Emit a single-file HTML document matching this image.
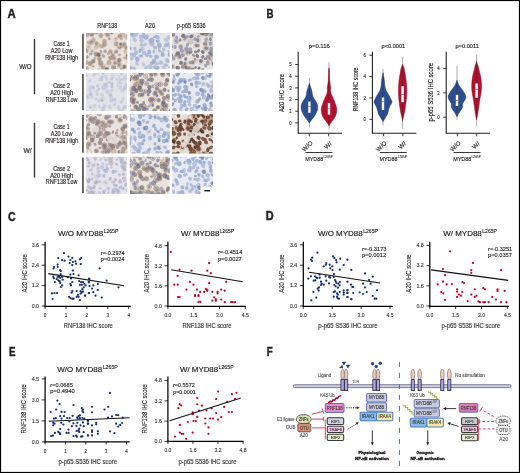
<!DOCTYPE html><html><head><meta charset="utf-8"><style>html,body{margin:0;padding:0;background:#fff;}svg text{font-family:"Liberation Sans",sans-serif;}</style></head><body><svg width="520" height="473" viewBox="0 0 520 473" style="display:block;opacity:0.999;font-family:'Liberation Sans', sans-serif" fill="#231f20">
<defs><filter id="blur" x="-5%" y="-5%" width="110%" height="110%"><feGaussianBlur stdDeviation="0.65"/><feColorMatrix type="saturate" values="0.8"/></filter></defs>
<rect x="0" y="0" width="520" height="473" fill="#fff"/>
<text x="7.50" y="17.50" font-size="12.3" font-weight="bold" textLength="8.20" lengthAdjust="spacingAndGlyphs" stroke="#231f20" stroke-width="0.45">A</text>
<text x="266.40" y="17.50" font-size="12.3" font-weight="bold" textLength="7.00" lengthAdjust="spacingAndGlyphs" stroke="#231f20" stroke-width="0.45">B</text>
<text x="7.90" y="220.50" font-size="12.3" font-weight="bold" textLength="7.60" lengthAdjust="spacingAndGlyphs" stroke="#231f20" stroke-width="0.45">C</text>
<text x="265.80" y="220.30" font-size="12.3" font-weight="bold" textLength="7.90" lengthAdjust="spacingAndGlyphs" stroke="#231f20" stroke-width="0.45">D</text>
<text x="8.90" y="356.20" font-size="12.3" font-weight="bold" textLength="6.50" lengthAdjust="spacingAndGlyphs" stroke="#231f20" stroke-width="0.45">E</text>
<text x="266.80" y="356.30" font-size="12.3" font-weight="bold" textLength="5.90" lengthAdjust="spacingAndGlyphs" stroke="#231f20" stroke-width="0.45">F</text>
<text x="97.30" y="28.30" font-size="6.4" stroke="#231f20" stroke-width="0.160" textLength="19.90" lengthAdjust="spacingAndGlyphs">RNF138</text>
<text x="145.10" y="28.30" font-size="6.4" stroke="#231f20" stroke-width="0.160" textLength="9.90" lengthAdjust="spacingAndGlyphs">A20</text>
<text x="176.90" y="28.30" font-size="6.4" stroke="#231f20" stroke-width="0.160" textLength="28.80" lengthAdjust="spacingAndGlyphs">p-p65 S536</text>
<clipPath id="c0"><rect x="86" y="33" width="41.3" height="36.5"/></clipPath>
<g clip-path="url(#c0)">
<rect x="86.00" y="33.00" width="41.30" height="36.50" fill="#e9e3de"/>
<g filter="url(#blur)">
<circle cx="93.0" cy="32.0" r="2.3" fill="#a07850" opacity="0.35"/>
<circle cx="93.0" cy="32.0" r="2.3" fill="none" stroke="#a07850" stroke-width="0.68" opacity="0.45"/>
<circle cx="96.7" cy="31.9" r="2.3" fill="#b08660" opacity="0.35"/>
<circle cx="96.7" cy="31.9" r="2.3" fill="none" stroke="#b08660" stroke-width="0.68" opacity="0.45"/>
<circle cx="106.6" cy="31.7" r="2.3" fill="#b08660" opacity="0.35"/>
<circle cx="106.6" cy="31.7" r="2.3" fill="none" stroke="#b08660" stroke-width="0.68" opacity="0.45"/>
<circle cx="111.9" cy="31.9" r="2.3" fill="#b08660" opacity="0.35"/>
<circle cx="111.9" cy="31.9" r="2.3" fill="none" stroke="#b08660" stroke-width="0.68" opacity="0.45"/>
<circle cx="121.6" cy="30.8" r="2.3" fill="#b08660" opacity="0.35"/>
<circle cx="121.6" cy="30.8" r="2.3" fill="none" stroke="#b08660" stroke-width="0.68" opacity="0.45"/>
<circle cx="124.5" cy="30.5" r="2.2" fill="none" stroke="#a07850" stroke-width="0.68" opacity="0.45"/>
<circle cx="87.3" cy="34.7" r="2.2" fill="#b08660" opacity="0.35"/>
<circle cx="87.3" cy="34.7" r="2.2" fill="none" stroke="#b08660" stroke-width="0.68" opacity="0.45"/>
<circle cx="91.9" cy="34.9" r="2.0" fill="#b08660" opacity="0.35"/>
<circle cx="91.9" cy="34.9" r="2.0" fill="none" stroke="#b08660" stroke-width="0.68" opacity="0.45"/>
<circle cx="100.9" cy="35.6" r="2.3" fill="#b08660" opacity="0.35"/>
<circle cx="100.9" cy="35.6" r="2.3" fill="none" stroke="#b08660" stroke-width="0.68" opacity="0.45"/>
<circle cx="106.7" cy="34.2" r="2.2" fill="none" stroke="#b08660" stroke-width="0.68" opacity="0.45"/>
<circle cx="108.1" cy="35.0" r="2.1" fill="#b08660" opacity="0.35"/>
<circle cx="108.1" cy="35.0" r="2.1" fill="none" stroke="#b08660" stroke-width="0.68" opacity="0.45"/>
<circle cx="119.7" cy="36.1" r="2.2" fill="#b08660" opacity="0.35"/>
<circle cx="119.7" cy="36.1" r="2.2" fill="none" stroke="#b08660" stroke-width="0.68" opacity="0.45"/>
<circle cx="122.6" cy="35.0" r="2.4" fill="#b08660" opacity="0.35"/>
<circle cx="122.6" cy="35.0" r="2.4" fill="none" stroke="#b08660" stroke-width="0.68" opacity="0.45"/>
<circle cx="127.1" cy="36.8" r="2.4" fill="none" stroke="#b08660" stroke-width="0.68" opacity="0.45"/>
<circle cx="93.5" cy="39.9" r="2.0" fill="none" stroke="#b08660" stroke-width="0.68" opacity="0.45"/>
<circle cx="104.4" cy="41.2" r="2.3" fill="#b08660" opacity="0.35"/>
<circle cx="104.4" cy="41.2" r="2.3" fill="none" stroke="#b08660" stroke-width="0.68" opacity="0.45"/>
<circle cx="115.8" cy="38.9" r="1.9" fill="none" stroke="#b08660" stroke-width="0.68" opacity="0.45"/>
<circle cx="91.0" cy="42.3" r="2.5" fill="#b08660" opacity="0.35"/>
<circle cx="91.0" cy="42.3" r="2.5" fill="none" stroke="#b08660" stroke-width="0.68" opacity="0.45"/>
<circle cx="96.5" cy="43.3" r="2.0" fill="#b08660" opacity="0.35"/>
<circle cx="96.5" cy="43.3" r="2.0" fill="none" stroke="#b08660" stroke-width="0.68" opacity="0.45"/>
<circle cx="104.5" cy="44.4" r="2.3" fill="#b08660" opacity="0.35"/>
<circle cx="104.5" cy="44.4" r="2.3" fill="none" stroke="#b08660" stroke-width="0.68" opacity="0.45"/>
<circle cx="116.2" cy="43.8" r="2.4" fill="#b08660" opacity="0.35"/>
<circle cx="116.2" cy="43.8" r="2.4" fill="none" stroke="#b08660" stroke-width="0.68" opacity="0.45"/>
<circle cx="124.2" cy="44.2" r="1.9" fill="#b08660" opacity="0.35"/>
<circle cx="124.2" cy="44.2" r="1.9" fill="none" stroke="#b08660" stroke-width="0.68" opacity="0.45"/>
<circle cx="88.5" cy="46.9" r="2.5" fill="none" stroke="#b08660" stroke-width="0.68" opacity="0.45"/>
<circle cx="96.1" cy="47.1" r="1.9" fill="#b08660" opacity="0.35"/>
<circle cx="96.1" cy="47.1" r="1.9" fill="none" stroke="#b08660" stroke-width="0.68" opacity="0.45"/>
<circle cx="100.3" cy="45.9" r="2.2" fill="none" stroke="#a07850" stroke-width="0.68" opacity="0.45"/>
<circle cx="103.0" cy="46.2" r="1.9" fill="none" stroke="#b08660" stroke-width="0.68" opacity="0.45"/>
<circle cx="119.2" cy="47.7" r="2.2" fill="none" stroke="#b08660" stroke-width="0.68" opacity="0.45"/>
<circle cx="121.8" cy="45.9" r="2.0" fill="#a07850" opacity="0.35"/>
<circle cx="121.8" cy="45.9" r="2.0" fill="none" stroke="#a07850" stroke-width="0.68" opacity="0.45"/>
<circle cx="126.5" cy="47.5" r="2.2" fill="#b08660" opacity="0.35"/>
<circle cx="126.5" cy="47.5" r="2.2" fill="none" stroke="#b08660" stroke-width="0.68" opacity="0.45"/>
<circle cx="86.1" cy="50.8" r="2.2" fill="#a07850" opacity="0.35"/>
<circle cx="86.1" cy="50.8" r="2.2" fill="none" stroke="#a07850" stroke-width="0.68" opacity="0.45"/>
<circle cx="92.2" cy="51.4" r="2.3" fill="none" stroke="#b08660" stroke-width="0.68" opacity="0.45"/>
<circle cx="110.5" cy="51.7" r="2.1" fill="#b08660" opacity="0.35"/>
<circle cx="110.5" cy="51.7" r="2.1" fill="none" stroke="#b08660" stroke-width="0.68" opacity="0.45"/>
<circle cx="116.2" cy="51.6" r="1.9" fill="#b08660" opacity="0.35"/>
<circle cx="116.2" cy="51.6" r="1.9" fill="none" stroke="#b08660" stroke-width="0.68" opacity="0.45"/>
<circle cx="125.6" cy="51.6" r="1.9" fill="#b08660" opacity="0.35"/>
<circle cx="125.6" cy="51.6" r="1.9" fill="none" stroke="#b08660" stroke-width="0.68" opacity="0.45"/>
<circle cx="83.7" cy="54.2" r="2.0" fill="#b08660" opacity="0.35"/>
<circle cx="83.7" cy="54.2" r="2.0" fill="none" stroke="#b08660" stroke-width="0.68" opacity="0.45"/>
<circle cx="96.4" cy="54.3" r="2.5" fill="#b08660" opacity="0.35"/>
<circle cx="96.4" cy="54.3" r="2.5" fill="none" stroke="#b08660" stroke-width="0.68" opacity="0.45"/>
<circle cx="98.8" cy="54.9" r="2.3" fill="#b08660" opacity="0.35"/>
<circle cx="98.8" cy="54.9" r="2.3" fill="none" stroke="#b08660" stroke-width="0.68" opacity="0.45"/>
<circle cx="112.9" cy="55.0" r="2.0" fill="#b08660" opacity="0.35"/>
<circle cx="112.9" cy="55.0" r="2.0" fill="none" stroke="#b08660" stroke-width="0.68" opacity="0.45"/>
<circle cx="99.4" cy="59.1" r="2.2" fill="#b08660" opacity="0.35"/>
<circle cx="99.4" cy="59.1" r="2.2" fill="none" stroke="#b08660" stroke-width="0.68" opacity="0.45"/>
<circle cx="110.5" cy="57.9" r="2.1" fill="#a07850" opacity="0.35"/>
<circle cx="110.5" cy="57.9" r="2.1" fill="none" stroke="#a07850" stroke-width="0.68" opacity="0.45"/>
<circle cx="114.0" cy="58.2" r="2.2" fill="#b08660" opacity="0.35"/>
<circle cx="114.0" cy="58.2" r="2.2" fill="none" stroke="#b08660" stroke-width="0.68" opacity="0.45"/>
<circle cx="119.3" cy="59.9" r="2.1" fill="#b08660" opacity="0.35"/>
<circle cx="119.3" cy="59.9" r="2.1" fill="none" stroke="#b08660" stroke-width="0.68" opacity="0.45"/>
<circle cx="127.2" cy="57.4" r="2.4" fill="#b08660" opacity="0.35"/>
<circle cx="127.2" cy="57.4" r="2.4" fill="none" stroke="#b08660" stroke-width="0.68" opacity="0.45"/>
<circle cx="85.5" cy="62.3" r="2.5" fill="#b08660" opacity="0.35"/>
<circle cx="85.5" cy="62.3" r="2.5" fill="none" stroke="#b08660" stroke-width="0.68" opacity="0.45"/>
<circle cx="90.1" cy="63.6" r="2.4" fill="#a07850" opacity="0.35"/>
<circle cx="90.1" cy="63.6" r="2.4" fill="none" stroke="#a07850" stroke-width="0.68" opacity="0.45"/>
<circle cx="93.2" cy="61.3" r="2.0" fill="#a07850" opacity="0.35"/>
<circle cx="93.2" cy="61.3" r="2.0" fill="none" stroke="#a07850" stroke-width="0.68" opacity="0.45"/>
<circle cx="100.5" cy="62.9" r="2.5" fill="#a07850" opacity="0.35"/>
<circle cx="100.5" cy="62.9" r="2.5" fill="none" stroke="#a07850" stroke-width="0.68" opacity="0.45"/>
<circle cx="109.2" cy="62.5" r="2.4" fill="#b08660" opacity="0.35"/>
<circle cx="109.2" cy="62.5" r="2.4" fill="none" stroke="#b08660" stroke-width="0.68" opacity="0.45"/>
<circle cx="115.0" cy="63.0" r="1.9" fill="#a07850" opacity="0.35"/>
<circle cx="115.0" cy="63.0" r="1.9" fill="none" stroke="#a07850" stroke-width="0.68" opacity="0.45"/>
<circle cx="118.6" cy="61.7" r="2.5" fill="none" stroke="#b08660" stroke-width="0.68" opacity="0.45"/>
<circle cx="128.8" cy="61.5" r="2.0" fill="#a07850" opacity="0.35"/>
<circle cx="128.8" cy="61.5" r="2.0" fill="none" stroke="#a07850" stroke-width="0.68" opacity="0.45"/>
<circle cx="101.7" cy="65.3" r="2.4" fill="none" stroke="#b08660" stroke-width="0.68" opacity="0.45"/>
<circle cx="106.4" cy="66.2" r="2.1" fill="none" stroke="#b08660" stroke-width="0.68" opacity="0.45"/>
<circle cx="119.2" cy="65.1" r="2.4" fill="#b08660" opacity="0.35"/>
<circle cx="119.2" cy="65.1" r="2.4" fill="none" stroke="#b08660" stroke-width="0.68" opacity="0.45"/>
<circle cx="124.4" cy="66.8" r="2.2" fill="#b08660" opacity="0.35"/>
<circle cx="124.4" cy="66.8" r="2.2" fill="none" stroke="#b08660" stroke-width="0.68" opacity="0.45"/>
<circle cx="86.4" cy="68.6" r="2.4" fill="#b08660" opacity="0.35"/>
<circle cx="86.4" cy="68.6" r="2.4" fill="none" stroke="#b08660" stroke-width="0.68" opacity="0.45"/>
<circle cx="103.6" cy="68.6" r="2.4" fill="#a07850" opacity="0.35"/>
<circle cx="103.6" cy="68.6" r="2.4" fill="none" stroke="#a07850" stroke-width="0.68" opacity="0.45"/>
<circle cx="107.0" cy="69.3" r="2.0" fill="#a07850" opacity="0.35"/>
<circle cx="107.0" cy="69.3" r="2.0" fill="none" stroke="#a07850" stroke-width="0.68" opacity="0.45"/>
<circle cx="115.6" cy="70.6" r="2.4" fill="none" stroke="#b08660" stroke-width="0.68" opacity="0.45"/>
<circle cx="121.9" cy="69.7" r="2.1" fill="#b08660" opacity="0.35"/>
<circle cx="121.9" cy="69.7" r="2.1" fill="none" stroke="#b08660" stroke-width="0.68" opacity="0.45"/>
<ellipse cx="85.5" cy="30.8" rx="1.7" ry="1.2" fill="#8a7a80" opacity="0.66" transform="rotate(121 85.5 30.8)"/>
<ellipse cx="89.4" cy="33.4" rx="1.8" ry="1.3" fill="#b09a88" opacity="0.66" transform="rotate(22 89.4 33.4)"/>
<ellipse cx="96.7" cy="31.9" rx="1.5" ry="1.3" fill="#5e4e54" opacity="0.66" transform="rotate(103 96.7 31.9)"/>
<ellipse cx="106.6" cy="31.7" rx="1.7" ry="1.3" fill="#9a8a84" opacity="0.66" transform="rotate(49 106.6 31.7)"/>
<ellipse cx="111.9" cy="31.9" rx="1.9" ry="1.4" fill="#5e4e54" opacity="0.66" transform="rotate(102 111.9 31.9)"/>
<ellipse cx="121.6" cy="30.8" rx="1.8" ry="1.4" fill="#8a7a80" opacity="0.66" transform="rotate(63 121.6 30.8)"/>
<ellipse cx="124.5" cy="30.5" rx="2.0" ry="1.3" fill="#5e4e54" opacity="0.66" transform="rotate(138 124.5 30.5)"/>
<ellipse cx="87.3" cy="34.7" rx="1.9" ry="1.4" fill="#b09a88" opacity="0.66" transform="rotate(126 87.3 34.7)"/>
<ellipse cx="91.9" cy="34.9" rx="2.0" ry="1.4" fill="#8a7a80" opacity="0.66" transform="rotate(176 91.9 34.9)"/>
<ellipse cx="100.9" cy="35.6" rx="2.0" ry="1.4" fill="#9a8a84" opacity="0.66" transform="rotate(62 100.9 35.6)"/>
<ellipse cx="106.7" cy="34.2" rx="1.7" ry="1.2" fill="#9a8a84" opacity="0.66" transform="rotate(85 106.7 34.2)"/>
<ellipse cx="108.1" cy="35.0" rx="1.5" ry="1.2" fill="#9a8a84" opacity="0.66" transform="rotate(71 108.1 35.0)"/>
<ellipse cx="119.7" cy="36.1" rx="1.9" ry="1.3" fill="#8a7a80" opacity="0.66" transform="rotate(164 119.7 36.1)"/>
<ellipse cx="127.1" cy="36.8" rx="2.0" ry="1.9" fill="#b09a88" opacity="0.66" transform="rotate(16 127.1 36.8)"/>
<ellipse cx="93.5" cy="39.9" rx="2.0" ry="1.5" fill="#b09a88" opacity="0.66" transform="rotate(57 93.5 39.9)"/>
<ellipse cx="104.4" cy="41.2" rx="1.9" ry="1.4" fill="#b09a88" opacity="0.66" transform="rotate(111 104.4 41.2)"/>
<ellipse cx="109.3" cy="38.9" rx="1.5" ry="1.4" fill="#9a8a84" opacity="0.66" transform="rotate(131 109.3 38.9)"/>
<ellipse cx="115.8" cy="38.9" rx="1.5" ry="1.0" fill="#b09a88" opacity="0.66" transform="rotate(144 115.8 38.9)"/>
<ellipse cx="121.2" cy="38.7" rx="1.9" ry="1.5" fill="#b09a88" opacity="0.66" transform="rotate(12 121.2 38.7)"/>
<ellipse cx="87.8" cy="42.5" rx="1.7" ry="1.2" fill="#b09a88" opacity="0.66" transform="rotate(65 87.8 42.5)"/>
<ellipse cx="91.0" cy="42.3" rx="1.9" ry="1.4" fill="#8a7a80" opacity="0.66" transform="rotate(157 91.0 42.3)"/>
<ellipse cx="96.5" cy="43.3" rx="1.7" ry="1.4" fill="#9a8a84" opacity="0.66" transform="rotate(125 96.5 43.3)"/>
<ellipse cx="104.5" cy="44.4" rx="1.7" ry="1.3" fill="#9a8a84" opacity="0.66" transform="rotate(31 104.5 44.4)"/>
<ellipse cx="116.2" cy="43.8" rx="2.1" ry="1.7" fill="#b09a88" opacity="0.66" transform="rotate(106 116.2 43.8)"/>
<ellipse cx="120.5" cy="44.0" rx="1.5" ry="1.4" fill="#5e4e54" opacity="0.66" transform="rotate(88 120.5 44.0)"/>
<ellipse cx="124.2" cy="44.2" rx="1.9" ry="1.4" fill="#9a8a84" opacity="0.66" transform="rotate(125 124.2 44.2)"/>
<ellipse cx="88.5" cy="46.9" rx="1.5" ry="1.4" fill="#b09a88" opacity="0.66" transform="rotate(82 88.5 46.9)"/>
<ellipse cx="100.3" cy="45.9" rx="1.8" ry="1.4" fill="#b09a88" opacity="0.66" transform="rotate(48 100.3 45.9)"/>
<ellipse cx="103.0" cy="46.2" rx="1.8" ry="1.4" fill="#b09a88" opacity="0.66" transform="rotate(104 103.0 46.2)"/>
<ellipse cx="119.2" cy="47.7" rx="1.9" ry="1.3" fill="#8a7a80" opacity="0.66" transform="rotate(3 119.2 47.7)"/>
<ellipse cx="121.8" cy="45.9" rx="2.0" ry="1.7" fill="#b09a88" opacity="0.66" transform="rotate(172 121.8 45.9)"/>
<ellipse cx="126.5" cy="47.5" rx="1.9" ry="1.6" fill="#8a7a80" opacity="0.66" transform="rotate(2 126.5 47.5)"/>
<ellipse cx="86.1" cy="50.8" rx="1.8" ry="1.7" fill="#9a8a84" opacity="0.66" transform="rotate(51 86.1 50.8)"/>
<ellipse cx="92.2" cy="51.4" rx="1.5" ry="1.2" fill="#9a8a84" opacity="0.66" transform="rotate(142 92.2 51.4)"/>
<ellipse cx="101.0" cy="51.8" rx="1.8" ry="1.3" fill="#9a8a84" opacity="0.66" transform="rotate(74 101.0 51.8)"/>
<ellipse cx="105.2" cy="51.3" rx="1.9" ry="1.8" fill="#9a8a84" opacity="0.66" transform="rotate(24 105.2 51.3)"/>
<ellipse cx="110.5" cy="51.7" rx="1.5" ry="1.3" fill="#9a8a84" opacity="0.66" transform="rotate(51 110.5 51.7)"/>
<ellipse cx="116.2" cy="51.6" rx="1.7" ry="1.2" fill="#8a7a80" opacity="0.66" transform="rotate(149 116.2 51.6)"/>
<ellipse cx="83.7" cy="54.2" rx="1.9" ry="1.7" fill="#9a8a84" opacity="0.66" transform="rotate(44 83.7 54.2)"/>
<ellipse cx="90.6" cy="54.1" rx="1.7" ry="1.4" fill="#9a8a84" opacity="0.66" transform="rotate(174 90.6 54.1)"/>
<ellipse cx="96.4" cy="54.3" rx="2.1" ry="1.8" fill="#8a7a80" opacity="0.66" transform="rotate(177 96.4 54.3)"/>
<ellipse cx="98.8" cy="54.9" rx="2.0" ry="1.6" fill="#5e4e54" opacity="0.66" transform="rotate(57 98.8 54.9)"/>
<ellipse cx="103.4" cy="56.0" rx="1.9" ry="1.5" fill="#9a8a84" opacity="0.66" transform="rotate(60 103.4 56.0)"/>
<ellipse cx="108.4" cy="53.5" rx="1.7" ry="1.5" fill="#b09a88" opacity="0.66" transform="rotate(122 108.4 53.5)"/>
<ellipse cx="112.9" cy="55.0" rx="1.5" ry="1.3" fill="#9a8a84" opacity="0.66" transform="rotate(37 112.9 55.0)"/>
<ellipse cx="119.3" cy="54.9" rx="1.7" ry="1.3" fill="#b09a88" opacity="0.66" transform="rotate(174 119.3 54.9)"/>
<ellipse cx="127.5" cy="55.4" rx="1.6" ry="1.4" fill="#5e4e54" opacity="0.66" transform="rotate(7 127.5 55.4)"/>
<ellipse cx="87.1" cy="57.0" rx="1.7" ry="1.6" fill="#8a7a80" opacity="0.66" transform="rotate(71 87.1 57.0)"/>
<ellipse cx="94.9" cy="58.4" rx="1.7" ry="1.4" fill="#b09a88" opacity="0.66" transform="rotate(97 94.9 58.4)"/>
<ellipse cx="99.4" cy="59.1" rx="1.8" ry="1.6" fill="#9a8a84" opacity="0.66" transform="rotate(73 99.4 59.1)"/>
<ellipse cx="110.5" cy="57.9" rx="2.0" ry="1.6" fill="#9a8a84" opacity="0.66" transform="rotate(175 110.5 57.9)"/>
<ellipse cx="114.0" cy="58.2" rx="1.6" ry="1.1" fill="#8a7a80" opacity="0.66" transform="rotate(51 114.0 58.2)"/>
<ellipse cx="119.3" cy="59.9" rx="1.8" ry="1.6" fill="#8a7a80" opacity="0.66" transform="rotate(57 119.3 59.9)"/>
<ellipse cx="124.0" cy="58.0" rx="1.5" ry="1.1" fill="#b09a88" opacity="0.66" transform="rotate(38 124.0 58.0)"/>
<ellipse cx="127.2" cy="57.4" rx="1.8" ry="1.4" fill="#8a7a80" opacity="0.66" transform="rotate(142 127.2 57.4)"/>
<ellipse cx="85.5" cy="62.3" rx="2.0" ry="1.4" fill="#8a7a80" opacity="0.66" transform="rotate(85 85.5 62.3)"/>
<ellipse cx="90.1" cy="63.6" rx="1.9" ry="1.7" fill="#9a8a84" opacity="0.66" transform="rotate(163 90.1 63.6)"/>
<ellipse cx="93.2" cy="61.3" rx="1.9" ry="1.7" fill="#8a7a80" opacity="0.66" transform="rotate(56 93.2 61.3)"/>
<ellipse cx="100.5" cy="62.9" rx="1.8" ry="1.8" fill="#9a8a84" opacity="0.66" transform="rotate(170 100.5 62.9)"/>
<ellipse cx="109.2" cy="62.5" rx="2.0" ry="1.7" fill="#b09a88" opacity="0.66" transform="rotate(62 109.2 62.5)"/>
<ellipse cx="115.0" cy="63.0" rx="1.4" ry="1.3" fill="#9a8a84" opacity="0.66" transform="rotate(177 115.0 63.0)"/>
<ellipse cx="118.6" cy="61.7" rx="1.6" ry="1.5" fill="#8a7a80" opacity="0.66" transform="rotate(135 118.6 61.7)"/>
<ellipse cx="128.8" cy="61.5" rx="1.9" ry="1.7" fill="#b09a88" opacity="0.66" transform="rotate(50 128.8 61.5)"/>
<ellipse cx="93.1" cy="66.3" rx="1.5" ry="1.1" fill="#9a8a84" opacity="0.66" transform="rotate(7 93.1 66.3)"/>
<ellipse cx="101.7" cy="65.3" rx="2.0" ry="1.7" fill="#9a8a84" opacity="0.66" transform="rotate(84 101.7 65.3)"/>
<ellipse cx="112.5" cy="66.4" rx="1.8" ry="1.6" fill="#b09a88" opacity="0.66" transform="rotate(123 112.5 66.4)"/>
<ellipse cx="114.7" cy="67.3" rx="1.9" ry="1.5" fill="#8a7a80" opacity="0.66" transform="rotate(91 114.7 67.3)"/>
<ellipse cx="119.2" cy="65.1" rx="1.6" ry="1.2" fill="#8a7a80" opacity="0.66" transform="rotate(67 119.2 65.1)"/>
<ellipse cx="124.4" cy="66.8" rx="1.7" ry="1.5" fill="#5e4e54" opacity="0.66" transform="rotate(87 124.4 66.8)"/>
<ellipse cx="86.4" cy="68.6" rx="1.6" ry="1.4" fill="#9a8a84" opacity="0.66" transform="rotate(115 86.4 68.6)"/>
<ellipse cx="88.8" cy="71.4" rx="1.7" ry="1.6" fill="#b09a88" opacity="0.66" transform="rotate(14 88.8 71.4)"/>
<ellipse cx="92.7" cy="70.7" rx="2.0" ry="1.6" fill="#9a8a84" opacity="0.66" transform="rotate(153 92.7 70.7)"/>
<ellipse cx="98.7" cy="69.5" rx="1.8" ry="1.3" fill="#b09a88" opacity="0.66" transform="rotate(147 98.7 69.5)"/>
<ellipse cx="103.6" cy="68.6" rx="1.5" ry="1.3" fill="#9a8a84" opacity="0.66" transform="rotate(34 103.6 68.6)"/>
<ellipse cx="107.0" cy="69.3" rx="2.0" ry="1.7" fill="#5e4e54" opacity="0.66" transform="rotate(32 107.0 69.3)"/>
<ellipse cx="112.9" cy="68.6" rx="1.9" ry="1.4" fill="#9a8a84" opacity="0.66" transform="rotate(45 112.9 68.6)"/>
<ellipse cx="121.9" cy="69.7" rx="1.9" ry="1.6" fill="#b09a88" opacity="0.66" transform="rotate(109 121.9 69.7)"/>
</g></g>
<clipPath id="c1"><rect x="129.8" y="33" width="40" height="36.5"/></clipPath>
<g clip-path="url(#c1)">
<rect x="129.80" y="33.00" width="40.00" height="36.50" fill="#e6e6ea"/>
<g filter="url(#blur)">
<circle cx="129.2" cy="31.1" r="2.6" fill="none" stroke="#c8ac8c" stroke-width="0.51" opacity="0.45"/>
<circle cx="162.3" cy="31.4" r="2.6" fill="none" stroke="#c8ac8c" stroke-width="0.51" opacity="0.45"/>
<circle cx="132.3" cy="34.7" r="3.2" fill="none" stroke="#c8ac8c" stroke-width="0.51" opacity="0.45"/>
<circle cx="151.4" cy="40.4" r="2.8" fill="none" stroke="#c8ac8c" stroke-width="0.51" opacity="0.45"/>
<circle cx="151.8" cy="43.7" r="2.8" fill="none" stroke="#c8ac8c" stroke-width="0.51" opacity="0.45"/>
<circle cx="167.9" cy="44.2" r="3.0" fill="none" stroke="#c8ac8c" stroke-width="0.51" opacity="0.45"/>
<circle cx="171.9" cy="62.2" r="2.8" fill="none" stroke="#c8ac8c" stroke-width="0.51" opacity="0.45"/>
<circle cx="130.1" cy="68.6" r="3.1" fill="none" stroke="#c8ac8c" stroke-width="0.51" opacity="0.45"/>
<ellipse cx="129.2" cy="31.1" rx="2.5" ry="2.3" fill="#a8b8dc" opacity="0.75" transform="rotate(61 129.2 31.1)"/>
<ellipse cx="132.3" cy="32.8" rx="2.6" ry="2.4" fill="#a8b8dc" opacity="0.75" transform="rotate(28 132.3 32.8)"/>
<ellipse cx="137.5" cy="31.9" rx="1.9" ry="1.5" fill="#8aa2d2" opacity="0.75" transform="rotate(88 137.5 31.9)"/>
<ellipse cx="143.6" cy="32.2" rx="2.1" ry="1.9" fill="#9ab0d8" opacity="0.75" transform="rotate(125 143.6 32.2)"/>
<ellipse cx="147.4" cy="30.7" rx="2.0" ry="1.5" fill="#8aa2d2" opacity="0.75" transform="rotate(175 147.4 30.7)"/>
<ellipse cx="152.1" cy="30.9" rx="2.2" ry="1.9" fill="#8aa2d2" opacity="0.75" transform="rotate(148 152.1 30.9)"/>
<ellipse cx="157.8" cy="31.3" rx="2.6" ry="2.2" fill="#a8b8dc" opacity="0.75" transform="rotate(49 157.8 31.3)"/>
<ellipse cx="162.3" cy="31.4" rx="1.9" ry="1.4" fill="#9ab0d8" opacity="0.75" transform="rotate(180 162.3 31.4)"/>
<ellipse cx="166.2" cy="30.6" rx="2.3" ry="2.1" fill="#8aa2d2" opacity="0.75" transform="rotate(134 166.2 30.6)"/>
<ellipse cx="170.5" cy="32.1" rx="1.9" ry="1.6" fill="#9ab0d8" opacity="0.75" transform="rotate(140 170.5 32.1)"/>
<ellipse cx="132.3" cy="34.7" rx="2.3" ry="2.0" fill="#8aa2d2" opacity="0.75" transform="rotate(51 132.3 34.7)"/>
<ellipse cx="135.7" cy="34.9" rx="2.4" ry="2.2" fill="#a8b8dc" opacity="0.75" transform="rotate(160 135.7 34.9)"/>
<ellipse cx="140.9" cy="36.6" rx="2.2" ry="2.0" fill="#9ab0d8" opacity="0.75" transform="rotate(103 140.9 36.6)"/>
<ellipse cx="144.0" cy="36.3" rx="2.4" ry="2.0" fill="#8aa2d2" opacity="0.75" transform="rotate(99 144.0 36.3)"/>
<ellipse cx="147.4" cy="36.3" rx="2.0" ry="1.5" fill="#9ab0d8" opacity="0.75" transform="rotate(76 147.4 36.3)"/>
<ellipse cx="154.8" cy="37.0" rx="1.9" ry="1.3" fill="#8aa2d2" opacity="0.75" transform="rotate(165 154.8 37.0)"/>
<ellipse cx="157.4" cy="37.1" rx="2.6" ry="2.0" fill="#9ab0d8" opacity="0.75" transform="rotate(25 157.4 37.1)"/>
<ellipse cx="168.9" cy="36.8" rx="2.6" ry="1.8" fill="#a8b8dc" opacity="0.75" transform="rotate(153 168.9 36.8)"/>
<ellipse cx="128.7" cy="40.2" rx="2.1" ry="1.5" fill="#8aa2d2" opacity="0.75" transform="rotate(17 128.7 40.2)"/>
<ellipse cx="134.7" cy="39.8" rx="2.6" ry="2.0" fill="#a8b8dc" opacity="0.75" transform="rotate(48 134.7 39.8)"/>
<ellipse cx="141.6" cy="40.8" rx="2.5" ry="2.3" fill="#a8b8dc" opacity="0.75" transform="rotate(51 141.6 40.8)"/>
<ellipse cx="146.3" cy="38.5" rx="1.9" ry="1.3" fill="#8aa2d2" opacity="0.75" transform="rotate(164 146.3 38.5)"/>
<ellipse cx="151.4" cy="40.4" rx="2.7" ry="2.5" fill="#8aa2d2" opacity="0.75" transform="rotate(145 151.4 40.4)"/>
<ellipse cx="157.7" cy="41.1" rx="2.0" ry="1.8" fill="#8aa2d2" opacity="0.75" transform="rotate(11 157.7 41.1)"/>
<ellipse cx="166.0" cy="40.0" rx="2.1" ry="1.9" fill="#a8b8dc" opacity="0.75" transform="rotate(15 166.0 40.0)"/>
<ellipse cx="170.5" cy="38.6" rx="2.4" ry="1.9" fill="#a8b8dc" opacity="0.75" transform="rotate(136 170.5 38.6)"/>
<ellipse cx="141.8" cy="45.0" rx="2.0" ry="1.5" fill="#9ab0d8" opacity="0.75" transform="rotate(7 141.8 45.0)"/>
<ellipse cx="145.4" cy="44.5" rx="2.1" ry="1.7" fill="#a8b8dc" opacity="0.75" transform="rotate(123 145.4 44.5)"/>
<ellipse cx="151.8" cy="43.7" rx="2.6" ry="2.4" fill="#9ab0d8" opacity="0.75" transform="rotate(76 151.8 43.7)"/>
<ellipse cx="159.4" cy="45.3" rx="2.7" ry="2.3" fill="#8aa2d2" opacity="0.75" transform="rotate(59 159.4 45.3)"/>
<ellipse cx="165.8" cy="45.4" rx="2.2" ry="2.0" fill="#9ab0d8" opacity="0.75" transform="rotate(178 165.8 45.4)"/>
<ellipse cx="167.9" cy="44.2" rx="2.2" ry="2.0" fill="#9ab0d8" opacity="0.75" transform="rotate(141 167.9 44.2)"/>
<ellipse cx="129.9" cy="48.1" rx="2.0" ry="1.8" fill="#8aa2d2" opacity="0.75" transform="rotate(26 129.9 48.1)"/>
<ellipse cx="134.9" cy="48.5" rx="2.1" ry="1.8" fill="#9ab0d8" opacity="0.75" transform="rotate(88 134.9 48.5)"/>
<ellipse cx="142.3" cy="48.7" rx="2.5" ry="2.1" fill="#a8b8dc" opacity="0.75" transform="rotate(162 142.3 48.7)"/>
<ellipse cx="155.2" cy="47.6" rx="2.4" ry="1.8" fill="#9ab0d8" opacity="0.75" transform="rotate(32 155.2 47.6)"/>
<ellipse cx="159.4" cy="48.6" rx="1.9" ry="1.3" fill="#9ab0d8" opacity="0.75" transform="rotate(83 159.4 48.6)"/>
<ellipse cx="163.7" cy="49.3" rx="1.9" ry="1.5" fill="#9ab0d8" opacity="0.75" transform="rotate(74 163.7 49.3)"/>
<ellipse cx="170.0" cy="46.8" rx="2.2" ry="1.5" fill="#9ab0d8" opacity="0.75" transform="rotate(93 170.0 46.8)"/>
<ellipse cx="136.1" cy="52.5" rx="2.4" ry="1.8" fill="#9ab0d8" opacity="0.75" transform="rotate(69 136.1 52.5)"/>
<ellipse cx="140.0" cy="50.8" rx="2.2" ry="1.5" fill="#8aa2d2" opacity="0.75" transform="rotate(106 140.0 50.8)"/>
<ellipse cx="144.1" cy="52.8" rx="2.2" ry="2.1" fill="#9ab0d8" opacity="0.75" transform="rotate(6 144.1 52.8)"/>
<ellipse cx="149.3" cy="52.0" rx="2.4" ry="2.0" fill="#8aa2d2" opacity="0.75" transform="rotate(99 149.3 52.0)"/>
<ellipse cx="153.9" cy="51.5" rx="2.0" ry="1.4" fill="#9ab0d8" opacity="0.75" transform="rotate(92 153.9 51.5)"/>
<ellipse cx="159.8" cy="51.3" rx="2.1" ry="1.4" fill="#9ab0d8" opacity="0.75" transform="rotate(28 159.8 51.3)"/>
<ellipse cx="162.5" cy="53.1" rx="1.9" ry="1.5" fill="#9ab0d8" opacity="0.75" transform="rotate(113 162.5 53.1)"/>
<ellipse cx="169.1" cy="51.6" rx="2.0" ry="1.5" fill="#a8b8dc" opacity="0.75" transform="rotate(24 169.1 51.6)"/>
<ellipse cx="129.4" cy="54.7" rx="2.6" ry="1.9" fill="#9ab0d8" opacity="0.75" transform="rotate(160 129.4 54.7)"/>
<ellipse cx="133.8" cy="54.9" rx="2.6" ry="2.0" fill="#9ab0d8" opacity="0.75" transform="rotate(35 133.8 54.9)"/>
<ellipse cx="140.9" cy="55.9" rx="2.0" ry="1.7" fill="#8aa2d2" opacity="0.75" transform="rotate(3 140.9 55.9)"/>
<ellipse cx="147.0" cy="55.2" rx="2.1" ry="2.0" fill="#9ab0d8" opacity="0.75" transform="rotate(146 147.0 55.2)"/>
<ellipse cx="150.7" cy="56.2" rx="1.9" ry="1.6" fill="#9ab0d8" opacity="0.75" transform="rotate(22 150.7 56.2)"/>
<ellipse cx="156.5" cy="56.8" rx="2.4" ry="2.2" fill="#8aa2d2" opacity="0.75" transform="rotate(91 156.5 56.8)"/>
<ellipse cx="162.7" cy="55.1" rx="2.0" ry="1.8" fill="#8aa2d2" opacity="0.75" transform="rotate(1 162.7 55.1)"/>
<ellipse cx="169.3" cy="55.1" rx="2.1" ry="1.5" fill="#8aa2d2" opacity="0.75" transform="rotate(57 169.3 55.1)"/>
<ellipse cx="131.7" cy="58.3" rx="2.3" ry="1.9" fill="#a8b8dc" opacity="0.75" transform="rotate(116 131.7 58.3)"/>
<ellipse cx="137.3" cy="59.1" rx="2.7" ry="2.2" fill="#8aa2d2" opacity="0.75" transform="rotate(70 137.3 59.1)"/>
<ellipse cx="154.1" cy="60.4" rx="2.1" ry="1.9" fill="#8aa2d2" opacity="0.75" transform="rotate(2 154.1 60.4)"/>
<ellipse cx="167.3" cy="60.6" rx="2.6" ry="2.0" fill="#9ab0d8" opacity="0.75" transform="rotate(65 167.3 60.6)"/>
<ellipse cx="136.9" cy="63.5" rx="2.2" ry="1.6" fill="#a8b8dc" opacity="0.75" transform="rotate(60 136.9 63.5)"/>
<ellipse cx="143.4" cy="64.4" rx="2.1" ry="1.5" fill="#a8b8dc" opacity="0.75" transform="rotate(40 143.4 64.4)"/>
<ellipse cx="152.4" cy="62.9" rx="2.5" ry="1.9" fill="#8aa2d2" opacity="0.75" transform="rotate(164 152.4 62.9)"/>
<ellipse cx="156.3" cy="63.6" rx="2.4" ry="1.8" fill="#a8b8dc" opacity="0.75" transform="rotate(23 156.3 63.6)"/>
<ellipse cx="160.7" cy="62.6" rx="2.6" ry="2.2" fill="#a8b8dc" opacity="0.75" transform="rotate(13 160.7 62.6)"/>
<ellipse cx="165.8" cy="65.0" rx="2.3" ry="1.6" fill="#9ab0d8" opacity="0.75" transform="rotate(10 165.8 65.0)"/>
<ellipse cx="171.9" cy="62.2" rx="2.0" ry="1.8" fill="#8aa2d2" opacity="0.75" transform="rotate(160 171.9 62.2)"/>
<ellipse cx="130.1" cy="68.6" rx="2.5" ry="2.1" fill="#8aa2d2" opacity="0.75" transform="rotate(155 130.1 68.6)"/>
<ellipse cx="134.2" cy="68.5" rx="2.1" ry="1.7" fill="#9ab0d8" opacity="0.75" transform="rotate(178 134.2 68.5)"/>
<ellipse cx="146.0" cy="67.8" rx="2.4" ry="1.8" fill="#a8b8dc" opacity="0.75" transform="rotate(141 146.0 67.8)"/>
<ellipse cx="150.2" cy="66.8" rx="2.7" ry="2.4" fill="#a8b8dc" opacity="0.75" transform="rotate(88 150.2 66.8)"/>
<ellipse cx="154.9" cy="67.2" rx="2.3" ry="1.9" fill="#9ab0d8" opacity="0.75" transform="rotate(36 154.9 67.2)"/>
<ellipse cx="157.5" cy="68.3" rx="2.7" ry="1.8" fill="#8aa2d2" opacity="0.75" transform="rotate(122 157.5 68.3)"/>
<ellipse cx="163.7" cy="67.3" rx="2.3" ry="1.6" fill="#a8b8dc" opacity="0.75" transform="rotate(29 163.7 67.3)"/>
<ellipse cx="170.3" cy="66.9" rx="2.2" ry="1.5" fill="#9ab0d8" opacity="0.75" transform="rotate(162 170.3 66.9)"/>
</g></g>
<clipPath id="c2"><rect x="172" y="33" width="41" height="36.5"/></clipPath>
<g clip-path="url(#c2)">
<rect x="172.00" y="33.00" width="41.00" height="36.50" fill="#e6e3e2"/>
<g filter="url(#blur)">
<circle cx="191.4" cy="33.1" r="2.5" fill="none" stroke="#b09078" stroke-width="0.59" opacity="0.45"/>
<circle cx="202.5" cy="33.1" r="2.7" fill="#b09078" opacity="0.35"/>
<circle cx="202.5" cy="33.1" r="2.7" fill="none" stroke="#b09078" stroke-width="0.59" opacity="0.45"/>
<circle cx="206.4" cy="32.3" r="2.2" fill="#b09078" opacity="0.35"/>
<circle cx="206.4" cy="32.3" r="2.2" fill="none" stroke="#b09078" stroke-width="0.59" opacity="0.45"/>
<circle cx="209.0" cy="32.7" r="2.5" fill="#b09078" opacity="0.35"/>
<circle cx="209.0" cy="32.7" r="2.5" fill="none" stroke="#b09078" stroke-width="0.59" opacity="0.45"/>
<circle cx="173.0" cy="34.7" r="2.3" fill="#b09078" opacity="0.35"/>
<circle cx="173.0" cy="34.7" r="2.3" fill="none" stroke="#b09078" stroke-width="0.59" opacity="0.45"/>
<circle cx="198.3" cy="36.5" r="2.8" fill="none" stroke="#b09078" stroke-width="0.59" opacity="0.45"/>
<circle cx="206.3" cy="35.1" r="2.5" fill="none" stroke="#b09078" stroke-width="0.59" opacity="0.45"/>
<circle cx="212.0" cy="34.9" r="2.7" fill="#b09078" opacity="0.35"/>
<circle cx="212.0" cy="34.9" r="2.7" fill="none" stroke="#b09078" stroke-width="0.59" opacity="0.45"/>
<circle cx="176.3" cy="41.2" r="2.8" fill="#b09078" opacity="0.35"/>
<circle cx="176.3" cy="41.2" r="2.8" fill="none" stroke="#b09078" stroke-width="0.59" opacity="0.45"/>
<circle cx="184.8" cy="38.8" r="2.5" fill="none" stroke="#b09078" stroke-width="0.59" opacity="0.45"/>
<circle cx="190.6" cy="41.4" r="2.6" fill="#b09078" opacity="0.35"/>
<circle cx="190.6" cy="41.4" r="2.6" fill="none" stroke="#b09078" stroke-width="0.59" opacity="0.45"/>
<circle cx="197.9" cy="40.4" r="2.7" fill="none" stroke="#b09078" stroke-width="0.59" opacity="0.45"/>
<circle cx="206.2" cy="39.8" r="2.2" fill="none" stroke="#b09078" stroke-width="0.59" opacity="0.45"/>
<circle cx="196.1" cy="45.5" r="2.5" fill="none" stroke="#b09078" stroke-width="0.59" opacity="0.45"/>
<circle cx="205.1" cy="43.8" r="2.3" fill="#b09078" opacity="0.35"/>
<circle cx="205.1" cy="43.8" r="2.3" fill="none" stroke="#b09078" stroke-width="0.59" opacity="0.45"/>
<circle cx="171.5" cy="46.8" r="2.3" fill="none" stroke="#b09078" stroke-width="0.59" opacity="0.45"/>
<circle cx="180.8" cy="46.9" r="2.3" fill="#b09078" opacity="0.35"/>
<circle cx="180.8" cy="46.9" r="2.3" fill="none" stroke="#b09078" stroke-width="0.59" opacity="0.45"/>
<circle cx="186.3" cy="48.9" r="2.2" fill="#b09078" opacity="0.35"/>
<circle cx="186.3" cy="48.9" r="2.2" fill="none" stroke="#b09078" stroke-width="0.59" opacity="0.45"/>
<circle cx="206.2" cy="48.3" r="2.8" fill="#b09078" opacity="0.35"/>
<circle cx="206.2" cy="48.3" r="2.8" fill="none" stroke="#b09078" stroke-width="0.59" opacity="0.45"/>
<circle cx="187.4" cy="52.4" r="2.8" fill="#b09078" opacity="0.35"/>
<circle cx="187.4" cy="52.4" r="2.8" fill="none" stroke="#b09078" stroke-width="0.59" opacity="0.45"/>
<circle cx="211.3" cy="51.4" r="2.7" fill="none" stroke="#b09078" stroke-width="0.59" opacity="0.45"/>
<circle cx="179.6" cy="56.5" r="2.8" fill="#b09078" opacity="0.35"/>
<circle cx="179.6" cy="56.5" r="2.8" fill="none" stroke="#b09078" stroke-width="0.59" opacity="0.45"/>
<circle cx="212.2" cy="54.6" r="2.5" fill="#b09078" opacity="0.35"/>
<circle cx="212.2" cy="54.6" r="2.5" fill="none" stroke="#b09078" stroke-width="0.59" opacity="0.45"/>
<circle cx="173.4" cy="58.2" r="2.3" fill="none" stroke="#b09078" stroke-width="0.59" opacity="0.45"/>
<circle cx="195.3" cy="59.4" r="2.4" fill="none" stroke="#b09078" stroke-width="0.59" opacity="0.45"/>
<circle cx="205.5" cy="58.8" r="2.8" fill="none" stroke="#b09078" stroke-width="0.59" opacity="0.45"/>
<circle cx="209.6" cy="58.6" r="2.9" fill="#b09078" opacity="0.35"/>
<circle cx="209.6" cy="58.6" r="2.9" fill="none" stroke="#b09078" stroke-width="0.59" opacity="0.45"/>
<circle cx="184.9" cy="63.8" r="2.3" fill="#b09078" opacity="0.35"/>
<circle cx="184.9" cy="63.8" r="2.3" fill="none" stroke="#b09078" stroke-width="0.59" opacity="0.45"/>
<circle cx="192.8" cy="62.3" r="2.3" fill="#b09078" opacity="0.35"/>
<circle cx="192.8" cy="62.3" r="2.3" fill="none" stroke="#b09078" stroke-width="0.59" opacity="0.45"/>
<circle cx="200.5" cy="61.8" r="2.7" fill="none" stroke="#b09078" stroke-width="0.59" opacity="0.45"/>
<circle cx="213.8" cy="63.4" r="2.8" fill="#b09078" opacity="0.35"/>
<circle cx="213.8" cy="63.4" r="2.8" fill="none" stroke="#b09078" stroke-width="0.59" opacity="0.45"/>
<circle cx="172.0" cy="66.5" r="2.7" fill="none" stroke="#b09078" stroke-width="0.59" opacity="0.45"/>
<circle cx="186.1" cy="67.7" r="2.4" fill="#b09078" opacity="0.35"/>
<circle cx="186.1" cy="67.7" r="2.4" fill="none" stroke="#b09078" stroke-width="0.59" opacity="0.45"/>
<circle cx="189.4" cy="68.4" r="2.5" fill="#b09078" opacity="0.35"/>
<circle cx="189.4" cy="68.4" r="2.5" fill="none" stroke="#b09078" stroke-width="0.59" opacity="0.45"/>
<circle cx="199.3" cy="70.8" r="2.8" fill="none" stroke="#b09078" stroke-width="0.59" opacity="0.45"/>
<circle cx="208.4" cy="71.9" r="2.5" fill="#b09078" opacity="0.35"/>
<circle cx="208.4" cy="71.9" r="2.5" fill="none" stroke="#b09078" stroke-width="0.59" opacity="0.45"/>
<ellipse cx="175.3" cy="31.2" rx="1.8" ry="1.2" fill="#5a4e5e" opacity="0.7" transform="rotate(93 175.3 31.2)"/>
<ellipse cx="183.1" cy="31.4" rx="2.1" ry="1.6" fill="#7a86ac" opacity="0.7" transform="rotate(156 183.1 31.4)"/>
<ellipse cx="198.3" cy="31.6" rx="1.7" ry="1.4" fill="#5a4e5e" opacity="0.7" transform="rotate(35 198.3 31.6)"/>
<ellipse cx="202.5" cy="33.1" rx="2.3" ry="2.1" fill="#5a4e5e" opacity="0.7" transform="rotate(21 202.5 33.1)"/>
<ellipse cx="206.4" cy="32.3" rx="2.3" ry="1.9" fill="#6a6478" opacity="0.7" transform="rotate(12 206.4 32.3)"/>
<ellipse cx="209.0" cy="32.7" rx="1.7" ry="1.3" fill="#7a86ac" opacity="0.7" transform="rotate(11 209.0 32.7)"/>
<ellipse cx="214.4" cy="32.7" rx="2.2" ry="2.0" fill="#5a4e5e" opacity="0.7" transform="rotate(134 214.4 32.7)"/>
<ellipse cx="173.0" cy="34.7" rx="1.9" ry="1.5" fill="#6a6478" opacity="0.7" transform="rotate(6 173.0 34.7)"/>
<ellipse cx="176.7" cy="37.5" rx="1.8" ry="1.5" fill="#7a86ac" opacity="0.7" transform="rotate(82 176.7 37.5)"/>
<ellipse cx="183.3" cy="35.8" rx="2.3" ry="2.1" fill="#5a4e5e" opacity="0.7" transform="rotate(15 183.3 35.8)"/>
<ellipse cx="187.2" cy="36.8" rx="1.8" ry="1.6" fill="#7a86ac" opacity="0.7" transform="rotate(160 187.2 36.8)"/>
<ellipse cx="191.4" cy="36.4" rx="2.3" ry="1.8" fill="#5a4e5e" opacity="0.7" transform="rotate(159 191.4 36.4)"/>
<ellipse cx="198.3" cy="36.5" rx="1.6" ry="1.2" fill="#7a86ac" opacity="0.7" transform="rotate(150 198.3 36.5)"/>
<ellipse cx="206.3" cy="35.1" rx="1.8" ry="1.3" fill="#8a7468" opacity="0.7" transform="rotate(166 206.3 35.1)"/>
<ellipse cx="212.0" cy="34.9" rx="2.0" ry="1.6" fill="#7a86ac" opacity="0.7" transform="rotate(178 212.0 34.9)"/>
<ellipse cx="176.3" cy="41.2" rx="1.7" ry="1.5" fill="#7a86ac" opacity="0.7" transform="rotate(52 176.3 41.2)"/>
<ellipse cx="180.2" cy="40.0" rx="1.7" ry="1.3" fill="#6a6478" opacity="0.7" transform="rotate(90 180.2 40.0)"/>
<ellipse cx="184.8" cy="38.8" rx="1.9" ry="1.3" fill="#8a7468" opacity="0.7" transform="rotate(118 184.8 38.8)"/>
<ellipse cx="195.0" cy="39.0" rx="1.8" ry="1.7" fill="#7a86ac" opacity="0.7" transform="rotate(16 195.0 39.0)"/>
<ellipse cx="197.9" cy="40.4" rx="2.1" ry="1.6" fill="#6a6478" opacity="0.7" transform="rotate(89 197.9 40.4)"/>
<ellipse cx="206.2" cy="39.8" rx="1.9" ry="1.7" fill="#7a86ac" opacity="0.7" transform="rotate(125 206.2 39.8)"/>
<ellipse cx="210.4" cy="39.4" rx="1.9" ry="1.4" fill="#6a6478" opacity="0.7" transform="rotate(72 210.4 39.4)"/>
<ellipse cx="187.4" cy="44.8" rx="2.2" ry="1.6" fill="#7a86ac" opacity="0.7" transform="rotate(120 187.4 44.8)"/>
<ellipse cx="196.1" cy="45.5" rx="1.8" ry="1.5" fill="#6a6478" opacity="0.7" transform="rotate(36 196.1 45.5)"/>
<ellipse cx="198.2" cy="45.5" rx="1.7" ry="1.5" fill="#8a7468" opacity="0.7" transform="rotate(45 198.2 45.5)"/>
<ellipse cx="205.1" cy="43.8" rx="2.1" ry="1.6" fill="#8a7468" opacity="0.7" transform="rotate(11 205.1 43.8)"/>
<ellipse cx="210.5" cy="43.6" rx="2.2" ry="1.9" fill="#7a86ac" opacity="0.7" transform="rotate(64 210.5 43.6)"/>
<ellipse cx="215.0" cy="44.4" rx="2.2" ry="1.7" fill="#6a6478" opacity="0.7" transform="rotate(26 215.0 44.4)"/>
<ellipse cx="171.5" cy="46.8" rx="1.6" ry="1.3" fill="#8a7468" opacity="0.7" transform="rotate(156 171.5 46.8)"/>
<ellipse cx="175.2" cy="46.9" rx="2.2" ry="1.6" fill="#7a86ac" opacity="0.7" transform="rotate(79 175.2 46.9)"/>
<ellipse cx="180.8" cy="46.9" rx="2.3" ry="1.7" fill="#7a86ac" opacity="0.7" transform="rotate(99 180.8 46.9)"/>
<ellipse cx="186.3" cy="48.9" rx="1.8" ry="1.7" fill="#7a86ac" opacity="0.7" transform="rotate(136 186.3 48.9)"/>
<ellipse cx="190.2" cy="48.9" rx="1.9" ry="1.7" fill="#7a86ac" opacity="0.7" transform="rotate(176 190.2 48.9)"/>
<ellipse cx="206.2" cy="48.3" rx="1.9" ry="1.6" fill="#6a6478" opacity="0.7" transform="rotate(16 206.2 48.3)"/>
<ellipse cx="211.1" cy="48.8" rx="2.3" ry="2.0" fill="#7a86ac" opacity="0.7" transform="rotate(98 211.1 48.8)"/>
<ellipse cx="177.7" cy="53.3" rx="2.4" ry="1.9" fill="#5a4e5e" opacity="0.7" transform="rotate(152 177.7 53.3)"/>
<ellipse cx="181.8" cy="50.8" rx="2.3" ry="2.1" fill="#7a86ac" opacity="0.7" transform="rotate(11 181.8 50.8)"/>
<ellipse cx="187.4" cy="52.4" rx="1.7" ry="1.3" fill="#8a7468" opacity="0.7" transform="rotate(116 187.4 52.4)"/>
<ellipse cx="190.6" cy="52.1" rx="2.1" ry="1.7" fill="#6a6478" opacity="0.7" transform="rotate(165 190.6 52.1)"/>
<ellipse cx="195.6" cy="51.9" rx="1.6" ry="1.3" fill="#5a4e5e" opacity="0.7" transform="rotate(17 195.6 51.9)"/>
<ellipse cx="198.5" cy="50.8" rx="1.9" ry="1.4" fill="#5a4e5e" opacity="0.7" transform="rotate(126 198.5 50.8)"/>
<ellipse cx="202.8" cy="52.0" rx="2.1" ry="1.7" fill="#5a4e5e" opacity="0.7" transform="rotate(57 202.8 52.0)"/>
<ellipse cx="210.0" cy="53.5" rx="2.2" ry="1.8" fill="#6a6478" opacity="0.7" transform="rotate(61 210.0 53.5)"/>
<ellipse cx="211.3" cy="51.4" rx="1.7" ry="1.5" fill="#7a86ac" opacity="0.7" transform="rotate(1 211.3 51.4)"/>
<ellipse cx="171.1" cy="55.7" rx="2.4" ry="1.7" fill="#5a4e5e" opacity="0.7" transform="rotate(109 171.1 55.7)"/>
<ellipse cx="176.2" cy="55.1" rx="2.0" ry="1.5" fill="#8a7468" opacity="0.7" transform="rotate(142 176.2 55.1)"/>
<ellipse cx="179.6" cy="56.5" rx="2.0" ry="1.5" fill="#6a6478" opacity="0.7" transform="rotate(85 179.6 56.5)"/>
<ellipse cx="182.7" cy="54.9" rx="2.2" ry="1.9" fill="#7a86ac" opacity="0.7" transform="rotate(21 182.7 54.9)"/>
<ellipse cx="193.5" cy="55.4" rx="1.9" ry="1.3" fill="#8a7468" opacity="0.7" transform="rotate(25 193.5 55.4)"/>
<ellipse cx="197.3" cy="55.9" rx="2.2" ry="1.5" fill="#5a4e5e" opacity="0.7" transform="rotate(66 197.3 55.9)"/>
<ellipse cx="202.7" cy="56.8" rx="1.9" ry="1.6" fill="#6a6478" opacity="0.7" transform="rotate(121 202.7 56.8)"/>
<ellipse cx="207.9" cy="56.6" rx="2.0" ry="1.5" fill="#7a86ac" opacity="0.7" transform="rotate(3 207.9 56.6)"/>
<ellipse cx="212.2" cy="54.6" rx="2.0" ry="1.3" fill="#7a86ac" opacity="0.7" transform="rotate(114 212.2 54.6)"/>
<ellipse cx="173.4" cy="58.2" rx="2.0" ry="1.8" fill="#7a86ac" opacity="0.7" transform="rotate(75 173.4 58.2)"/>
<ellipse cx="185.8" cy="59.0" rx="1.8" ry="1.5" fill="#5a4e5e" opacity="0.7" transform="rotate(97 185.8 59.0)"/>
<ellipse cx="195.3" cy="59.4" rx="1.7" ry="1.2" fill="#8a7468" opacity="0.7" transform="rotate(73 195.3 59.4)"/>
<ellipse cx="201.0" cy="60.7" rx="2.0" ry="1.5" fill="#6a6478" opacity="0.7" transform="rotate(24 201.0 60.7)"/>
<ellipse cx="205.5" cy="58.8" rx="1.8" ry="1.3" fill="#6a6478" opacity="0.7" transform="rotate(0 205.5 58.8)"/>
<ellipse cx="209.6" cy="58.6" rx="1.6" ry="1.2" fill="#8a7468" opacity="0.7" transform="rotate(80 209.6 58.6)"/>
<ellipse cx="169.7" cy="61.6" rx="1.9" ry="1.3" fill="#7a86ac" opacity="0.7" transform="rotate(120 169.7 61.6)"/>
<ellipse cx="181.0" cy="62.8" rx="2.1" ry="1.9" fill="#5a4e5e" opacity="0.7" transform="rotate(84 181.0 62.8)"/>
<ellipse cx="184.9" cy="63.8" rx="1.8" ry="1.3" fill="#6a6478" opacity="0.7" transform="rotate(95 184.9 63.8)"/>
<ellipse cx="190.0" cy="62.6" rx="1.8" ry="1.6" fill="#7a86ac" opacity="0.7" transform="rotate(45 190.0 62.6)"/>
<ellipse cx="192.8" cy="62.3" rx="1.9" ry="1.5" fill="#8a7468" opacity="0.7" transform="rotate(66 192.8 62.3)"/>
<ellipse cx="200.5" cy="61.8" rx="1.7" ry="1.3" fill="#6a6478" opacity="0.7" transform="rotate(48 200.5 61.8)"/>
<ellipse cx="207.7" cy="63.0" rx="2.4" ry="1.8" fill="#7a86ac" opacity="0.7" transform="rotate(71 207.7 63.0)"/>
<ellipse cx="213.8" cy="63.4" rx="2.0" ry="1.8" fill="#5a4e5e" opacity="0.7" transform="rotate(102 213.8 63.4)"/>
<ellipse cx="172.0" cy="66.5" rx="2.2" ry="1.8" fill="#6a6478" opacity="0.7" transform="rotate(87 172.0 66.5)"/>
<ellipse cx="177.7" cy="67.9" rx="2.3" ry="2.0" fill="#5a4e5e" opacity="0.7" transform="rotate(20 177.7 67.9)"/>
<ellipse cx="182.7" cy="66.7" rx="2.2" ry="1.7" fill="#8a7468" opacity="0.7" transform="rotate(116 182.7 66.7)"/>
<ellipse cx="186.1" cy="67.7" rx="1.9" ry="1.4" fill="#5a4e5e" opacity="0.7" transform="rotate(58 186.1 67.7)"/>
<ellipse cx="189.4" cy="68.4" rx="1.7" ry="1.4" fill="#8a7468" opacity="0.7" transform="rotate(110 189.4 68.4)"/>
<ellipse cx="195.4" cy="67.6" rx="1.7" ry="1.2" fill="#6a6478" opacity="0.7" transform="rotate(102 195.4 67.6)"/>
<ellipse cx="198.9" cy="68.2" rx="1.6" ry="1.3" fill="#5a4e5e" opacity="0.7" transform="rotate(122 198.9 68.2)"/>
<ellipse cx="205.7" cy="65.5" rx="2.0" ry="1.5" fill="#7a86ac" opacity="0.7" transform="rotate(89 205.7 65.5)"/>
<ellipse cx="184.2" cy="72.4" rx="1.7" ry="1.3" fill="#6a6478" opacity="0.7" transform="rotate(156 184.2 72.4)"/>
<ellipse cx="192.9" cy="69.5" rx="2.1" ry="1.9" fill="#8a7468" opacity="0.7" transform="rotate(76 192.9 69.5)"/>
<ellipse cx="199.3" cy="70.8" rx="2.4" ry="1.6" fill="#8a7468" opacity="0.7" transform="rotate(28 199.3 70.8)"/>
<ellipse cx="202.7" cy="70.1" rx="1.9" ry="1.8" fill="#6a6478" opacity="0.7" transform="rotate(6 202.7 70.1)"/>
<ellipse cx="208.4" cy="71.9" rx="2.3" ry="1.9" fill="#8a7468" opacity="0.7" transform="rotate(13 208.4 71.9)"/>
<ellipse cx="211.9" cy="72.1" rx="2.3" ry="2.1" fill="#5a4e5e" opacity="0.7" transform="rotate(86 211.9 72.1)"/>
</g></g>
<rect x="82.20" y="33.80" width="1.50" height="34.90" fill="#3a3a3a"/>
<clipPath id="c3"><rect x="86" y="73" width="41.3" height="38"/></clipPath>
<g clip-path="url(#c3)">
<rect x="86.00" y="73.00" width="41.30" height="38.00" fill="#e4e3ea"/>
<g filter="url(#blur)">
<circle cx="98.0" cy="71.9" r="2.4" fill="none" stroke="#c8b8b0" stroke-width="0.51" opacity="0.45"/>
<circle cx="102.5" cy="98.9" r="2.3" fill="none" stroke="#c8b8b0" stroke-width="0.51" opacity="0.45"/>
<circle cx="103.1" cy="108.8" r="2.3" fill="none" stroke="#c8b8b0" stroke-width="0.51" opacity="0.45"/>
<ellipse cx="83.8" cy="71.9" rx="2.3" ry="2.0" fill="#a8b2d8" opacity="0.6" transform="rotate(59 83.8 71.9)"/>
<ellipse cx="89.5" cy="70.8" rx="2.0" ry="1.4" fill="#c4c6dc" opacity="0.6" transform="rotate(175 89.5 70.8)"/>
<ellipse cx="98.0" cy="71.9" rx="2.1" ry="1.9" fill="#b8c0de" opacity="0.6" transform="rotate(112 98.0 71.9)"/>
<ellipse cx="103.3" cy="73.1" rx="1.7" ry="1.5" fill="#a8b2d8" opacity="0.6" transform="rotate(116 103.3 73.1)"/>
<ellipse cx="107.1" cy="70.9" rx="2.4" ry="2.3" fill="#b8c0de" opacity="0.6" transform="rotate(55 107.1 70.9)"/>
<ellipse cx="111.7" cy="72.6" rx="1.7" ry="1.2" fill="#a8b2d8" opacity="0.6" transform="rotate(64 111.7 72.6)"/>
<ellipse cx="115.9" cy="71.8" rx="2.1" ry="1.7" fill="#c4c6dc" opacity="0.6" transform="rotate(159 115.9 71.8)"/>
<ellipse cx="121.6" cy="73.4" rx="2.4" ry="1.7" fill="#b8c0de" opacity="0.6" transform="rotate(86 121.6 73.4)"/>
<ellipse cx="126.6" cy="70.5" rx="1.6" ry="1.4" fill="#b8c0de" opacity="0.6" transform="rotate(163 126.6 70.5)"/>
<ellipse cx="86.2" cy="76.2" rx="1.8" ry="1.2" fill="#a8b2d8" opacity="0.6" transform="rotate(150 86.2 76.2)"/>
<ellipse cx="94.2" cy="74.7" rx="2.3" ry="1.7" fill="#b8c0de" opacity="0.6" transform="rotate(140 94.2 74.7)"/>
<ellipse cx="102.0" cy="77.3" rx="1.8" ry="1.5" fill="#a8b2d8" opacity="0.6" transform="rotate(125 102.0 77.3)"/>
<ellipse cx="105.5" cy="76.6" rx="2.2" ry="1.7" fill="#c4c6dc" opacity="0.6" transform="rotate(36 105.5 76.6)"/>
<ellipse cx="112.7" cy="76.6" rx="2.2" ry="1.9" fill="#c4c6dc" opacity="0.6" transform="rotate(149 112.7 76.6)"/>
<ellipse cx="118.8" cy="76.7" rx="1.6" ry="1.3" fill="#c4c6dc" opacity="0.6" transform="rotate(65 118.8 76.7)"/>
<ellipse cx="125.2" cy="76.8" rx="2.4" ry="2.2" fill="#c4c6dc" opacity="0.6" transform="rotate(144 125.2 76.8)"/>
<ellipse cx="90.0" cy="80.7" rx="2.1" ry="1.4" fill="#b8c0de" opacity="0.6" transform="rotate(105 90.0 80.7)"/>
<ellipse cx="100.0" cy="79.5" rx="1.7" ry="1.5" fill="#b8c0de" opacity="0.6" transform="rotate(116 100.0 79.5)"/>
<ellipse cx="102.1" cy="79.9" rx="1.7" ry="1.2" fill="#b8c0de" opacity="0.6" transform="rotate(91 102.1 79.9)"/>
<ellipse cx="106.8" cy="79.2" rx="1.9" ry="1.5" fill="#c4c6dc" opacity="0.6" transform="rotate(81 106.8 79.2)"/>
<ellipse cx="111.5" cy="79.1" rx="1.7" ry="1.4" fill="#b8c0de" opacity="0.6" transform="rotate(15 111.5 79.1)"/>
<ellipse cx="116.8" cy="79.2" rx="1.6" ry="1.3" fill="#b8c0de" opacity="0.6" transform="rotate(86 116.8 79.2)"/>
<ellipse cx="120.8" cy="79.7" rx="2.3" ry="1.7" fill="#b8c0de" opacity="0.6" transform="rotate(4 120.8 79.7)"/>
<ellipse cx="125.1" cy="78.9" rx="2.2" ry="1.6" fill="#c4c6dc" opacity="0.6" transform="rotate(129 125.1 78.9)"/>
<ellipse cx="105.3" cy="84.5" rx="2.2" ry="1.8" fill="#a8b2d8" opacity="0.6" transform="rotate(161 105.3 84.5)"/>
<ellipse cx="109.4" cy="82.7" rx="2.2" ry="1.6" fill="#b8c0de" opacity="0.6" transform="rotate(30 109.4 82.7)"/>
<ellipse cx="112.2" cy="83.6" rx="1.9" ry="1.5" fill="#a8b2d8" opacity="0.6" transform="rotate(82 112.2 83.6)"/>
<ellipse cx="118.7" cy="82.3" rx="2.0" ry="1.5" fill="#c4c6dc" opacity="0.6" transform="rotate(1 118.7 82.3)"/>
<ellipse cx="120.9" cy="83.5" rx="1.9" ry="1.6" fill="#c4c6dc" opacity="0.6" transform="rotate(174 120.9 83.5)"/>
<ellipse cx="126.0" cy="84.6" rx="2.1" ry="1.6" fill="#b8c0de" opacity="0.6" transform="rotate(51 126.0 84.6)"/>
<ellipse cx="90.2" cy="87.4" rx="2.3" ry="1.7" fill="#c4c6dc" opacity="0.6" transform="rotate(129 90.2 87.4)"/>
<ellipse cx="93.1" cy="87.6" rx="1.9" ry="1.8" fill="#a8b2d8" opacity="0.6" transform="rotate(111 93.1 87.6)"/>
<ellipse cx="97.6" cy="86.0" rx="1.9" ry="1.5" fill="#b8c0de" opacity="0.6" transform="rotate(71 97.6 86.0)"/>
<ellipse cx="103.5" cy="87.9" rx="2.4" ry="2.2" fill="#b8c0de" opacity="0.6" transform="rotate(37 103.5 87.9)"/>
<ellipse cx="106.7" cy="86.7" rx="2.1" ry="1.8" fill="#b8c0de" opacity="0.6" transform="rotate(105 106.7 86.7)"/>
<ellipse cx="111.7" cy="86.5" rx="1.7" ry="1.6" fill="#a8b2d8" opacity="0.6" transform="rotate(68 111.7 86.5)"/>
<ellipse cx="117.7" cy="85.5" rx="1.8" ry="1.3" fill="#c4c6dc" opacity="0.6" transform="rotate(104 117.7 85.5)"/>
<ellipse cx="120.3" cy="87.2" rx="2.2" ry="1.6" fill="#b8c0de" opacity="0.6" transform="rotate(136 120.3 87.2)"/>
<ellipse cx="124.9" cy="87.9" rx="2.3" ry="1.9" fill="#a8b2d8" opacity="0.6" transform="rotate(71 124.9 87.9)"/>
<ellipse cx="90.3" cy="90.1" rx="2.0" ry="1.9" fill="#c4c6dc" opacity="0.6" transform="rotate(167 90.3 90.1)"/>
<ellipse cx="96.5" cy="91.9" rx="1.9" ry="1.6" fill="#c4c6dc" opacity="0.6" transform="rotate(54 96.5 91.9)"/>
<ellipse cx="98.6" cy="89.3" rx="1.8" ry="1.2" fill="#a8b2d8" opacity="0.6" transform="rotate(147 98.6 89.3)"/>
<ellipse cx="104.5" cy="89.0" rx="1.7" ry="1.2" fill="#c4c6dc" opacity="0.6" transform="rotate(12 104.5 89.0)"/>
<ellipse cx="107.5" cy="91.8" rx="2.3" ry="2.0" fill="#b8c0de" opacity="0.6" transform="rotate(89 107.5 91.8)"/>
<ellipse cx="111.4" cy="90.6" rx="2.3" ry="1.9" fill="#c4c6dc" opacity="0.6" transform="rotate(140 111.4 90.6)"/>
<ellipse cx="122.6" cy="90.2" rx="2.3" ry="2.1" fill="#b8c0de" opacity="0.6" transform="rotate(79 122.6 90.2)"/>
<ellipse cx="85.0" cy="95.2" rx="2.2" ry="2.0" fill="#b8c0de" opacity="0.6" transform="rotate(140 85.0 95.2)"/>
<ellipse cx="90.6" cy="94.2" rx="2.2" ry="2.0" fill="#a8b2d8" opacity="0.6" transform="rotate(45 90.6 94.2)"/>
<ellipse cx="97.3" cy="94.5" rx="1.6" ry="1.5" fill="#b8c0de" opacity="0.6" transform="rotate(84 97.3 94.5)"/>
<ellipse cx="101.9" cy="94.8" rx="2.0" ry="1.4" fill="#b8c0de" opacity="0.6" transform="rotate(13 101.9 94.8)"/>
<ellipse cx="110.3" cy="94.8" rx="2.1" ry="1.6" fill="#a8b2d8" opacity="0.6" transform="rotate(170 110.3 94.8)"/>
<ellipse cx="130.2" cy="94.8" rx="2.1" ry="1.9" fill="#c4c6dc" opacity="0.6" transform="rotate(162 130.2 94.8)"/>
<ellipse cx="87.8" cy="97.1" rx="2.2" ry="2.1" fill="#b8c0de" opacity="0.6" transform="rotate(42 87.8 97.1)"/>
<ellipse cx="91.9" cy="97.1" rx="1.9" ry="1.5" fill="#b8c0de" opacity="0.6" transform="rotate(173 91.9 97.1)"/>
<ellipse cx="96.1" cy="98.9" rx="1.7" ry="1.5" fill="#b8c0de" opacity="0.6" transform="rotate(175 96.1 98.9)"/>
<ellipse cx="102.5" cy="98.9" rx="2.1" ry="1.6" fill="#c4c6dc" opacity="0.6" transform="rotate(89 102.5 98.9)"/>
<ellipse cx="110.9" cy="96.7" rx="2.0" ry="1.8" fill="#b8c0de" opacity="0.6" transform="rotate(25 110.9 96.7)"/>
<ellipse cx="114.1" cy="99.7" rx="2.1" ry="1.6" fill="#a8b2d8" opacity="0.6" transform="rotate(8 114.1 99.7)"/>
<ellipse cx="123.0" cy="99.0" rx="2.3" ry="1.8" fill="#c4c6dc" opacity="0.6" transform="rotate(79 123.0 99.0)"/>
<ellipse cx="83.7" cy="102.0" rx="2.1" ry="1.6" fill="#c4c6dc" opacity="0.6" transform="rotate(141 83.7 102.0)"/>
<ellipse cx="99.0" cy="100.9" rx="1.7" ry="1.6" fill="#b8c0de" opacity="0.6" transform="rotate(85 99.0 100.9)"/>
<ellipse cx="101.9" cy="100.3" rx="1.7" ry="1.5" fill="#a8b2d8" opacity="0.6" transform="rotate(75 101.9 100.3)"/>
<ellipse cx="111.1" cy="100.7" rx="2.2" ry="1.8" fill="#b8c0de" opacity="0.6" transform="rotate(93 111.1 100.7)"/>
<ellipse cx="115.0" cy="100.3" rx="1.9" ry="1.7" fill="#c4c6dc" opacity="0.6" transform="rotate(35 115.0 100.3)"/>
<ellipse cx="121.6" cy="102.2" rx="2.0" ry="1.8" fill="#b8c0de" opacity="0.6" transform="rotate(120 121.6 102.2)"/>
<ellipse cx="90.3" cy="107.3" rx="1.8" ry="1.4" fill="#a8b2d8" opacity="0.6" transform="rotate(51 90.3 107.3)"/>
<ellipse cx="94.4" cy="106.2" rx="2.1" ry="1.9" fill="#c4c6dc" opacity="0.6" transform="rotate(59 94.4 106.2)"/>
<ellipse cx="99.4" cy="106.8" rx="1.6" ry="1.3" fill="#b8c0de" opacity="0.6" transform="rotate(51 99.4 106.8)"/>
<ellipse cx="104.5" cy="105.4" rx="2.0" ry="1.4" fill="#b8c0de" opacity="0.6" transform="rotate(45 104.5 105.4)"/>
<ellipse cx="109.9" cy="107.0" rx="2.3" ry="1.8" fill="#b8c0de" opacity="0.6" transform="rotate(57 109.9 107.0)"/>
<ellipse cx="114.7" cy="104.6" rx="1.8" ry="1.2" fill="#a8b2d8" opacity="0.6" transform="rotate(118 114.7 104.6)"/>
<ellipse cx="118.3" cy="107.0" rx="2.0" ry="1.7" fill="#b8c0de" opacity="0.6" transform="rotate(117 118.3 107.0)"/>
<ellipse cx="124.4" cy="107.1" rx="2.3" ry="1.7" fill="#a8b2d8" opacity="0.6" transform="rotate(153 124.4 107.1)"/>
<ellipse cx="129.6" cy="106.1" rx="2.0" ry="1.8" fill="#b8c0de" opacity="0.6" transform="rotate(135 129.6 106.1)"/>
<ellipse cx="93.5" cy="110.9" rx="1.7" ry="1.5" fill="#c4c6dc" opacity="0.6" transform="rotate(135 93.5 110.9)"/>
<ellipse cx="103.1" cy="108.8" rx="2.2" ry="1.7" fill="#a8b2d8" opacity="0.6" transform="rotate(88 103.1 108.8)"/>
<ellipse cx="119.1" cy="109.8" rx="1.9" ry="1.6" fill="#b8c0de" opacity="0.6" transform="rotate(131 119.1 109.8)"/>
<ellipse cx="122.3" cy="110.2" rx="1.8" ry="1.3" fill="#b8c0de" opacity="0.6" transform="rotate(151 122.3 110.2)"/>
</g></g>
<clipPath id="c4"><rect x="129.8" y="73" width="40" height="38"/></clipPath>
<g clip-path="url(#c4)">
<rect x="129.80" y="73.00" width="40.00" height="38.00" fill="#eae4dc"/>
<g filter="url(#blur)">
<circle cx="127.9" cy="72.0" r="2.4" fill="#8a5a2a" opacity="0.35"/>
<circle cx="127.9" cy="72.0" r="2.4" fill="none" stroke="#8a5a2a" stroke-width="0.85" opacity="0.45"/>
<circle cx="134.6" cy="71.1" r="2.0" fill="#8a5a2a" opacity="0.35"/>
<circle cx="134.6" cy="71.1" r="2.0" fill="none" stroke="#8a5a2a" stroke-width="0.85" opacity="0.45"/>
<circle cx="148.7" cy="71.2" r="2.0" fill="#8a5a2a" opacity="0.35"/>
<circle cx="148.7" cy="71.2" r="2.0" fill="none" stroke="#8a5a2a" stroke-width="0.85" opacity="0.45"/>
<circle cx="154.8" cy="72.0" r="2.0" fill="#a06c34" opacity="0.35"/>
<circle cx="154.8" cy="72.0" r="2.0" fill="none" stroke="#a06c34" stroke-width="0.85" opacity="0.45"/>
<circle cx="161.9" cy="72.6" r="2.1" fill="#8a5a2a" opacity="0.35"/>
<circle cx="161.9" cy="72.6" r="2.1" fill="none" stroke="#8a5a2a" stroke-width="0.85" opacity="0.45"/>
<circle cx="167.9" cy="72.5" r="1.9" fill="none" stroke="#8a5a2a" stroke-width="0.85" opacity="0.45"/>
<circle cx="131.5" cy="77.3" r="2.1" fill="none" stroke="#8a5a2a" stroke-width="0.85" opacity="0.45"/>
<circle cx="136.3" cy="77.2" r="2.4" fill="#6a4020" opacity="0.35"/>
<circle cx="136.3" cy="77.2" r="2.4" fill="none" stroke="#6a4020" stroke-width="0.85" opacity="0.45"/>
<circle cx="140.1" cy="74.5" r="2.1" fill="none" stroke="#8a5a2a" stroke-width="0.85" opacity="0.45"/>
<circle cx="145.7" cy="76.2" r="2.1" fill="none" stroke="#8a5a2a" stroke-width="0.85" opacity="0.45"/>
<circle cx="151.3" cy="74.7" r="1.9" fill="#8a5a2a" opacity="0.35"/>
<circle cx="151.3" cy="74.7" r="1.9" fill="none" stroke="#8a5a2a" stroke-width="0.85" opacity="0.45"/>
<circle cx="155.5" cy="74.5" r="1.8" fill="none" stroke="#a06c34" stroke-width="0.85" opacity="0.45"/>
<circle cx="162.8" cy="74.7" r="2.1" fill="#8a5a2a" opacity="0.35"/>
<circle cx="162.8" cy="74.7" r="2.1" fill="none" stroke="#8a5a2a" stroke-width="0.85" opacity="0.45"/>
<circle cx="169.8" cy="74.4" r="2.2" fill="#a06c34" opacity="0.35"/>
<circle cx="169.8" cy="74.4" r="2.2" fill="none" stroke="#a06c34" stroke-width="0.85" opacity="0.45"/>
<circle cx="129.3" cy="79.8" r="1.8" fill="#8a5a2a" opacity="0.35"/>
<circle cx="129.3" cy="79.8" r="1.8" fill="none" stroke="#8a5a2a" stroke-width="0.85" opacity="0.45"/>
<circle cx="134.8" cy="78.9" r="1.8" fill="#8a5a2a" opacity="0.35"/>
<circle cx="134.8" cy="78.9" r="1.8" fill="none" stroke="#8a5a2a" stroke-width="0.85" opacity="0.45"/>
<circle cx="138.5" cy="81.1" r="2.2" fill="#a06c34" opacity="0.35"/>
<circle cx="138.5" cy="81.1" r="2.2" fill="none" stroke="#a06c34" stroke-width="0.85" opacity="0.45"/>
<circle cx="142.0" cy="81.1" r="2.2" fill="#6a4020" opacity="0.35"/>
<circle cx="142.0" cy="81.1" r="2.2" fill="none" stroke="#6a4020" stroke-width="0.85" opacity="0.45"/>
<circle cx="151.3" cy="79.5" r="2.3" fill="#8a5a2a" opacity="0.35"/>
<circle cx="151.3" cy="79.5" r="2.3" fill="none" stroke="#8a5a2a" stroke-width="0.85" opacity="0.45"/>
<circle cx="167.2" cy="80.2" r="2.0" fill="#6a4020" opacity="0.35"/>
<circle cx="167.2" cy="80.2" r="2.0" fill="none" stroke="#6a4020" stroke-width="0.85" opacity="0.45"/>
<circle cx="135.9" cy="84.6" r="2.3" fill="#a06c34" opacity="0.35"/>
<circle cx="135.9" cy="84.6" r="2.3" fill="none" stroke="#a06c34" stroke-width="0.85" opacity="0.45"/>
<circle cx="140.5" cy="85.0" r="2.1" fill="#8a5a2a" opacity="0.35"/>
<circle cx="140.5" cy="85.0" r="2.1" fill="none" stroke="#8a5a2a" stroke-width="0.85" opacity="0.45"/>
<circle cx="146.7" cy="83.6" r="2.1" fill="none" stroke="#a06c34" stroke-width="0.85" opacity="0.45"/>
<circle cx="156.7" cy="84.6" r="2.1" fill="none" stroke="#8a5a2a" stroke-width="0.85" opacity="0.45"/>
<circle cx="160.3" cy="84.3" r="2.3" fill="none" stroke="#6a4020" stroke-width="0.85" opacity="0.45"/>
<circle cx="165.7" cy="84.4" r="1.9" fill="#8a5a2a" opacity="0.35"/>
<circle cx="165.7" cy="84.4" r="1.9" fill="none" stroke="#8a5a2a" stroke-width="0.85" opacity="0.45"/>
<circle cx="128.1" cy="88.4" r="2.0" fill="#6a4020" opacity="0.35"/>
<circle cx="128.1" cy="88.4" r="2.0" fill="none" stroke="#6a4020" stroke-width="0.85" opacity="0.45"/>
<circle cx="133.6" cy="88.4" r="2.4" fill="#6a4020" opacity="0.35"/>
<circle cx="133.6" cy="88.4" r="2.4" fill="none" stroke="#6a4020" stroke-width="0.85" opacity="0.45"/>
<circle cx="139.5" cy="87.7" r="2.0" fill="#6a4020" opacity="0.35"/>
<circle cx="139.5" cy="87.7" r="2.0" fill="none" stroke="#6a4020" stroke-width="0.85" opacity="0.45"/>
<circle cx="149.4" cy="87.3" r="1.9" fill="none" stroke="#8a5a2a" stroke-width="0.85" opacity="0.45"/>
<circle cx="157.0" cy="88.5" r="2.0" fill="#a06c34" opacity="0.35"/>
<circle cx="157.0" cy="88.5" r="2.0" fill="none" stroke="#a06c34" stroke-width="0.85" opacity="0.45"/>
<circle cx="130.7" cy="92.4" r="2.3" fill="none" stroke="#6a4020" stroke-width="0.85" opacity="0.45"/>
<circle cx="136.2" cy="90.7" r="2.2" fill="#8a5a2a" opacity="0.35"/>
<circle cx="136.2" cy="90.7" r="2.2" fill="none" stroke="#8a5a2a" stroke-width="0.85" opacity="0.45"/>
<circle cx="140.9" cy="90.3" r="1.8" fill="#8a5a2a" opacity="0.35"/>
<circle cx="140.9" cy="90.3" r="1.8" fill="none" stroke="#8a5a2a" stroke-width="0.85" opacity="0.45"/>
<circle cx="145.0" cy="91.5" r="2.1" fill="none" stroke="#8a5a2a" stroke-width="0.85" opacity="0.45"/>
<circle cx="149.1" cy="91.2" r="2.0" fill="#6a4020" opacity="0.35"/>
<circle cx="149.1" cy="91.2" r="2.0" fill="none" stroke="#6a4020" stroke-width="0.85" opacity="0.45"/>
<circle cx="155.5" cy="92.6" r="1.9" fill="none" stroke="#a06c34" stroke-width="0.85" opacity="0.45"/>
<circle cx="160.0" cy="91.4" r="1.9" fill="#a06c34" opacity="0.35"/>
<circle cx="160.0" cy="91.4" r="1.9" fill="none" stroke="#a06c34" stroke-width="0.85" opacity="0.45"/>
<circle cx="164.5" cy="89.8" r="1.8" fill="#a06c34" opacity="0.35"/>
<circle cx="164.5" cy="89.8" r="1.8" fill="none" stroke="#a06c34" stroke-width="0.85" opacity="0.45"/>
<circle cx="132.7" cy="94.7" r="2.2" fill="none" stroke="#8a5a2a" stroke-width="0.85" opacity="0.45"/>
<circle cx="139.8" cy="94.9" r="1.9" fill="#8a5a2a" opacity="0.35"/>
<circle cx="139.8" cy="94.9" r="1.9" fill="none" stroke="#8a5a2a" stroke-width="0.85" opacity="0.45"/>
<circle cx="142.4" cy="94.7" r="1.8" fill="#8a5a2a" opacity="0.35"/>
<circle cx="142.4" cy="94.7" r="1.8" fill="none" stroke="#8a5a2a" stroke-width="0.85" opacity="0.45"/>
<circle cx="154.8" cy="93.9" r="2.1" fill="none" stroke="#a06c34" stroke-width="0.85" opacity="0.45"/>
<circle cx="161.9" cy="93.8" r="2.0" fill="#a06c34" opacity="0.35"/>
<circle cx="161.9" cy="93.8" r="2.0" fill="none" stroke="#a06c34" stroke-width="0.85" opacity="0.45"/>
<circle cx="168.0" cy="96.4" r="2.1" fill="#8a5a2a" opacity="0.35"/>
<circle cx="168.0" cy="96.4" r="2.1" fill="none" stroke="#8a5a2a" stroke-width="0.85" opacity="0.45"/>
<circle cx="131.0" cy="99.4" r="2.3" fill="#8a5a2a" opacity="0.35"/>
<circle cx="131.0" cy="99.4" r="2.3" fill="none" stroke="#8a5a2a" stroke-width="0.85" opacity="0.45"/>
<circle cx="134.0" cy="99.4" r="1.9" fill="#a06c34" opacity="0.35"/>
<circle cx="134.0" cy="99.4" r="1.9" fill="none" stroke="#a06c34" stroke-width="0.85" opacity="0.45"/>
<circle cx="150.8" cy="99.8" r="2.4" fill="#6a4020" opacity="0.35"/>
<circle cx="150.8" cy="99.8" r="2.4" fill="none" stroke="#6a4020" stroke-width="0.85" opacity="0.45"/>
<circle cx="153.6" cy="99.5" r="2.3" fill="none" stroke="#a06c34" stroke-width="0.85" opacity="0.45"/>
<circle cx="158.6" cy="100.2" r="1.9" fill="#a06c34" opacity="0.35"/>
<circle cx="158.6" cy="100.2" r="1.9" fill="none" stroke="#a06c34" stroke-width="0.85" opacity="0.45"/>
<circle cx="164.1" cy="98.1" r="1.8" fill="#8a5a2a" opacity="0.35"/>
<circle cx="164.1" cy="98.1" r="1.8" fill="none" stroke="#8a5a2a" stroke-width="0.85" opacity="0.45"/>
<circle cx="168.8" cy="99.1" r="2.2" fill="none" stroke="#8a5a2a" stroke-width="0.85" opacity="0.45"/>
<circle cx="133.3" cy="102.4" r="2.0" fill="#a06c34" opacity="0.35"/>
<circle cx="133.3" cy="102.4" r="2.0" fill="none" stroke="#a06c34" stroke-width="0.85" opacity="0.45"/>
<circle cx="151.9" cy="104.0" r="2.0" fill="none" stroke="#a06c34" stroke-width="0.85" opacity="0.45"/>
<circle cx="163.5" cy="102.4" r="1.9" fill="#6a4020" opacity="0.35"/>
<circle cx="163.5" cy="102.4" r="1.9" fill="none" stroke="#6a4020" stroke-width="0.85" opacity="0.45"/>
<circle cx="135.9" cy="106.8" r="2.1" fill="#8a5a2a" opacity="0.35"/>
<circle cx="135.9" cy="106.8" r="2.1" fill="none" stroke="#8a5a2a" stroke-width="0.85" opacity="0.45"/>
<circle cx="141.0" cy="105.7" r="1.9" fill="#6a4020" opacity="0.35"/>
<circle cx="141.0" cy="105.7" r="1.9" fill="none" stroke="#6a4020" stroke-width="0.85" opacity="0.45"/>
<circle cx="144.2" cy="106.3" r="2.2" fill="#a06c34" opacity="0.35"/>
<circle cx="144.2" cy="106.3" r="2.2" fill="none" stroke="#a06c34" stroke-width="0.85" opacity="0.45"/>
<circle cx="158.0" cy="107.3" r="1.8" fill="#8a5a2a" opacity="0.35"/>
<circle cx="158.0" cy="107.3" r="1.8" fill="none" stroke="#8a5a2a" stroke-width="0.85" opacity="0.45"/>
<circle cx="162.9" cy="106.0" r="2.0" fill="none" stroke="#a06c34" stroke-width="0.85" opacity="0.45"/>
<circle cx="165.9" cy="105.6" r="2.2" fill="#8a5a2a" opacity="0.35"/>
<circle cx="165.9" cy="105.6" r="2.2" fill="none" stroke="#8a5a2a" stroke-width="0.85" opacity="0.45"/>
<circle cx="133.1" cy="111.4" r="2.2" fill="none" stroke="#8a5a2a" stroke-width="0.85" opacity="0.45"/>
<circle cx="138.6" cy="109.6" r="2.3" fill="#8a5a2a" opacity="0.35"/>
<circle cx="138.6" cy="109.6" r="2.3" fill="none" stroke="#8a5a2a" stroke-width="0.85" opacity="0.45"/>
<circle cx="144.0" cy="108.9" r="2.2" fill="#6a4020" opacity="0.35"/>
<circle cx="144.0" cy="108.9" r="2.2" fill="none" stroke="#6a4020" stroke-width="0.85" opacity="0.45"/>
<circle cx="154.7" cy="110.7" r="2.2" fill="#8a5a2a" opacity="0.35"/>
<circle cx="154.7" cy="110.7" r="2.2" fill="none" stroke="#8a5a2a" stroke-width="0.85" opacity="0.45"/>
<circle cx="162.3" cy="110.4" r="2.0" fill="#6a4020" opacity="0.35"/>
<circle cx="162.3" cy="110.4" r="2.0" fill="none" stroke="#6a4020" stroke-width="0.85" opacity="0.45"/>
<circle cx="165.2" cy="109.0" r="2.3" fill="none" stroke="#8a5a2a" stroke-width="0.85" opacity="0.45"/>
<circle cx="170.9" cy="111.2" r="2.2" fill="#8a5a2a" opacity="0.35"/>
<circle cx="170.9" cy="111.2" r="2.2" fill="none" stroke="#8a5a2a" stroke-width="0.85" opacity="0.45"/>
<ellipse cx="127.9" cy="72.0" rx="1.6" ry="1.5" fill="#5a6898" opacity="0.7" transform="rotate(101 127.9 72.0)"/>
<ellipse cx="134.6" cy="71.1" rx="1.8" ry="1.2" fill="#5a6898" opacity="0.7" transform="rotate(81 134.6 71.1)"/>
<ellipse cx="139.8" cy="71.4" rx="1.7" ry="1.6" fill="#5a6898" opacity="0.7" transform="rotate(133 139.8 71.4)"/>
<ellipse cx="142.5" cy="73.5" rx="1.5" ry="1.4" fill="#5a6898" opacity="0.7" transform="rotate(153 142.5 73.5)"/>
<ellipse cx="148.7" cy="71.2" rx="1.4" ry="0.9" fill="#6a78a8" opacity="0.7" transform="rotate(94 148.7 71.2)"/>
<ellipse cx="154.8" cy="72.0" rx="1.4" ry="1.3" fill="#6a78a8" opacity="0.7" transform="rotate(60 154.8 72.0)"/>
<ellipse cx="159.8" cy="71.9" rx="1.6" ry="1.1" fill="#6a78a8" opacity="0.7" transform="rotate(1 159.8 71.9)"/>
<ellipse cx="161.9" cy="72.6" rx="1.9" ry="1.4" fill="#6a78a8" opacity="0.7" transform="rotate(28 161.9 72.6)"/>
<ellipse cx="167.9" cy="72.5" rx="1.9" ry="1.5" fill="#6a78a8" opacity="0.7" transform="rotate(136 167.9 72.5)"/>
<ellipse cx="131.5" cy="77.3" rx="1.5" ry="1.3" fill="#6a78a8" opacity="0.7" transform="rotate(127 131.5 77.3)"/>
<ellipse cx="136.3" cy="77.2" rx="1.4" ry="1.3" fill="#6a78a8" opacity="0.7" transform="rotate(123 136.3 77.2)"/>
<ellipse cx="140.1" cy="74.5" rx="1.7" ry="1.5" fill="#5a6898" opacity="0.7" transform="rotate(78 140.1 74.5)"/>
<ellipse cx="145.7" cy="76.2" rx="1.4" ry="0.9" fill="#8890b8" opacity="0.7" transform="rotate(53 145.7 76.2)"/>
<ellipse cx="151.3" cy="74.7" rx="1.5" ry="1.2" fill="#5a6898" opacity="0.7" transform="rotate(24 151.3 74.7)"/>
<ellipse cx="155.5" cy="74.5" rx="1.7" ry="1.2" fill="#6a78a8" opacity="0.7" transform="rotate(162 155.5 74.5)"/>
<ellipse cx="162.8" cy="74.7" rx="1.4" ry="1.0" fill="#5a6898" opacity="0.7" transform="rotate(143 162.8 74.7)"/>
<ellipse cx="169.8" cy="74.4" rx="1.5" ry="1.4" fill="#6a78a8" opacity="0.7" transform="rotate(165 169.8 74.4)"/>
<ellipse cx="129.3" cy="79.8" rx="1.7" ry="1.2" fill="#5a6898" opacity="0.7" transform="rotate(15 129.3 79.8)"/>
<ellipse cx="134.8" cy="78.9" rx="1.4" ry="1.1" fill="#8890b8" opacity="0.7" transform="rotate(131 134.8 78.9)"/>
<ellipse cx="142.0" cy="81.1" rx="1.6" ry="1.4" fill="#6a78a8" opacity="0.7" transform="rotate(139 142.0 81.1)"/>
<ellipse cx="148.0" cy="79.9" rx="1.6" ry="1.4" fill="#6a78a8" opacity="0.7" transform="rotate(118 148.0 79.9)"/>
<ellipse cx="151.3" cy="79.5" rx="1.9" ry="1.6" fill="#6a78a8" opacity="0.7" transform="rotate(9 151.3 79.5)"/>
<ellipse cx="167.2" cy="80.2" rx="1.7" ry="1.2" fill="#5a6898" opacity="0.7" transform="rotate(40 167.2 80.2)"/>
<ellipse cx="135.9" cy="84.6" rx="1.6" ry="1.5" fill="#8890b8" opacity="0.7" transform="rotate(131 135.9 84.6)"/>
<ellipse cx="142.0" cy="83.7" rx="1.6" ry="1.4" fill="#5a6898" opacity="0.7" transform="rotate(136 142.0 83.7)"/>
<ellipse cx="146.7" cy="83.6" rx="2.0" ry="1.4" fill="#8890b8" opacity="0.7" transform="rotate(180 146.7 83.6)"/>
<ellipse cx="156.7" cy="84.6" rx="1.6" ry="1.3" fill="#8890b8" opacity="0.7" transform="rotate(159 156.7 84.6)"/>
<ellipse cx="160.3" cy="84.3" rx="1.5" ry="1.2" fill="#6a78a8" opacity="0.7" transform="rotate(119 160.3 84.3)"/>
<ellipse cx="165.7" cy="84.4" rx="1.6" ry="1.1" fill="#8890b8" opacity="0.7" transform="rotate(58 165.7 84.4)"/>
<ellipse cx="128.1" cy="88.4" rx="1.4" ry="1.3" fill="#6a78a8" opacity="0.7" transform="rotate(83 128.1 88.4)"/>
<ellipse cx="133.6" cy="88.4" rx="1.9" ry="1.6" fill="#5a6898" opacity="0.7" transform="rotate(100 133.6 88.4)"/>
<ellipse cx="139.5" cy="87.7" rx="1.8" ry="1.6" fill="#5a6898" opacity="0.7" transform="rotate(162 139.5 87.7)"/>
<ellipse cx="149.4" cy="87.3" rx="2.0" ry="1.9" fill="#5a6898" opacity="0.7" transform="rotate(77 149.4 87.3)"/>
<ellipse cx="152.8" cy="86.2" rx="2.0" ry="1.4" fill="#8890b8" opacity="0.7" transform="rotate(60 152.8 86.2)"/>
<ellipse cx="157.0" cy="88.5" rx="1.5" ry="1.1" fill="#5a6898" opacity="0.7" transform="rotate(145 157.0 88.5)"/>
<ellipse cx="130.7" cy="92.4" rx="2.0" ry="1.8" fill="#8890b8" opacity="0.7" transform="rotate(79 130.7 92.4)"/>
<ellipse cx="136.2" cy="90.7" rx="2.0" ry="1.7" fill="#5a6898" opacity="0.7" transform="rotate(66 136.2 90.7)"/>
<ellipse cx="140.9" cy="90.3" rx="1.7" ry="1.3" fill="#8890b8" opacity="0.7" transform="rotate(66 140.9 90.3)"/>
<ellipse cx="145.0" cy="91.5" rx="1.6" ry="1.2" fill="#6a78a8" opacity="0.7" transform="rotate(54 145.0 91.5)"/>
<ellipse cx="149.1" cy="91.2" rx="2.0" ry="1.5" fill="#6a78a8" opacity="0.7" transform="rotate(74 149.1 91.2)"/>
<ellipse cx="155.5" cy="92.6" rx="1.9" ry="1.5" fill="#6a78a8" opacity="0.7" transform="rotate(83 155.5 92.6)"/>
<ellipse cx="160.0" cy="91.4" rx="1.6" ry="1.2" fill="#6a78a8" opacity="0.7" transform="rotate(172 160.0 91.4)"/>
<ellipse cx="164.5" cy="89.8" rx="1.9" ry="1.7" fill="#6a78a8" opacity="0.7" transform="rotate(61 164.5 89.8)"/>
<ellipse cx="168.5" cy="90.8" rx="1.4" ry="1.2" fill="#6a78a8" opacity="0.7" transform="rotate(77 168.5 90.8)"/>
<ellipse cx="132.7" cy="94.7" rx="2.0" ry="1.5" fill="#6a78a8" opacity="0.7" transform="rotate(52 132.7 94.7)"/>
<ellipse cx="139.8" cy="94.9" rx="1.8" ry="1.5" fill="#8890b8" opacity="0.7" transform="rotate(50 139.8 94.9)"/>
<ellipse cx="142.4" cy="94.7" rx="1.8" ry="1.4" fill="#6a78a8" opacity="0.7" transform="rotate(140 142.4 94.7)"/>
<ellipse cx="148.2" cy="94.6" rx="1.7" ry="1.4" fill="#5a6898" opacity="0.7" transform="rotate(86 148.2 94.6)"/>
<ellipse cx="154.8" cy="93.9" rx="1.6" ry="1.4" fill="#6a78a8" opacity="0.7" transform="rotate(135 154.8 93.9)"/>
<ellipse cx="157.1" cy="95.8" rx="1.6" ry="1.3" fill="#5a6898" opacity="0.7" transform="rotate(128 157.1 95.8)"/>
<ellipse cx="161.9" cy="93.8" rx="1.4" ry="1.1" fill="#6a78a8" opacity="0.7" transform="rotate(166 161.9 93.8)"/>
<ellipse cx="168.0" cy="96.4" rx="1.7" ry="1.4" fill="#6a78a8" opacity="0.7" transform="rotate(45 168.0 96.4)"/>
<ellipse cx="131.0" cy="99.4" rx="1.4" ry="1.3" fill="#6a78a8" opacity="0.7" transform="rotate(113 131.0 99.4)"/>
<ellipse cx="134.0" cy="99.4" rx="1.5" ry="1.1" fill="#5a6898" opacity="0.7" transform="rotate(27 134.0 99.4)"/>
<ellipse cx="150.8" cy="99.8" rx="1.7" ry="1.3" fill="#6a78a8" opacity="0.7" transform="rotate(107 150.8 99.8)"/>
<ellipse cx="153.6" cy="99.5" rx="1.5" ry="1.3" fill="#5a6898" opacity="0.7" transform="rotate(50 153.6 99.5)"/>
<ellipse cx="158.6" cy="100.2" rx="1.7" ry="1.4" fill="#6a78a8" opacity="0.7" transform="rotate(110 158.6 100.2)"/>
<ellipse cx="164.1" cy="98.1" rx="1.6" ry="1.1" fill="#6a78a8" opacity="0.7" transform="rotate(136 164.1 98.1)"/>
<ellipse cx="168.8" cy="99.1" rx="1.5" ry="1.2" fill="#8890b8" opacity="0.7" transform="rotate(165 168.8 99.1)"/>
<ellipse cx="128.8" cy="102.0" rx="1.7" ry="1.6" fill="#8890b8" opacity="0.7" transform="rotate(148 128.8 102.0)"/>
<ellipse cx="133.3" cy="102.4" rx="1.8" ry="1.5" fill="#5a6898" opacity="0.7" transform="rotate(36 133.3 102.4)"/>
<ellipse cx="137.4" cy="102.4" rx="1.5" ry="1.2" fill="#5a6898" opacity="0.7" transform="rotate(29 137.4 102.4)"/>
<ellipse cx="143.6" cy="102.7" rx="1.7" ry="1.5" fill="#6a78a8" opacity="0.7" transform="rotate(108 143.6 102.7)"/>
<ellipse cx="151.9" cy="104.0" rx="1.6" ry="1.5" fill="#8890b8" opacity="0.7" transform="rotate(82 151.9 104.0)"/>
<ellipse cx="162.3" cy="103.8" rx="1.6" ry="1.5" fill="#6a78a8" opacity="0.7" transform="rotate(23 162.3 103.8)"/>
<ellipse cx="163.5" cy="102.4" rx="1.8" ry="1.4" fill="#5a6898" opacity="0.7" transform="rotate(66 163.5 102.4)"/>
<ellipse cx="129.7" cy="105.9" rx="1.4" ry="1.2" fill="#8890b8" opacity="0.7" transform="rotate(163 129.7 105.9)"/>
<ellipse cx="135.9" cy="106.8" rx="1.7" ry="1.5" fill="#5a6898" opacity="0.7" transform="rotate(147 135.9 106.8)"/>
<ellipse cx="141.0" cy="105.7" rx="1.9" ry="1.6" fill="#6a78a8" opacity="0.7" transform="rotate(131 141.0 105.7)"/>
<ellipse cx="148.9" cy="106.3" rx="1.7" ry="1.2" fill="#8890b8" opacity="0.7" transform="rotate(149 148.9 106.3)"/>
<ellipse cx="152.9" cy="105.2" rx="1.8" ry="1.2" fill="#6a78a8" opacity="0.7" transform="rotate(103 152.9 105.2)"/>
<ellipse cx="158.0" cy="107.3" rx="1.6" ry="1.3" fill="#5a6898" opacity="0.7" transform="rotate(167 158.0 107.3)"/>
<ellipse cx="162.9" cy="106.0" rx="1.4" ry="1.1" fill="#5a6898" opacity="0.7" transform="rotate(24 162.9 106.0)"/>
<ellipse cx="165.9" cy="105.6" rx="1.5" ry="1.1" fill="#5a6898" opacity="0.7" transform="rotate(87 165.9 105.6)"/>
<ellipse cx="127.7" cy="110.6" rx="1.8" ry="1.3" fill="#8890b8" opacity="0.7" transform="rotate(102 127.7 110.6)"/>
<ellipse cx="133.1" cy="111.4" rx="1.8" ry="1.3" fill="#6a78a8" opacity="0.7" transform="rotate(22 133.1 111.4)"/>
<ellipse cx="138.6" cy="109.6" rx="2.0" ry="1.8" fill="#6a78a8" opacity="0.7" transform="rotate(2 138.6 109.6)"/>
<ellipse cx="144.0" cy="108.9" rx="1.9" ry="1.7" fill="#6a78a8" opacity="0.7" transform="rotate(101 144.0 108.9)"/>
<ellipse cx="146.9" cy="109.1" rx="1.9" ry="1.3" fill="#6a78a8" opacity="0.7" transform="rotate(172 146.9 109.1)"/>
<ellipse cx="154.7" cy="110.7" rx="1.7" ry="1.3" fill="#6a78a8" opacity="0.7" transform="rotate(178 154.7 110.7)"/>
<ellipse cx="165.2" cy="109.0" rx="1.9" ry="1.4" fill="#8890b8" opacity="0.7" transform="rotate(73 165.2 109.0)"/>
<ellipse cx="170.9" cy="111.2" rx="2.0" ry="1.7" fill="#5a6898" opacity="0.7" transform="rotate(173 170.9 111.2)"/>
</g></g>
<clipPath id="c5"><rect x="172" y="73" width="41" height="38"/></clipPath>
<g clip-path="url(#c5)">
<rect x="172.00" y="73.00" width="41.00" height="38.00" fill="#e8eaf0"/>
<g filter="url(#blur)">
<circle cx="173.3" cy="81.9" r="2.5" fill="none" stroke="#c8b8a8" stroke-width="0.51" opacity="0.45"/>
<circle cx="203.3" cy="84.1" r="2.9" fill="none" stroke="#c8b8a8" stroke-width="0.51" opacity="0.45"/>
<circle cx="190.0" cy="98.0" r="3.0" fill="none" stroke="#c8b8a8" stroke-width="0.51" opacity="0.45"/>
<ellipse cx="179.5" cy="71.0" rx="2.3" ry="1.6" fill="#84a0d6" opacity="0.75" transform="rotate(50 179.5 71.0)"/>
<ellipse cx="184.3" cy="71.8" rx="1.8" ry="1.7" fill="#84a0d6" opacity="0.75" transform="rotate(135 184.3 71.8)"/>
<ellipse cx="189.3" cy="71.2" rx="2.6" ry="1.9" fill="#9cb2de" opacity="0.75" transform="rotate(3 189.3 71.2)"/>
<ellipse cx="195.9" cy="73.2" rx="2.2" ry="1.6" fill="#84a0d6" opacity="0.75" transform="rotate(11 195.9 73.2)"/>
<ellipse cx="202.4" cy="72.9" rx="2.1" ry="1.6" fill="#84a0d6" opacity="0.75" transform="rotate(165 202.4 72.9)"/>
<ellipse cx="206.3" cy="71.1" rx="2.3" ry="2.0" fill="#84a0d6" opacity="0.75" transform="rotate(87 206.3 71.1)"/>
<ellipse cx="210.2" cy="73.0" rx="2.5" ry="1.7" fill="#6a80bc" opacity="0.75" transform="rotate(26 210.2 73.0)"/>
<ellipse cx="215.0" cy="73.4" rx="2.2" ry="1.8" fill="#84a0d6" opacity="0.75" transform="rotate(155 215.0 73.4)"/>
<ellipse cx="174.0" cy="76.1" rx="1.8" ry="1.3" fill="#84a0d6" opacity="0.75" transform="rotate(87 174.0 76.1)"/>
<ellipse cx="177.7" cy="74.3" rx="2.3" ry="2.0" fill="#6a80bc" opacity="0.75" transform="rotate(156 177.7 74.3)"/>
<ellipse cx="197.8" cy="74.4" rx="2.5" ry="2.3" fill="#84a0d6" opacity="0.75" transform="rotate(166 197.8 74.4)"/>
<ellipse cx="207.2" cy="75.8" rx="1.9" ry="1.4" fill="#84a0d6" opacity="0.75" transform="rotate(29 207.2 75.8)"/>
<ellipse cx="209.9" cy="76.1" rx="1.9" ry="1.4" fill="#6a80bc" opacity="0.75" transform="rotate(139 209.9 76.1)"/>
<ellipse cx="174.3" cy="79.2" rx="1.9" ry="1.5" fill="#9cb2de" opacity="0.75" transform="rotate(159 174.3 79.2)"/>
<ellipse cx="180.8" cy="80.3" rx="2.6" ry="2.3" fill="#84a0d6" opacity="0.75" transform="rotate(8 180.8 80.3)"/>
<ellipse cx="184.5" cy="80.5" rx="2.6" ry="2.1" fill="#84a0d6" opacity="0.75" transform="rotate(53 184.5 80.5)"/>
<ellipse cx="189.7" cy="80.1" rx="2.1" ry="1.4" fill="#84a0d6" opacity="0.75" transform="rotate(157 189.7 80.1)"/>
<ellipse cx="194.5" cy="78.2" rx="2.6" ry="2.1" fill="#9cb2de" opacity="0.75" transform="rotate(167 194.5 78.2)"/>
<ellipse cx="197.7" cy="78.5" rx="1.8" ry="1.7" fill="#84a0d6" opacity="0.75" transform="rotate(154 197.7 78.5)"/>
<ellipse cx="202.8" cy="78.0" rx="2.2" ry="1.7" fill="#6a80bc" opacity="0.75" transform="rotate(65 202.8 78.0)"/>
<ellipse cx="205.3" cy="78.1" rx="2.0" ry="1.5" fill="#9cb2de" opacity="0.75" transform="rotate(62 205.3 78.1)"/>
<ellipse cx="173.3" cy="81.9" rx="1.9" ry="1.4" fill="#6a80bc" opacity="0.75" transform="rotate(107 173.3 81.9)"/>
<ellipse cx="178.4" cy="83.3" rx="1.8" ry="1.4" fill="#84a0d6" opacity="0.75" transform="rotate(91 178.4 83.3)"/>
<ellipse cx="180.4" cy="81.6" rx="2.0" ry="1.9" fill="#84a0d6" opacity="0.75" transform="rotate(86 180.4 81.6)"/>
<ellipse cx="185.1" cy="82.1" rx="1.8" ry="1.5" fill="#6a80bc" opacity="0.75" transform="rotate(63 185.1 82.1)"/>
<ellipse cx="191.7" cy="84.5" rx="2.0" ry="1.5" fill="#6a80bc" opacity="0.75" transform="rotate(62 191.7 84.5)"/>
<ellipse cx="196.4" cy="82.8" rx="2.2" ry="1.9" fill="#84a0d6" opacity="0.75" transform="rotate(86 196.4 82.8)"/>
<ellipse cx="199.3" cy="82.7" rx="1.9" ry="1.7" fill="#9cb2de" opacity="0.75" transform="rotate(24 199.3 82.7)"/>
<ellipse cx="203.3" cy="84.1" rx="2.1" ry="1.7" fill="#9cb2de" opacity="0.75" transform="rotate(168 203.3 84.1)"/>
<ellipse cx="207.5" cy="84.4" rx="1.9" ry="1.4" fill="#9cb2de" opacity="0.75" transform="rotate(40 207.5 84.4)"/>
<ellipse cx="212.5" cy="82.0" rx="2.1" ry="1.7" fill="#9cb2de" opacity="0.75" transform="rotate(155 212.5 82.0)"/>
<ellipse cx="170.5" cy="87.0" rx="2.4" ry="2.3" fill="#9cb2de" opacity="0.75" transform="rotate(75 170.5 87.0)"/>
<ellipse cx="176.9" cy="87.7" rx="2.4" ry="2.2" fill="#9cb2de" opacity="0.75" transform="rotate(16 176.9 87.7)"/>
<ellipse cx="179.5" cy="87.4" rx="2.1" ry="1.9" fill="#9cb2de" opacity="0.75" transform="rotate(74 179.5 87.4)"/>
<ellipse cx="185.1" cy="86.7" rx="2.2" ry="1.8" fill="#84a0d6" opacity="0.75" transform="rotate(140 185.1 86.7)"/>
<ellipse cx="186.8" cy="87.8" rx="2.5" ry="1.9" fill="#9cb2de" opacity="0.75" transform="rotate(95 186.8 87.8)"/>
<ellipse cx="196.8" cy="86.4" rx="2.1" ry="1.6" fill="#9cb2de" opacity="0.75" transform="rotate(147 196.8 86.4)"/>
<ellipse cx="208.8" cy="86.1" rx="2.4" ry="1.9" fill="#9cb2de" opacity="0.75" transform="rotate(1 208.8 86.1)"/>
<ellipse cx="212.4" cy="86.3" rx="1.8" ry="1.5" fill="#84a0d6" opacity="0.75" transform="rotate(105 212.4 86.3)"/>
<ellipse cx="173.2" cy="90.1" rx="2.3" ry="1.7" fill="#6a80bc" opacity="0.75" transform="rotate(89 173.2 90.1)"/>
<ellipse cx="178.6" cy="90.2" rx="2.1" ry="1.7" fill="#84a0d6" opacity="0.75" transform="rotate(164 178.6 90.2)"/>
<ellipse cx="183.4" cy="91.8" rx="2.4" ry="1.6" fill="#84a0d6" opacity="0.75" transform="rotate(169 183.4 91.8)"/>
<ellipse cx="185.9" cy="90.6" rx="2.4" ry="2.2" fill="#84a0d6" opacity="0.75" transform="rotate(50 185.9 90.6)"/>
<ellipse cx="201.6" cy="90.1" rx="2.6" ry="2.1" fill="#6a80bc" opacity="0.75" transform="rotate(36 201.6 90.1)"/>
<ellipse cx="204.3" cy="91.3" rx="2.3" ry="2.0" fill="#84a0d6" opacity="0.75" transform="rotate(11 204.3 91.3)"/>
<ellipse cx="211.2" cy="90.4" rx="2.5" ry="2.3" fill="#9cb2de" opacity="0.75" transform="rotate(93 211.2 90.4)"/>
<ellipse cx="171.8" cy="95.0" rx="2.1" ry="1.5" fill="#84a0d6" opacity="0.75" transform="rotate(61 171.8 95.0)"/>
<ellipse cx="175.0" cy="94.9" rx="2.1" ry="1.8" fill="#84a0d6" opacity="0.75" transform="rotate(160 175.0 94.9)"/>
<ellipse cx="178.6" cy="94.1" rx="1.8" ry="1.5" fill="#9cb2de" opacity="0.75" transform="rotate(107 178.6 94.1)"/>
<ellipse cx="184.4" cy="95.8" rx="2.2" ry="1.5" fill="#84a0d6" opacity="0.75" transform="rotate(70 184.4 95.8)"/>
<ellipse cx="189.2" cy="92.9" rx="1.9" ry="1.7" fill="#6a80bc" opacity="0.75" transform="rotate(65 189.2 92.9)"/>
<ellipse cx="197.7" cy="93.8" rx="2.6" ry="2.3" fill="#9cb2de" opacity="0.75" transform="rotate(1 197.7 93.8)"/>
<ellipse cx="202.7" cy="94.3" rx="2.1" ry="1.9" fill="#84a0d6" opacity="0.75" transform="rotate(99 202.7 94.3)"/>
<ellipse cx="208.6" cy="95.0" rx="2.1" ry="1.4" fill="#6a80bc" opacity="0.75" transform="rotate(47 208.6 95.0)"/>
<ellipse cx="213.1" cy="95.8" rx="2.5" ry="1.9" fill="#6a80bc" opacity="0.75" transform="rotate(113 213.1 95.8)"/>
<ellipse cx="172.7" cy="98.8" rx="1.8" ry="1.4" fill="#84a0d6" opacity="0.75" transform="rotate(84 172.7 98.8)"/>
<ellipse cx="178.2" cy="98.6" rx="1.8" ry="1.6" fill="#9cb2de" opacity="0.75" transform="rotate(158 178.2 98.6)"/>
<ellipse cx="180.6" cy="96.5" rx="2.3" ry="2.1" fill="#84a0d6" opacity="0.75" transform="rotate(75 180.6 96.5)"/>
<ellipse cx="186.3" cy="97.1" rx="2.3" ry="1.6" fill="#84a0d6" opacity="0.75" transform="rotate(13 186.3 97.1)"/>
<ellipse cx="190.0" cy="98.0" rx="2.0" ry="1.6" fill="#84a0d6" opacity="0.75" transform="rotate(71 190.0 98.0)"/>
<ellipse cx="199.5" cy="99.1" rx="2.0" ry="1.5" fill="#84a0d6" opacity="0.75" transform="rotate(117 199.5 99.1)"/>
<ellipse cx="204.0" cy="97.1" rx="2.4" ry="1.9" fill="#9cb2de" opacity="0.75" transform="rotate(123 204.0 97.1)"/>
<ellipse cx="208.5" cy="97.5" rx="2.6" ry="2.0" fill="#6a80bc" opacity="0.75" transform="rotate(145 208.5 97.5)"/>
<ellipse cx="211.6" cy="97.5" rx="2.4" ry="1.7" fill="#84a0d6" opacity="0.75" transform="rotate(74 211.6 97.5)"/>
<ellipse cx="170.2" cy="100.6" rx="2.0" ry="1.6" fill="#84a0d6" opacity="0.75" transform="rotate(99 170.2 100.6)"/>
<ellipse cx="175.4" cy="100.5" rx="1.8" ry="1.6" fill="#84a0d6" opacity="0.75" transform="rotate(103 175.4 100.5)"/>
<ellipse cx="180.3" cy="100.9" rx="2.5" ry="2.4" fill="#84a0d6" opacity="0.75" transform="rotate(110 180.3 100.9)"/>
<ellipse cx="184.8" cy="102.2" rx="2.3" ry="1.6" fill="#84a0d6" opacity="0.75" transform="rotate(108 184.8 102.2)"/>
<ellipse cx="188.9" cy="101.1" rx="2.2" ry="2.0" fill="#9cb2de" opacity="0.75" transform="rotate(47 188.9 101.1)"/>
<ellipse cx="197.4" cy="101.3" rx="2.4" ry="2.0" fill="#84a0d6" opacity="0.75" transform="rotate(134 197.4 101.3)"/>
<ellipse cx="207.0" cy="100.2" rx="1.8" ry="1.5" fill="#6a80bc" opacity="0.75" transform="rotate(154 207.0 100.2)"/>
<ellipse cx="210.8" cy="103.0" rx="1.8" ry="1.3" fill="#6a80bc" opacity="0.75" transform="rotate(148 210.8 103.0)"/>
<ellipse cx="172.6" cy="104.1" rx="2.1" ry="1.5" fill="#6a80bc" opacity="0.75" transform="rotate(136 172.6 104.1)"/>
<ellipse cx="181.5" cy="106.2" rx="2.6" ry="1.8" fill="#9cb2de" opacity="0.75" transform="rotate(102 181.5 106.2)"/>
<ellipse cx="184.5" cy="105.4" rx="2.4" ry="1.7" fill="#84a0d6" opacity="0.75" transform="rotate(8 184.5 105.4)"/>
<ellipse cx="189.5" cy="104.6" rx="1.9" ry="1.7" fill="#9cb2de" opacity="0.75" transform="rotate(29 189.5 104.6)"/>
<ellipse cx="195.0" cy="105.8" rx="2.3" ry="2.0" fill="#9cb2de" opacity="0.75" transform="rotate(176 195.0 105.8)"/>
<ellipse cx="199.0" cy="106.5" rx="1.8" ry="1.4" fill="#6a80bc" opacity="0.75" transform="rotate(150 199.0 106.5)"/>
<ellipse cx="204.6" cy="105.4" rx="2.3" ry="2.1" fill="#84a0d6" opacity="0.75" transform="rotate(57 204.6 105.4)"/>
<ellipse cx="211.3" cy="105.7" rx="2.0" ry="1.8" fill="#84a0d6" opacity="0.75" transform="rotate(141 211.3 105.7)"/>
<ellipse cx="174.6" cy="109.8" rx="2.2" ry="2.1" fill="#84a0d6" opacity="0.75" transform="rotate(48 174.6 109.8)"/>
<ellipse cx="180.9" cy="109.1" rx="2.2" ry="1.6" fill="#9cb2de" opacity="0.75" transform="rotate(95 180.9 109.1)"/>
<ellipse cx="186.6" cy="109.3" rx="2.2" ry="1.6" fill="#84a0d6" opacity="0.75" transform="rotate(132 186.6 109.3)"/>
<ellipse cx="191.9" cy="109.1" rx="2.5" ry="2.2" fill="#9cb2de" opacity="0.75" transform="rotate(180 191.9 109.1)"/>
<ellipse cx="197.0" cy="107.8" rx="2.1" ry="1.6" fill="#84a0d6" opacity="0.75" transform="rotate(100 197.0 107.8)"/>
<ellipse cx="202.6" cy="108.6" rx="2.2" ry="1.6" fill="#84a0d6" opacity="0.75" transform="rotate(50 202.6 108.6)"/>
<ellipse cx="205.7" cy="108.9" rx="2.4" ry="1.8" fill="#6a80bc" opacity="0.75" transform="rotate(101 205.7 108.9)"/>
<ellipse cx="210.0" cy="110.2" rx="2.4" ry="1.9" fill="#9cb2de" opacity="0.75" transform="rotate(67 210.0 110.2)"/>
<ellipse cx="177.5" cy="113.9" rx="2.2" ry="2.0" fill="#6a80bc" opacity="0.75" transform="rotate(83 177.5 113.9)"/>
<ellipse cx="183.5" cy="113.5" rx="2.3" ry="2.0" fill="#84a0d6" opacity="0.75" transform="rotate(151 183.5 113.5)"/>
<ellipse cx="186.6" cy="112.5" rx="2.6" ry="1.9" fill="#9cb2de" opacity="0.75" transform="rotate(111 186.6 112.5)"/>
<ellipse cx="195.9" cy="112.2" rx="2.2" ry="2.0" fill="#9cb2de" opacity="0.75" transform="rotate(82 195.9 112.2)"/>
<ellipse cx="201.2" cy="113.4" rx="2.3" ry="2.0" fill="#6a80bc" opacity="0.75" transform="rotate(66 201.2 113.4)"/>
<ellipse cx="207.1" cy="113.6" rx="1.9" ry="1.7" fill="#84a0d6" opacity="0.75" transform="rotate(138 207.1 113.6)"/>
<ellipse cx="210.1" cy="113.6" rx="1.8" ry="1.7" fill="#9cb2de" opacity="0.75" transform="rotate(129 210.1 113.6)"/>
<ellipse cx="214.1" cy="112.0" rx="2.5" ry="2.1" fill="#84a0d6" opacity="0.75" transform="rotate(172 214.1 112.0)"/>
</g></g>
<rect x="82.20" y="73.80" width="1.50" height="36.40" fill="#3a3a3a"/>
<clipPath id="c6"><rect x="86" y="114.2" width="41.3" height="39.3"/></clipPath>
<g clip-path="url(#c6)">
<rect x="86.00" y="114.20" width="41.30" height="39.30" fill="#e9e2de"/>
<g filter="url(#blur)">
<circle cx="83.9" cy="113.8" r="2.3" fill="#8e6a58" opacity="0.35"/>
<circle cx="83.9" cy="113.8" r="2.3" fill="none" stroke="#8e6a58" stroke-width="0.77" opacity="0.45"/>
<circle cx="89.9" cy="112.2" r="2.2" fill="#8e6a58" opacity="0.35"/>
<circle cx="89.9" cy="112.2" r="2.2" fill="none" stroke="#8e6a58" stroke-width="0.77" opacity="0.45"/>
<circle cx="99.3" cy="113.2" r="2.7" fill="#8e6a58" opacity="0.35"/>
<circle cx="99.3" cy="113.2" r="2.7" fill="none" stroke="#8e6a58" stroke-width="0.77" opacity="0.45"/>
<circle cx="113.0" cy="111.8" r="2.2" fill="#a07a66" opacity="0.35"/>
<circle cx="113.0" cy="111.8" r="2.2" fill="none" stroke="#a07a66" stroke-width="0.77" opacity="0.45"/>
<circle cx="119.4" cy="112.3" r="2.3" fill="#a07a66" opacity="0.35"/>
<circle cx="119.4" cy="112.3" r="2.3" fill="none" stroke="#a07a66" stroke-width="0.77" opacity="0.45"/>
<circle cx="90.9" cy="118.5" r="2.3" fill="#a07a66" opacity="0.35"/>
<circle cx="90.9" cy="118.5" r="2.3" fill="none" stroke="#a07a66" stroke-width="0.77" opacity="0.45"/>
<circle cx="106.6" cy="117.4" r="2.3" fill="#a07a66" opacity="0.35"/>
<circle cx="106.6" cy="117.4" r="2.3" fill="none" stroke="#a07a66" stroke-width="0.77" opacity="0.45"/>
<circle cx="119.0" cy="116.1" r="2.3" fill="none" stroke="#a07a66" stroke-width="0.77" opacity="0.45"/>
<circle cx="128.0" cy="117.9" r="2.2" fill="#a07a66" opacity="0.35"/>
<circle cx="128.0" cy="117.9" r="2.2" fill="none" stroke="#a07a66" stroke-width="0.77" opacity="0.45"/>
<circle cx="90.5" cy="120.4" r="2.4" fill="none" stroke="#a07a66" stroke-width="0.77" opacity="0.45"/>
<circle cx="93.4" cy="121.1" r="2.6" fill="#a07a66" opacity="0.35"/>
<circle cx="93.4" cy="121.1" r="2.6" fill="none" stroke="#a07a66" stroke-width="0.77" opacity="0.45"/>
<circle cx="98.1" cy="121.7" r="2.5" fill="#a07a66" opacity="0.35"/>
<circle cx="98.1" cy="121.7" r="2.5" fill="none" stroke="#a07a66" stroke-width="0.77" opacity="0.45"/>
<circle cx="102.8" cy="122.4" r="2.1" fill="none" stroke="#a07a66" stroke-width="0.77" opacity="0.45"/>
<circle cx="109.2" cy="122.0" r="2.3" fill="#a07a66" opacity="0.35"/>
<circle cx="109.2" cy="122.0" r="2.3" fill="none" stroke="#a07a66" stroke-width="0.77" opacity="0.45"/>
<circle cx="111.8" cy="122.0" r="2.2" fill="#a07a66" opacity="0.35"/>
<circle cx="111.8" cy="122.0" r="2.2" fill="none" stroke="#a07a66" stroke-width="0.77" opacity="0.45"/>
<circle cx="120.1" cy="120.1" r="2.4" fill="#8e6a58" opacity="0.35"/>
<circle cx="120.1" cy="120.1" r="2.4" fill="none" stroke="#8e6a58" stroke-width="0.77" opacity="0.45"/>
<circle cx="101.8" cy="125.6" r="2.8" fill="none" stroke="#a07a66" stroke-width="0.77" opacity="0.45"/>
<circle cx="105.4" cy="125.6" r="2.5" fill="#a07a66" opacity="0.35"/>
<circle cx="105.4" cy="125.6" r="2.5" fill="none" stroke="#a07a66" stroke-width="0.77" opacity="0.45"/>
<circle cx="127.3" cy="126.0" r="2.6" fill="#a07a66" opacity="0.35"/>
<circle cx="127.3" cy="126.0" r="2.6" fill="none" stroke="#a07a66" stroke-width="0.77" opacity="0.45"/>
<circle cx="85.3" cy="128.4" r="2.8" fill="#a07a66" opacity="0.35"/>
<circle cx="85.3" cy="128.4" r="2.8" fill="none" stroke="#a07a66" stroke-width="0.77" opacity="0.45"/>
<circle cx="94.7" cy="129.9" r="2.5" fill="#8e6a58" opacity="0.35"/>
<circle cx="94.7" cy="129.9" r="2.5" fill="none" stroke="#8e6a58" stroke-width="0.77" opacity="0.45"/>
<circle cx="98.7" cy="128.3" r="2.1" fill="#a07a66" opacity="0.35"/>
<circle cx="98.7" cy="128.3" r="2.1" fill="none" stroke="#a07a66" stroke-width="0.77" opacity="0.45"/>
<circle cx="122.7" cy="128.8" r="2.2" fill="#8e6a58" opacity="0.35"/>
<circle cx="122.7" cy="128.8" r="2.2" fill="none" stroke="#8e6a58" stroke-width="0.77" opacity="0.45"/>
<circle cx="88.6" cy="133.7" r="2.6" fill="#8e6a58" opacity="0.35"/>
<circle cx="88.6" cy="133.7" r="2.6" fill="none" stroke="#8e6a58" stroke-width="0.77" opacity="0.45"/>
<circle cx="100.3" cy="133.2" r="2.7" fill="#8e6a58" opacity="0.35"/>
<circle cx="100.3" cy="133.2" r="2.7" fill="none" stroke="#8e6a58" stroke-width="0.77" opacity="0.45"/>
<circle cx="108.3" cy="133.9" r="2.5" fill="#a07a66" opacity="0.35"/>
<circle cx="108.3" cy="133.9" r="2.5" fill="none" stroke="#a07a66" stroke-width="0.77" opacity="0.45"/>
<circle cx="128.2" cy="133.0" r="2.7" fill="none" stroke="#8e6a58" stroke-width="0.77" opacity="0.45"/>
<circle cx="85.9" cy="137.3" r="2.4" fill="#a07a66" opacity="0.35"/>
<circle cx="85.9" cy="137.3" r="2.4" fill="none" stroke="#a07a66" stroke-width="0.77" opacity="0.45"/>
<circle cx="92.5" cy="137.4" r="2.4" fill="#8e6a58" opacity="0.35"/>
<circle cx="92.5" cy="137.4" r="2.4" fill="none" stroke="#8e6a58" stroke-width="0.77" opacity="0.45"/>
<circle cx="104.6" cy="136.1" r="2.1" fill="#a07a66" opacity="0.35"/>
<circle cx="104.6" cy="136.1" r="2.1" fill="none" stroke="#a07a66" stroke-width="0.77" opacity="0.45"/>
<circle cx="111.7" cy="138.1" r="2.4" fill="#a07a66" opacity="0.35"/>
<circle cx="111.7" cy="138.1" r="2.4" fill="none" stroke="#a07a66" stroke-width="0.77" opacity="0.45"/>
<circle cx="121.7" cy="136.7" r="2.6" fill="none" stroke="#8e6a58" stroke-width="0.77" opacity="0.45"/>
<circle cx="92.2" cy="140.2" r="2.1" fill="#8e6a58" opacity="0.35"/>
<circle cx="92.2" cy="140.2" r="2.1" fill="none" stroke="#8e6a58" stroke-width="0.77" opacity="0.45"/>
<circle cx="109.2" cy="139.3" r="2.3" fill="#a07a66" opacity="0.35"/>
<circle cx="109.2" cy="139.3" r="2.3" fill="none" stroke="#a07a66" stroke-width="0.77" opacity="0.45"/>
<circle cx="124.6" cy="139.5" r="2.2" fill="#a07a66" opacity="0.35"/>
<circle cx="124.6" cy="139.5" r="2.2" fill="none" stroke="#a07a66" stroke-width="0.77" opacity="0.45"/>
<circle cx="83.9" cy="144.4" r="2.7" fill="#8e6a58" opacity="0.35"/>
<circle cx="83.9" cy="144.4" r="2.7" fill="none" stroke="#8e6a58" stroke-width="0.77" opacity="0.45"/>
<circle cx="88.9" cy="144.2" r="2.4" fill="#a07a66" opacity="0.35"/>
<circle cx="88.9" cy="144.2" r="2.4" fill="none" stroke="#a07a66" stroke-width="0.77" opacity="0.45"/>
<circle cx="99.9" cy="142.8" r="2.1" fill="#a07a66" opacity="0.35"/>
<circle cx="99.9" cy="142.8" r="2.1" fill="none" stroke="#a07a66" stroke-width="0.77" opacity="0.45"/>
<circle cx="104.3" cy="145.1" r="2.6" fill="#a07a66" opacity="0.35"/>
<circle cx="104.3" cy="145.1" r="2.6" fill="none" stroke="#a07a66" stroke-width="0.77" opacity="0.45"/>
<circle cx="110.0" cy="144.8" r="2.3" fill="#a07a66" opacity="0.35"/>
<circle cx="110.0" cy="144.8" r="2.3" fill="none" stroke="#a07a66" stroke-width="0.77" opacity="0.45"/>
<circle cx="113.1" cy="145.0" r="2.7" fill="#a07a66" opacity="0.35"/>
<circle cx="113.1" cy="145.0" r="2.7" fill="none" stroke="#a07a66" stroke-width="0.77" opacity="0.45"/>
<circle cx="119.3" cy="143.9" r="2.7" fill="#a07a66" opacity="0.35"/>
<circle cx="119.3" cy="143.9" r="2.7" fill="none" stroke="#a07a66" stroke-width="0.77" opacity="0.45"/>
<circle cx="123.7" cy="142.9" r="2.2" fill="#a07a66" opacity="0.35"/>
<circle cx="123.7" cy="142.9" r="2.2" fill="none" stroke="#a07a66" stroke-width="0.77" opacity="0.45"/>
<circle cx="126.7" cy="143.9" r="2.3" fill="#a07a66" opacity="0.35"/>
<circle cx="126.7" cy="143.9" r="2.3" fill="none" stroke="#a07a66" stroke-width="0.77" opacity="0.45"/>
<circle cx="104.9" cy="147.8" r="2.5" fill="#8e6a58" opacity="0.35"/>
<circle cx="104.9" cy="147.8" r="2.5" fill="none" stroke="#8e6a58" stroke-width="0.77" opacity="0.45"/>
<circle cx="110.0" cy="148.9" r="2.5" fill="none" stroke="#a07a66" stroke-width="0.77" opacity="0.45"/>
<circle cx="112.8" cy="147.0" r="2.2" fill="#a07a66" opacity="0.35"/>
<circle cx="112.8" cy="147.0" r="2.2" fill="none" stroke="#a07a66" stroke-width="0.77" opacity="0.45"/>
<circle cx="123.4" cy="149.0" r="2.4" fill="#a07a66" opacity="0.35"/>
<circle cx="123.4" cy="149.0" r="2.4" fill="none" stroke="#a07a66" stroke-width="0.77" opacity="0.45"/>
<circle cx="89.1" cy="152.0" r="2.4" fill="none" stroke="#a07a66" stroke-width="0.77" opacity="0.45"/>
<circle cx="96.4" cy="151.0" r="2.2" fill="#8e6a58" opacity="0.35"/>
<circle cx="96.4" cy="151.0" r="2.2" fill="none" stroke="#8e6a58" stroke-width="0.77" opacity="0.45"/>
<circle cx="103.4" cy="153.0" r="2.5" fill="#8e6a58" opacity="0.35"/>
<circle cx="103.4" cy="153.0" r="2.5" fill="none" stroke="#8e6a58" stroke-width="0.77" opacity="0.45"/>
<circle cx="107.6" cy="151.8" r="2.6" fill="#8e6a58" opacity="0.35"/>
<circle cx="107.6" cy="151.8" r="2.6" fill="none" stroke="#8e6a58" stroke-width="0.77" opacity="0.45"/>
<circle cx="113.7" cy="151.2" r="2.4" fill="#a07a66" opacity="0.35"/>
<circle cx="113.7" cy="151.2" r="2.4" fill="none" stroke="#a07a66" stroke-width="0.77" opacity="0.45"/>
<circle cx="122.7" cy="152.9" r="2.3" fill="#a07a66" opacity="0.35"/>
<circle cx="122.7" cy="152.9" r="2.3" fill="none" stroke="#a07a66" stroke-width="0.77" opacity="0.45"/>
<ellipse cx="83.9" cy="113.8" rx="2.2" ry="1.5" fill="#7a7a98" opacity="0.66" transform="rotate(73 83.9 113.8)"/>
<ellipse cx="89.9" cy="112.2" rx="2.3" ry="1.9" fill="#8e7478" opacity="0.66" transform="rotate(37 89.9 112.2)"/>
<ellipse cx="95.7" cy="112.5" rx="1.7" ry="1.3" fill="#8e7478" opacity="0.66" transform="rotate(71 95.7 112.5)"/>
<ellipse cx="99.3" cy="113.2" rx="1.7" ry="1.2" fill="#8e7478" opacity="0.66" transform="rotate(20 99.3 113.2)"/>
<ellipse cx="106.1" cy="112.5" rx="1.6" ry="1.4" fill="#a08a88" opacity="0.66" transform="rotate(39 106.1 112.5)"/>
<ellipse cx="113.0" cy="111.8" rx="1.9" ry="1.7" fill="#a08a88" opacity="0.66" transform="rotate(175 113.0 111.8)"/>
<ellipse cx="119.4" cy="112.3" rx="2.3" ry="1.8" fill="#8e7478" opacity="0.66" transform="rotate(3 119.4 112.3)"/>
<ellipse cx="124.7" cy="113.4" rx="1.6" ry="1.3" fill="#7a7a98" opacity="0.66" transform="rotate(107 124.7 113.4)"/>
<ellipse cx="128.2" cy="111.7" rx="2.2" ry="1.5" fill="#7e6a70" opacity="0.66" transform="rotate(42 128.2 111.7)"/>
<ellipse cx="87.2" cy="115.9" rx="1.9" ry="1.3" fill="#7a7a98" opacity="0.66" transform="rotate(129 87.2 115.9)"/>
<ellipse cx="90.9" cy="118.5" rx="1.6" ry="1.3" fill="#7a7a98" opacity="0.66" transform="rotate(153 90.9 118.5)"/>
<ellipse cx="95.0" cy="118.0" rx="2.2" ry="1.8" fill="#8e7478" opacity="0.66" transform="rotate(168 95.0 118.0)"/>
<ellipse cx="106.6" cy="117.4" rx="1.9" ry="1.8" fill="#8e7478" opacity="0.66" transform="rotate(137 106.6 117.4)"/>
<ellipse cx="109.5" cy="116.6" rx="1.8" ry="1.5" fill="#7a7a98" opacity="0.66" transform="rotate(159 109.5 116.6)"/>
<ellipse cx="116.4" cy="116.7" rx="1.8" ry="1.6" fill="#7e6a70" opacity="0.66" transform="rotate(54 116.4 116.7)"/>
<ellipse cx="124.3" cy="116.8" rx="2.1" ry="1.6" fill="#8e7478" opacity="0.66" transform="rotate(111 124.3 116.8)"/>
<ellipse cx="128.0" cy="117.9" rx="1.6" ry="1.1" fill="#8e7478" opacity="0.66" transform="rotate(137 128.0 117.9)"/>
<ellipse cx="85.0" cy="120.0" rx="1.9" ry="1.4" fill="#8e7478" opacity="0.66" transform="rotate(20 85.0 120.0)"/>
<ellipse cx="90.5" cy="120.4" rx="1.7" ry="1.5" fill="#7a7a98" opacity="0.66" transform="rotate(42 90.5 120.4)"/>
<ellipse cx="93.4" cy="121.1" rx="2.2" ry="2.0" fill="#a08a88" opacity="0.66" transform="rotate(75 93.4 121.1)"/>
<ellipse cx="98.1" cy="121.7" rx="2.2" ry="1.8" fill="#8e7478" opacity="0.66" transform="rotate(38 98.1 121.7)"/>
<ellipse cx="102.8" cy="122.4" rx="1.7" ry="1.2" fill="#7e6a70" opacity="0.66" transform="rotate(20 102.8 122.4)"/>
<ellipse cx="109.2" cy="122.0" rx="1.9" ry="1.6" fill="#8e7478" opacity="0.66" transform="rotate(31 109.2 122.0)"/>
<ellipse cx="111.8" cy="122.0" rx="1.6" ry="1.1" fill="#7a7a98" opacity="0.66" transform="rotate(113 111.8 122.0)"/>
<ellipse cx="120.1" cy="120.1" rx="1.7" ry="1.3" fill="#7e6a70" opacity="0.66" transform="rotate(12 120.1 120.1)"/>
<ellipse cx="88.4" cy="124.8" rx="1.9" ry="1.5" fill="#8e7478" opacity="0.66" transform="rotate(138 88.4 124.8)"/>
<ellipse cx="96.8" cy="124.5" rx="2.2" ry="1.8" fill="#7e6a70" opacity="0.66" transform="rotate(126 96.8 124.5)"/>
<ellipse cx="101.8" cy="125.6" rx="1.7" ry="1.6" fill="#8e7478" opacity="0.66" transform="rotate(50 101.8 125.6)"/>
<ellipse cx="105.4" cy="125.6" rx="2.3" ry="1.7" fill="#a08a88" opacity="0.66" transform="rotate(98 105.4 125.6)"/>
<ellipse cx="109.7" cy="126.0" rx="1.8" ry="1.7" fill="#a08a88" opacity="0.66" transform="rotate(90 109.7 126.0)"/>
<ellipse cx="124.5" cy="126.2" rx="2.3" ry="2.0" fill="#7e6a70" opacity="0.66" transform="rotate(58 124.5 126.2)"/>
<ellipse cx="127.3" cy="126.0" rx="1.9" ry="1.6" fill="#7e6a70" opacity="0.66" transform="rotate(104 127.3 126.0)"/>
<ellipse cx="85.3" cy="128.4" rx="1.8" ry="1.3" fill="#7a7a98" opacity="0.66" transform="rotate(169 85.3 128.4)"/>
<ellipse cx="88.3" cy="128.5" rx="2.1" ry="1.6" fill="#a08a88" opacity="0.66" transform="rotate(37 88.3 128.5)"/>
<ellipse cx="94.7" cy="129.9" rx="1.7" ry="1.6" fill="#a08a88" opacity="0.66" transform="rotate(59 94.7 129.9)"/>
<ellipse cx="98.7" cy="128.3" rx="1.6" ry="1.4" fill="#a08a88" opacity="0.66" transform="rotate(151 98.7 128.3)"/>
<ellipse cx="103.6" cy="129.5" rx="2.2" ry="1.7" fill="#a08a88" opacity="0.66" transform="rotate(40 103.6 129.5)"/>
<ellipse cx="117.2" cy="130.4" rx="1.6" ry="1.3" fill="#a08a88" opacity="0.66" transform="rotate(120 117.2 130.4)"/>
<ellipse cx="122.7" cy="128.8" rx="2.0" ry="1.9" fill="#8e7478" opacity="0.66" transform="rotate(165 122.7 128.8)"/>
<ellipse cx="88.6" cy="133.7" rx="2.0" ry="1.9" fill="#7e6a70" opacity="0.66" transform="rotate(83 88.6 133.7)"/>
<ellipse cx="94.8" cy="133.1" rx="1.7" ry="1.6" fill="#7a7a98" opacity="0.66" transform="rotate(6 94.8 133.1)"/>
<ellipse cx="100.3" cy="133.2" rx="1.7" ry="1.5" fill="#8e7478" opacity="0.66" transform="rotate(90 100.3 133.2)"/>
<ellipse cx="105.8" cy="132.5" rx="2.1" ry="1.5" fill="#8e7478" opacity="0.66" transform="rotate(135 105.8 132.5)"/>
<ellipse cx="108.3" cy="133.9" rx="2.2" ry="1.8" fill="#7e6a70" opacity="0.66" transform="rotate(36 108.3 133.9)"/>
<ellipse cx="112.9" cy="132.2" rx="1.7" ry="1.2" fill="#7e6a70" opacity="0.66" transform="rotate(118 112.9 132.2)"/>
<ellipse cx="116.4" cy="133.2" rx="1.6" ry="1.2" fill="#8e7478" opacity="0.66" transform="rotate(164 116.4 133.2)"/>
<ellipse cx="123.2" cy="132.3" rx="2.3" ry="1.7" fill="#a08a88" opacity="0.66" transform="rotate(152 123.2 132.3)"/>
<ellipse cx="128.2" cy="133.0" rx="2.2" ry="1.9" fill="#7e6a70" opacity="0.66" transform="rotate(82 128.2 133.0)"/>
<ellipse cx="85.9" cy="137.3" rx="1.9" ry="1.3" fill="#8e7478" opacity="0.66" transform="rotate(74 85.9 137.3)"/>
<ellipse cx="97.8" cy="136.1" rx="2.1" ry="2.0" fill="#7e6a70" opacity="0.66" transform="rotate(171 97.8 136.1)"/>
<ellipse cx="104.6" cy="136.1" rx="1.8" ry="1.6" fill="#a08a88" opacity="0.66" transform="rotate(118 104.6 136.1)"/>
<ellipse cx="108.5" cy="135.7" rx="1.7" ry="1.7" fill="#8e7478" opacity="0.66" transform="rotate(141 108.5 135.7)"/>
<ellipse cx="111.7" cy="138.1" rx="2.0" ry="1.8" fill="#8e7478" opacity="0.66" transform="rotate(41 111.7 138.1)"/>
<ellipse cx="116.8" cy="136.5" rx="1.9" ry="1.7" fill="#7e6a70" opacity="0.66" transform="rotate(112 116.8 136.5)"/>
<ellipse cx="121.7" cy="136.7" rx="1.7" ry="1.3" fill="#8e7478" opacity="0.66" transform="rotate(128 121.7 136.7)"/>
<ellipse cx="124.9" cy="137.2" rx="2.1" ry="1.9" fill="#a08a88" opacity="0.66" transform="rotate(93 124.9 137.2)"/>
<ellipse cx="92.2" cy="140.2" rx="2.0" ry="1.8" fill="#8e7478" opacity="0.66" transform="rotate(143 92.2 140.2)"/>
<ellipse cx="101.0" cy="139.4" rx="2.2" ry="2.0" fill="#8e7478" opacity="0.66" transform="rotate(12 101.0 139.4)"/>
<ellipse cx="107.3" cy="139.3" rx="2.1" ry="1.7" fill="#8e7478" opacity="0.66" transform="rotate(108 107.3 139.3)"/>
<ellipse cx="109.2" cy="139.3" rx="1.7" ry="1.2" fill="#7a7a98" opacity="0.66" transform="rotate(91 109.2 139.3)"/>
<ellipse cx="114.7" cy="140.5" rx="2.3" ry="1.7" fill="#8e7478" opacity="0.66" transform="rotate(125 114.7 140.5)"/>
<ellipse cx="119.4" cy="141.9" rx="1.9" ry="1.8" fill="#a08a88" opacity="0.66" transform="rotate(114 119.4 141.9)"/>
<ellipse cx="83.9" cy="144.4" rx="2.0" ry="1.6" fill="#7a7a98" opacity="0.66" transform="rotate(78 83.9 144.4)"/>
<ellipse cx="88.9" cy="144.2" rx="1.8" ry="1.7" fill="#8e7478" opacity="0.66" transform="rotate(8 88.9 144.2)"/>
<ellipse cx="94.9" cy="144.1" rx="1.8" ry="1.3" fill="#7a7a98" opacity="0.66" transform="rotate(52 94.9 144.1)"/>
<ellipse cx="99.9" cy="142.8" rx="2.2" ry="1.6" fill="#8e7478" opacity="0.66" transform="rotate(49 99.9 142.8)"/>
<ellipse cx="104.3" cy="145.1" rx="1.9" ry="1.7" fill="#7e6a70" opacity="0.66" transform="rotate(159 104.3 145.1)"/>
<ellipse cx="110.0" cy="144.8" rx="1.6" ry="1.2" fill="#7e6a70" opacity="0.66" transform="rotate(44 110.0 144.8)"/>
<ellipse cx="113.1" cy="145.0" rx="1.6" ry="1.5" fill="#8e7478" opacity="0.66" transform="rotate(34 113.1 145.0)"/>
<ellipse cx="119.3" cy="143.9" rx="2.1" ry="2.0" fill="#7a7a98" opacity="0.66" transform="rotate(149 119.3 143.9)"/>
<ellipse cx="123.7" cy="142.9" rx="1.6" ry="1.2" fill="#7e6a70" opacity="0.66" transform="rotate(145 123.7 142.9)"/>
<ellipse cx="126.7" cy="143.9" rx="2.0" ry="1.7" fill="#a08a88" opacity="0.66" transform="rotate(168 126.7 143.9)"/>
<ellipse cx="87.6" cy="147.7" rx="1.7" ry="1.5" fill="#8e7478" opacity="0.66" transform="rotate(34 87.6 147.7)"/>
<ellipse cx="100.0" cy="147.8" rx="1.6" ry="1.2" fill="#7a7a98" opacity="0.66" transform="rotate(158 100.0 147.8)"/>
<ellipse cx="104.9" cy="147.8" rx="1.9" ry="1.4" fill="#8e7478" opacity="0.66" transform="rotate(143 104.9 147.8)"/>
<ellipse cx="110.0" cy="148.9" rx="2.2" ry="1.6" fill="#a08a88" opacity="0.66" transform="rotate(6 110.0 148.9)"/>
<ellipse cx="112.8" cy="147.0" rx="2.1" ry="1.6" fill="#8e7478" opacity="0.66" transform="rotate(6 112.8 147.0)"/>
<ellipse cx="117.5" cy="147.1" rx="2.1" ry="1.6" fill="#8e7478" opacity="0.66" transform="rotate(89 117.5 147.1)"/>
<ellipse cx="123.4" cy="149.0" rx="2.1" ry="1.5" fill="#a08a88" opacity="0.66" transform="rotate(71 123.4 149.0)"/>
<ellipse cx="127.5" cy="147.3" rx="2.3" ry="2.1" fill="#7e6a70" opacity="0.66" transform="rotate(78 127.5 147.3)"/>
<ellipse cx="84.4" cy="151.1" rx="2.0" ry="1.4" fill="#7e6a70" opacity="0.66" transform="rotate(79 84.4 151.1)"/>
<ellipse cx="96.4" cy="151.0" rx="1.9" ry="1.4" fill="#8e7478" opacity="0.66" transform="rotate(65 96.4 151.0)"/>
<ellipse cx="103.4" cy="153.0" rx="1.8" ry="1.4" fill="#a08a88" opacity="0.66" transform="rotate(84 103.4 153.0)"/>
<ellipse cx="107.6" cy="151.8" rx="2.2" ry="1.9" fill="#7a7a98" opacity="0.66" transform="rotate(162 107.6 151.8)"/>
<ellipse cx="118.9" cy="152.0" rx="2.0" ry="1.5" fill="#7e6a70" opacity="0.66" transform="rotate(104 118.9 152.0)"/>
<ellipse cx="122.7" cy="152.9" rx="1.8" ry="1.6" fill="#a08a88" opacity="0.66" transform="rotate(8 122.7 152.9)"/>
<ellipse cx="128.4" cy="152.4" rx="1.9" ry="1.4" fill="#7e6a70" opacity="0.66" transform="rotate(5 128.4 152.4)"/>
<ellipse cx="113" cy="139" rx="6.5" ry="4.5" fill="#e9e2de" opacity="0.85" transform="rotate(20 113 139)"/>
<ellipse cx="95" cy="129" rx="4" ry="3.5" fill="#e9e2de" opacity="0.85" transform="rotate(0 95 129)"/>
<ellipse cx="118" cy="126" rx="3" ry="2.5" fill="#e9e2de" opacity="0.85" transform="rotate(0 118 126)"/>
</g></g>
<clipPath id="c7"><rect x="129.8" y="114.2" width="40" height="39.3"/></clipPath>
<g clip-path="url(#c7)">
<rect x="129.80" y="114.20" width="40.00" height="39.30" fill="#e6e7ec"/>
<g filter="url(#blur)">
<circle cx="155.1" cy="117.1" r="3.0" fill="none" stroke="#c8b098" stroke-width="0.51" opacity="0.45"/>
<circle cx="149.1" cy="131.7" r="2.8" fill="none" stroke="#c8b098" stroke-width="0.51" opacity="0.45"/>
<circle cx="168.1" cy="133.6" r="2.9" fill="none" stroke="#c8b098" stroke-width="0.51" opacity="0.45"/>
<circle cx="158.7" cy="147.7" r="3.1" fill="none" stroke="#c8b098" stroke-width="0.51" opacity="0.45"/>
<ellipse cx="129.1" cy="114.3" rx="2.2" ry="2.0" fill="#80a0d6" opacity="0.75" transform="rotate(160 129.1 114.3)"/>
<ellipse cx="133.9" cy="112.8" rx="2.1" ry="1.8" fill="#80a0d6" opacity="0.75" transform="rotate(143 133.9 112.8)"/>
<ellipse cx="139.2" cy="114.1" rx="2.1" ry="1.7" fill="#98b0dc" opacity="0.75" transform="rotate(9 139.2 114.1)"/>
<ellipse cx="143.8" cy="114.4" rx="2.3" ry="1.9" fill="#80a0d6" opacity="0.75" transform="rotate(118 143.8 114.4)"/>
<ellipse cx="146.0" cy="112.6" rx="2.5" ry="2.1" fill="#98b0dc" opacity="0.75" transform="rotate(55 146.0 112.6)"/>
<ellipse cx="149.6" cy="114.1" rx="1.9" ry="1.8" fill="#80a0d6" opacity="0.75" transform="rotate(12 149.6 114.1)"/>
<ellipse cx="154.0" cy="112.7" rx="1.9" ry="1.5" fill="#6c86c0" opacity="0.75" transform="rotate(10 154.0 112.7)"/>
<ellipse cx="158.4" cy="112.1" rx="2.6" ry="1.8" fill="#80a0d6" opacity="0.75" transform="rotate(78 158.4 112.1)"/>
<ellipse cx="164.9" cy="112.6" rx="1.9" ry="1.7" fill="#98b0dc" opacity="0.75" transform="rotate(49 164.9 112.6)"/>
<ellipse cx="170.3" cy="111.7" rx="2.1" ry="1.8" fill="#80a0d6" opacity="0.75" transform="rotate(122 170.3 111.7)"/>
<ellipse cx="129.6" cy="118.6" rx="2.3" ry="2.1" fill="#98b0dc" opacity="0.75" transform="rotate(120 129.6 118.6)"/>
<ellipse cx="140.2" cy="116.4" rx="2.5" ry="2.2" fill="#80a0d6" opacity="0.75" transform="rotate(101 140.2 116.4)"/>
<ellipse cx="150.5" cy="117.1" rx="2.2" ry="1.7" fill="#80a0d6" opacity="0.75" transform="rotate(139 150.5 117.1)"/>
<ellipse cx="155.1" cy="117.1" rx="2.0" ry="1.5" fill="#6c86c0" opacity="0.75" transform="rotate(69 155.1 117.1)"/>
<ellipse cx="158.7" cy="118.0" rx="1.9" ry="1.6" fill="#80a0d6" opacity="0.75" transform="rotate(18 158.7 118.0)"/>
<ellipse cx="164.8" cy="117.7" rx="2.0" ry="1.8" fill="#6c86c0" opacity="0.75" transform="rotate(124 164.8 117.7)"/>
<ellipse cx="128.4" cy="119.6" rx="2.0" ry="1.8" fill="#80a0d6" opacity="0.75" transform="rotate(97 128.4 119.6)"/>
<ellipse cx="132.8" cy="119.9" rx="2.4" ry="1.9" fill="#98b0dc" opacity="0.75" transform="rotate(144 132.8 119.9)"/>
<ellipse cx="138.5" cy="122.3" rx="2.1" ry="1.7" fill="#6c86c0" opacity="0.75" transform="rotate(147 138.5 122.3)"/>
<ellipse cx="143.3" cy="120.9" rx="1.9" ry="1.7" fill="#98b0dc" opacity="0.75" transform="rotate(126 143.3 120.9)"/>
<ellipse cx="147.4" cy="122.3" rx="1.8" ry="1.5" fill="#80a0d6" opacity="0.75" transform="rotate(169 147.4 122.3)"/>
<ellipse cx="161.7" cy="119.9" rx="2.5" ry="2.3" fill="#98b0dc" opacity="0.75" transform="rotate(92 161.7 119.9)"/>
<ellipse cx="166.5" cy="120.1" rx="2.5" ry="2.0" fill="#80a0d6" opacity="0.75" transform="rotate(156 166.5 120.1)"/>
<ellipse cx="139.7" cy="123.7" rx="2.6" ry="2.1" fill="#6c86c0" opacity="0.75" transform="rotate(89 139.7 123.7)"/>
<ellipse cx="153.7" cy="125.7" rx="2.2" ry="1.7" fill="#80a0d6" opacity="0.75" transform="rotate(127 153.7 125.7)"/>
<ellipse cx="168.4" cy="125.8" rx="2.3" ry="2.2" fill="#80a0d6" opacity="0.75" transform="rotate(46 168.4 125.8)"/>
<ellipse cx="127.5" cy="127.9" rx="2.1" ry="1.5" fill="#6c86c0" opacity="0.75" transform="rotate(57 127.5 127.9)"/>
<ellipse cx="132.7" cy="129.4" rx="1.9" ry="1.7" fill="#6c86c0" opacity="0.75" transform="rotate(115 132.7 129.4)"/>
<ellipse cx="138.5" cy="128.7" rx="1.8" ry="1.3" fill="#98b0dc" opacity="0.75" transform="rotate(153 138.5 128.7)"/>
<ellipse cx="144.0" cy="128.2" rx="1.9" ry="1.4" fill="#80a0d6" opacity="0.75" transform="rotate(81 144.0 128.2)"/>
<ellipse cx="145.8" cy="128.0" rx="2.6" ry="2.2" fill="#6c86c0" opacity="0.75" transform="rotate(118 145.8 128.0)"/>
<ellipse cx="155.5" cy="128.7" rx="2.0" ry="1.4" fill="#80a0d6" opacity="0.75" transform="rotate(81 155.5 128.7)"/>
<ellipse cx="161.4" cy="129.5" rx="2.1" ry="1.8" fill="#98b0dc" opacity="0.75" transform="rotate(15 161.4 129.5)"/>
<ellipse cx="134.4" cy="131.7" rx="2.2" ry="1.6" fill="#80a0d6" opacity="0.75" transform="rotate(65 134.4 131.7)"/>
<ellipse cx="139.6" cy="133.1" rx="2.2" ry="1.9" fill="#98b0dc" opacity="0.75" transform="rotate(112 139.6 133.1)"/>
<ellipse cx="149.1" cy="131.7" rx="2.0" ry="1.4" fill="#98b0dc" opacity="0.75" transform="rotate(146 149.1 131.7)"/>
<ellipse cx="154.8" cy="134.2" rx="1.8" ry="1.5" fill="#98b0dc" opacity="0.75" transform="rotate(58 154.8 134.2)"/>
<ellipse cx="158.0" cy="131.6" rx="1.9" ry="1.3" fill="#6c86c0" opacity="0.75" transform="rotate(28 158.0 131.6)"/>
<ellipse cx="164.8" cy="133.0" rx="2.0" ry="1.9" fill="#80a0d6" opacity="0.75" transform="rotate(116 164.8 133.0)"/>
<ellipse cx="168.1" cy="133.6" rx="2.4" ry="1.8" fill="#98b0dc" opacity="0.75" transform="rotate(153 168.1 133.6)"/>
<ellipse cx="130.2" cy="137.7" rx="2.4" ry="1.8" fill="#98b0dc" opacity="0.75" transform="rotate(115 130.2 137.7)"/>
<ellipse cx="134.8" cy="138.1" rx="2.3" ry="2.0" fill="#98b0dc" opacity="0.75" transform="rotate(94 134.8 138.1)"/>
<ellipse cx="139.9" cy="137.0" rx="2.2" ry="1.6" fill="#80a0d6" opacity="0.75" transform="rotate(34 139.9 137.0)"/>
<ellipse cx="143.2" cy="136.1" rx="2.5" ry="2.1" fill="#80a0d6" opacity="0.75" transform="rotate(36 143.2 136.1)"/>
<ellipse cx="150.0" cy="138.2" rx="2.4" ry="2.1" fill="#98b0dc" opacity="0.75" transform="rotate(97 150.0 138.2)"/>
<ellipse cx="154.8" cy="135.9" rx="2.0" ry="1.7" fill="#98b0dc" opacity="0.75" transform="rotate(82 154.8 135.9)"/>
<ellipse cx="159.3" cy="137.0" rx="2.4" ry="2.2" fill="#98b0dc" opacity="0.75" transform="rotate(119 159.3 137.0)"/>
<ellipse cx="163.7" cy="135.8" rx="2.2" ry="2.0" fill="#80a0d6" opacity="0.75" transform="rotate(52 163.7 135.8)"/>
<ellipse cx="169.1" cy="137.0" rx="2.2" ry="1.9" fill="#80a0d6" opacity="0.75" transform="rotate(97 169.1 137.0)"/>
<ellipse cx="129.6" cy="140.0" rx="2.1" ry="1.9" fill="#98b0dc" opacity="0.75" transform="rotate(14 129.6 140.0)"/>
<ellipse cx="135.2" cy="139.9" rx="1.8" ry="1.3" fill="#98b0dc" opacity="0.75" transform="rotate(82 135.2 139.9)"/>
<ellipse cx="143.9" cy="140.7" rx="1.9" ry="1.5" fill="#80a0d6" opacity="0.75" transform="rotate(128 143.9 140.7)"/>
<ellipse cx="159.2" cy="140.3" rx="1.9" ry="1.6" fill="#6c86c0" opacity="0.75" transform="rotate(74 159.2 140.3)"/>
<ellipse cx="163.9" cy="141.1" rx="2.3" ry="1.9" fill="#80a0d6" opacity="0.75" transform="rotate(54 163.9 141.1)"/>
<ellipse cx="167.0" cy="140.4" rx="2.2" ry="1.7" fill="#6c86c0" opacity="0.75" transform="rotate(67 167.0 140.4)"/>
<ellipse cx="129.5" cy="143.3" rx="2.3" ry="1.9" fill="#80a0d6" opacity="0.75" transform="rotate(105 129.5 143.3)"/>
<ellipse cx="133.1" cy="146.2" rx="1.8" ry="1.7" fill="#98b0dc" opacity="0.75" transform="rotate(180 133.1 146.2)"/>
<ellipse cx="139.2" cy="144.2" rx="2.3" ry="2.1" fill="#98b0dc" opacity="0.75" transform="rotate(90 139.2 144.2)"/>
<ellipse cx="142.3" cy="143.5" rx="2.1" ry="1.4" fill="#80a0d6" opacity="0.75" transform="rotate(49 142.3 143.5)"/>
<ellipse cx="155.0" cy="143.8" rx="1.8" ry="1.4" fill="#80a0d6" opacity="0.75" transform="rotate(90 155.0 143.8)"/>
<ellipse cx="135.2" cy="148.4" rx="2.6" ry="2.2" fill="#98b0dc" opacity="0.75" transform="rotate(46 135.2 148.4)"/>
<ellipse cx="140.0" cy="148.0" rx="2.3" ry="2.1" fill="#98b0dc" opacity="0.75" transform="rotate(100 140.0 148.0)"/>
<ellipse cx="149.3" cy="149.3" rx="1.8" ry="1.6" fill="#80a0d6" opacity="0.75" transform="rotate(152 149.3 149.3)"/>
<ellipse cx="155.1" cy="148.7" rx="1.9" ry="1.7" fill="#80a0d6" opacity="0.75" transform="rotate(142 155.1 148.7)"/>
<ellipse cx="158.7" cy="147.7" rx="2.4" ry="1.8" fill="#6c86c0" opacity="0.75" transform="rotate(48 158.7 147.7)"/>
<ellipse cx="165.1" cy="147.4" rx="2.1" ry="1.6" fill="#98b0dc" opacity="0.75" transform="rotate(41 165.1 147.4)"/>
<ellipse cx="133.5" cy="153.6" rx="2.3" ry="1.7" fill="#80a0d6" opacity="0.75" transform="rotate(134 133.5 153.6)"/>
<ellipse cx="138.5" cy="151.6" rx="2.3" ry="2.2" fill="#80a0d6" opacity="0.75" transform="rotate(40 138.5 151.6)"/>
<ellipse cx="143.7" cy="153.9" rx="2.3" ry="2.1" fill="#80a0d6" opacity="0.75" transform="rotate(145 143.7 153.9)"/>
<ellipse cx="147.9" cy="151.9" rx="2.4" ry="2.2" fill="#98b0dc" opacity="0.75" transform="rotate(148 147.9 151.9)"/>
<ellipse cx="157.4" cy="152.7" rx="2.3" ry="1.6" fill="#98b0dc" opacity="0.75" transform="rotate(9 157.4 152.7)"/>
<ellipse cx="161.1" cy="152.4" rx="1.9" ry="1.3" fill="#98b0dc" opacity="0.75" transform="rotate(38 161.1 152.4)"/>
<ellipse cx="167.6" cy="152.4" rx="2.4" ry="2.1" fill="#6c86c0" opacity="0.75" transform="rotate(138 167.6 152.4)"/>
</g></g>
<clipPath id="c8"><rect x="172" y="114.2" width="41" height="39.3"/></clipPath>
<g clip-path="url(#c8)">
<rect x="172.00" y="114.20" width="41.00" height="39.30" fill="#e4dcd6"/>
<g filter="url(#blur)">
<circle cx="173.9" cy="112.2" r="2.5" fill="none" stroke="#9a6444" stroke-width="0.68" opacity="0.45"/>
<circle cx="198.3" cy="113.9" r="2.5" fill="none" stroke="#9a6444" stroke-width="0.68" opacity="0.45"/>
<circle cx="201.7" cy="114.3" r="2.6" fill="#9a6444" opacity="0.35"/>
<circle cx="201.7" cy="114.3" r="2.6" fill="none" stroke="#9a6444" stroke-width="0.68" opacity="0.45"/>
<circle cx="210.5" cy="114.2" r="3.0" fill="none" stroke="#9a6444" stroke-width="0.68" opacity="0.45"/>
<circle cx="190.6" cy="117.8" r="2.8" fill="none" stroke="#9a6444" stroke-width="0.68" opacity="0.45"/>
<circle cx="194.1" cy="116.6" r="2.5" fill="none" stroke="#9a6444" stroke-width="0.68" opacity="0.45"/>
<circle cx="212.6" cy="115.6" r="2.9" fill="none" stroke="#9a6444" stroke-width="0.68" opacity="0.45"/>
<circle cx="188.7" cy="120.8" r="2.4" fill="#9a6444" opacity="0.35"/>
<circle cx="188.7" cy="120.8" r="2.4" fill="none" stroke="#9a6444" stroke-width="0.68" opacity="0.45"/>
<circle cx="195.8" cy="120.3" r="2.9" fill="none" stroke="#9a6444" stroke-width="0.68" opacity="0.45"/>
<circle cx="202.1" cy="121.5" r="2.7" fill="none" stroke="#9a6444" stroke-width="0.68" opacity="0.45"/>
<circle cx="205.4" cy="121.0" r="2.9" fill="none" stroke="#9a6444" stroke-width="0.68" opacity="0.45"/>
<circle cx="211.2" cy="121.3" r="2.9" fill="#9a6444" opacity="0.35"/>
<circle cx="211.2" cy="121.3" r="2.9" fill="none" stroke="#9a6444" stroke-width="0.68" opacity="0.45"/>
<circle cx="215.9" cy="119.5" r="2.5" fill="none" stroke="#9a6444" stroke-width="0.68" opacity="0.45"/>
<circle cx="188.4" cy="123.7" r="2.8" fill="#9a6444" opacity="0.35"/>
<circle cx="188.4" cy="123.7" r="2.8" fill="none" stroke="#9a6444" stroke-width="0.68" opacity="0.45"/>
<circle cx="202.1" cy="123.3" r="2.4" fill="none" stroke="#9a6444" stroke-width="0.68" opacity="0.45"/>
<circle cx="205.6" cy="125.0" r="2.5" fill="none" stroke="#9a6444" stroke-width="0.68" opacity="0.45"/>
<circle cx="176.2" cy="127.8" r="2.7" fill="none" stroke="#9a6444" stroke-width="0.68" opacity="0.45"/>
<circle cx="188.1" cy="128.4" r="2.6" fill="#9a6444" opacity="0.35"/>
<circle cx="188.1" cy="128.4" r="2.6" fill="none" stroke="#9a6444" stroke-width="0.68" opacity="0.45"/>
<circle cx="191.6" cy="127.4" r="2.7" fill="none" stroke="#9a6444" stroke-width="0.68" opacity="0.45"/>
<circle cx="204.3" cy="127.9" r="2.3" fill="#9a6444" opacity="0.35"/>
<circle cx="204.3" cy="127.9" r="2.3" fill="none" stroke="#9a6444" stroke-width="0.68" opacity="0.45"/>
<circle cx="173.0" cy="132.4" r="2.6" fill="none" stroke="#9a6444" stroke-width="0.68" opacity="0.45"/>
<circle cx="197.6" cy="130.1" r="2.8" fill="#9a6444" opacity="0.35"/>
<circle cx="197.6" cy="130.1" r="2.8" fill="none" stroke="#9a6444" stroke-width="0.68" opacity="0.45"/>
<circle cx="171.3" cy="134.6" r="3.0" fill="none" stroke="#9a6444" stroke-width="0.68" opacity="0.45"/>
<circle cx="212.7" cy="133.9" r="2.9" fill="none" stroke="#9a6444" stroke-width="0.68" opacity="0.45"/>
<circle cx="191.0" cy="139.0" r="2.3" fill="none" stroke="#9a6444" stroke-width="0.68" opacity="0.45"/>
<circle cx="173.6" cy="141.7" r="2.7" fill="none" stroke="#9a6444" stroke-width="0.68" opacity="0.45"/>
<circle cx="182.3" cy="147.4" r="2.8" fill="none" stroke="#9a6444" stroke-width="0.68" opacity="0.45"/>
<circle cx="187.0" cy="145.0" r="3.0" fill="none" stroke="#9a6444" stroke-width="0.68" opacity="0.45"/>
<circle cx="195.3" cy="147.1" r="2.6" fill="none" stroke="#9a6444" stroke-width="0.68" opacity="0.45"/>
<circle cx="190.8" cy="149.2" r="2.3" fill="#9a6444" opacity="0.35"/>
<circle cx="190.8" cy="149.2" r="2.3" fill="none" stroke="#9a6444" stroke-width="0.68" opacity="0.45"/>
<circle cx="194.1" cy="151.2" r="3.0" fill="none" stroke="#9a6444" stroke-width="0.68" opacity="0.45"/>
<circle cx="198.6" cy="149.1" r="2.8" fill="#9a6444" opacity="0.35"/>
<circle cx="198.6" cy="149.1" r="2.8" fill="none" stroke="#9a6444" stroke-width="0.68" opacity="0.45"/>
<circle cx="174.1" cy="154.6" r="2.5" fill="#9a6444" opacity="0.35"/>
<circle cx="174.1" cy="154.6" r="2.5" fill="none" stroke="#9a6444" stroke-width="0.68" opacity="0.45"/>
<circle cx="194.6" cy="154.6" r="2.4" fill="none" stroke="#9a6444" stroke-width="0.68" opacity="0.45"/>
<circle cx="199.4" cy="155.1" r="2.6" fill="#9a6444" opacity="0.35"/>
<circle cx="199.4" cy="155.1" r="2.6" fill="none" stroke="#9a6444" stroke-width="0.68" opacity="0.45"/>
<circle cx="204.3" cy="153.8" r="2.9" fill="#9a6444" opacity="0.35"/>
<circle cx="204.3" cy="153.8" r="2.9" fill="none" stroke="#9a6444" stroke-width="0.68" opacity="0.45"/>
<ellipse cx="170.4" cy="114.5" rx="2.3" ry="1.6" fill="#62361e" opacity="0.9" transform="rotate(97 170.4 114.5)"/>
<ellipse cx="185.1" cy="111.9" rx="2.3" ry="1.7" fill="#744026" opacity="0.9" transform="rotate(44 185.1 111.9)"/>
<ellipse cx="193.6" cy="113.4" rx="2.5" ry="2.3" fill="#744026" opacity="0.9" transform="rotate(15 193.6 113.4)"/>
<ellipse cx="198.3" cy="113.9" rx="2.5" ry="1.7" fill="#62361e" opacity="0.9" transform="rotate(175 198.3 113.9)"/>
<ellipse cx="201.7" cy="114.3" rx="2.0" ry="1.6" fill="#62361e" opacity="0.9" transform="rotate(42 201.7 114.3)"/>
<ellipse cx="210.5" cy="114.2" rx="2.0" ry="1.4" fill="#744026" opacity="0.9" transform="rotate(101 210.5 114.2)"/>
<ellipse cx="213.3" cy="112.0" rx="1.8" ry="1.4" fill="#62361e" opacity="0.9" transform="rotate(175 213.3 112.0)"/>
<ellipse cx="178.4" cy="115.6" rx="2.2" ry="1.7" fill="#744026" opacity="0.9" transform="rotate(78 178.4 115.6)"/>
<ellipse cx="194.1" cy="116.6" rx="1.9" ry="1.4" fill="#864c2e" opacity="0.9" transform="rotate(104 194.1 116.6)"/>
<ellipse cx="198.4" cy="116.1" rx="1.9" ry="1.5" fill="#62361e" opacity="0.9" transform="rotate(99 198.4 116.1)"/>
<ellipse cx="203.7" cy="116.8" rx="1.9" ry="1.5" fill="#62361e" opacity="0.9" transform="rotate(50 203.7 116.8)"/>
<ellipse cx="207.7" cy="117.4" rx="2.3" ry="1.9" fill="#744026" opacity="0.9" transform="rotate(7 207.7 117.4)"/>
<ellipse cx="212.6" cy="115.6" rx="2.2" ry="1.8" fill="#864c2e" opacity="0.9" transform="rotate(132 212.6 115.6)"/>
<ellipse cx="171.4" cy="119.7" rx="1.9" ry="1.5" fill="#62361e" opacity="0.9" transform="rotate(146 171.4 119.7)"/>
<ellipse cx="175.2" cy="121.7" rx="1.9" ry="1.4" fill="#744026" opacity="0.9" transform="rotate(8 175.2 121.7)"/>
<ellipse cx="179.7" cy="121.0" rx="1.9" ry="1.4" fill="#744026" opacity="0.9" transform="rotate(174 179.7 121.0)"/>
<ellipse cx="184.9" cy="121.6" rx="2.1" ry="1.6" fill="#62361e" opacity="0.9" transform="rotate(114 184.9 121.6)"/>
<ellipse cx="188.7" cy="120.8" rx="1.9" ry="1.5" fill="#744026" opacity="0.9" transform="rotate(135 188.7 120.8)"/>
<ellipse cx="190.7" cy="121.5" rx="2.4" ry="1.7" fill="#744026" opacity="0.9" transform="rotate(19 190.7 121.5)"/>
<ellipse cx="195.8" cy="120.3" rx="2.5" ry="1.7" fill="#62361e" opacity="0.9" transform="rotate(110 195.8 120.3)"/>
<ellipse cx="202.1" cy="121.5" rx="2.0" ry="1.9" fill="#62361e" opacity="0.9" transform="rotate(140 202.1 121.5)"/>
<ellipse cx="205.4" cy="121.0" rx="2.3" ry="1.9" fill="#864c2e" opacity="0.9" transform="rotate(144 205.4 121.0)"/>
<ellipse cx="211.2" cy="121.3" rx="2.3" ry="1.8" fill="#864c2e" opacity="0.9" transform="rotate(1 211.2 121.3)"/>
<ellipse cx="215.9" cy="119.5" rx="2.1" ry="1.5" fill="#62361e" opacity="0.9" transform="rotate(149 215.9 119.5)"/>
<ellipse cx="175.9" cy="122.8" rx="1.9" ry="1.5" fill="#864c2e" opacity="0.9" transform="rotate(180 175.9 122.8)"/>
<ellipse cx="180.8" cy="124.5" rx="2.1" ry="1.5" fill="#744026" opacity="0.9" transform="rotate(130 180.8 124.5)"/>
<ellipse cx="188.4" cy="123.7" rx="1.8" ry="1.5" fill="#744026" opacity="0.9" transform="rotate(42 188.4 123.7)"/>
<ellipse cx="194.5" cy="124.9" rx="2.1" ry="1.7" fill="#744026" opacity="0.9" transform="rotate(49 194.5 124.9)"/>
<ellipse cx="198.3" cy="124.0" rx="1.7" ry="1.5" fill="#62361e" opacity="0.9" transform="rotate(4 198.3 124.0)"/>
<ellipse cx="202.1" cy="123.3" rx="1.7" ry="1.5" fill="#864c2e" opacity="0.9" transform="rotate(46 202.1 123.3)"/>
<ellipse cx="205.6" cy="125.0" rx="1.7" ry="1.4" fill="#744026" opacity="0.9" transform="rotate(37 205.6 125.0)"/>
<ellipse cx="209.6" cy="123.9" rx="2.0" ry="1.8" fill="#744026" opacity="0.9" transform="rotate(130 209.6 123.9)"/>
<ellipse cx="172.0" cy="129.0" rx="2.1" ry="1.7" fill="#864c2e" opacity="0.9" transform="rotate(109 172.0 129.0)"/>
<ellipse cx="176.2" cy="127.8" rx="1.7" ry="1.6" fill="#864c2e" opacity="0.9" transform="rotate(136 176.2 127.8)"/>
<ellipse cx="180.5" cy="127.3" rx="2.5" ry="2.1" fill="#62361e" opacity="0.9" transform="rotate(34 180.5 127.3)"/>
<ellipse cx="182.8" cy="129.2" rx="2.0" ry="1.4" fill="#744026" opacity="0.9" transform="rotate(40 182.8 129.2)"/>
<ellipse cx="188.1" cy="128.4" rx="2.1" ry="1.9" fill="#744026" opacity="0.9" transform="rotate(38 188.1 128.4)"/>
<ellipse cx="191.6" cy="127.4" rx="2.1" ry="1.7" fill="#744026" opacity="0.9" transform="rotate(94 191.6 127.4)"/>
<ellipse cx="197.1" cy="127.8" rx="2.1" ry="1.6" fill="#4a2a1c" opacity="0.9" transform="rotate(105 197.1 127.8)"/>
<ellipse cx="200.9" cy="129.2" rx="1.7" ry="1.4" fill="#744026" opacity="0.9" transform="rotate(57 200.9 129.2)"/>
<ellipse cx="204.3" cy="127.9" rx="1.9" ry="1.5" fill="#864c2e" opacity="0.9" transform="rotate(34 204.3 127.9)"/>
<ellipse cx="209.3" cy="128.3" rx="2.5" ry="2.1" fill="#864c2e" opacity="0.9" transform="rotate(49 209.3 128.3)"/>
<ellipse cx="212.5" cy="127.9" rx="1.9" ry="1.3" fill="#4a2a1c" opacity="0.9" transform="rotate(106 212.5 127.9)"/>
<ellipse cx="173.0" cy="132.4" rx="1.9" ry="1.7" fill="#744026" opacity="0.9" transform="rotate(154 173.0 132.4)"/>
<ellipse cx="178.2" cy="129.7" rx="2.4" ry="1.7" fill="#744026" opacity="0.9" transform="rotate(103 178.2 129.7)"/>
<ellipse cx="180.0" cy="130.1" rx="2.2" ry="1.6" fill="#744026" opacity="0.9" transform="rotate(18 180.0 130.1)"/>
<ellipse cx="190.9" cy="131.6" rx="2.0" ry="1.6" fill="#4a2a1c" opacity="0.9" transform="rotate(58 190.9 131.6)"/>
<ellipse cx="194.4" cy="130.4" rx="2.2" ry="1.8" fill="#4a2a1c" opacity="0.9" transform="rotate(33 194.4 130.4)"/>
<ellipse cx="197.6" cy="130.1" rx="2.4" ry="1.8" fill="#864c2e" opacity="0.9" transform="rotate(150 197.6 130.1)"/>
<ellipse cx="202.1" cy="131.5" rx="2.5" ry="1.8" fill="#4a2a1c" opacity="0.9" transform="rotate(29 202.1 131.5)"/>
<ellipse cx="171.3" cy="134.6" rx="1.7" ry="1.4" fill="#864c2e" opacity="0.9" transform="rotate(134 171.3 134.6)"/>
<ellipse cx="174.1" cy="133.9" rx="2.5" ry="2.0" fill="#864c2e" opacity="0.9" transform="rotate(166 174.1 133.9)"/>
<ellipse cx="179.2" cy="134.4" rx="2.4" ry="2.2" fill="#864c2e" opacity="0.9" transform="rotate(157 179.2 134.4)"/>
<ellipse cx="184.8" cy="134.1" rx="1.7" ry="1.6" fill="#864c2e" opacity="0.9" transform="rotate(4 184.8 134.1)"/>
<ellipse cx="189.2" cy="135.6" rx="2.1" ry="2.0" fill="#62361e" opacity="0.9" transform="rotate(72 189.2 135.6)"/>
<ellipse cx="192.4" cy="134.1" rx="2.4" ry="1.7" fill="#4a2a1c" opacity="0.9" transform="rotate(27 192.4 134.1)"/>
<ellipse cx="207.6" cy="135.6" rx="2.0" ry="1.7" fill="#744026" opacity="0.9" transform="rotate(177 207.6 135.6)"/>
<ellipse cx="212.7" cy="133.9" rx="2.0" ry="1.7" fill="#62361e" opacity="0.9" transform="rotate(6 212.7 133.9)"/>
<ellipse cx="174.0" cy="140.0" rx="1.9" ry="1.7" fill="#864c2e" opacity="0.9" transform="rotate(55 174.0 140.0)"/>
<ellipse cx="176.7" cy="138.0" rx="1.7" ry="1.2" fill="#62361e" opacity="0.9" transform="rotate(121 176.7 138.0)"/>
<ellipse cx="191.0" cy="139.0" rx="2.2" ry="2.1" fill="#62361e" opacity="0.9" transform="rotate(177 191.0 139.0)"/>
<ellipse cx="198.6" cy="137.7" rx="2.2" ry="2.0" fill="#62361e" opacity="0.9" transform="rotate(36 198.6 137.7)"/>
<ellipse cx="203.1" cy="138.8" rx="2.3" ry="1.9" fill="#864c2e" opacity="0.9" transform="rotate(34 203.1 138.8)"/>
<ellipse cx="205.3" cy="139.8" rx="1.7" ry="1.5" fill="#744026" opacity="0.9" transform="rotate(115 205.3 139.8)"/>
<ellipse cx="210.3" cy="139.7" rx="2.0" ry="1.5" fill="#864c2e" opacity="0.9" transform="rotate(31 210.3 139.7)"/>
<ellipse cx="173.6" cy="141.7" rx="2.2" ry="1.7" fill="#4a2a1c" opacity="0.9" transform="rotate(37 173.6 141.7)"/>
<ellipse cx="178.6" cy="143.0" rx="2.4" ry="2.2" fill="#62361e" opacity="0.9" transform="rotate(22 178.6 143.0)"/>
<ellipse cx="183.3" cy="141.2" rx="1.8" ry="1.5" fill="#864c2e" opacity="0.9" transform="rotate(33 183.3 141.2)"/>
<ellipse cx="189.7" cy="141.7" rx="1.8" ry="1.4" fill="#744026" opacity="0.9" transform="rotate(16 189.7 141.7)"/>
<ellipse cx="193.5" cy="141.3" rx="2.3" ry="1.7" fill="#62361e" opacity="0.9" transform="rotate(72 193.5 141.3)"/>
<ellipse cx="195.6" cy="143.0" rx="2.3" ry="1.8" fill="#62361e" opacity="0.9" transform="rotate(14 195.6 143.0)"/>
<ellipse cx="199.7" cy="143.0" rx="2.5" ry="2.0" fill="#62361e" opacity="0.9" transform="rotate(87 199.7 143.0)"/>
<ellipse cx="206.0" cy="142.2" rx="2.2" ry="1.9" fill="#864c2e" opacity="0.9" transform="rotate(19 206.0 142.2)"/>
<ellipse cx="213.8" cy="141.7" rx="2.3" ry="1.9" fill="#744026" opacity="0.9" transform="rotate(164 213.8 141.7)"/>
<ellipse cx="173.7" cy="147.5" rx="2.0" ry="1.7" fill="#744026" opacity="0.9" transform="rotate(142 173.7 147.5)"/>
<ellipse cx="178.1" cy="146.6" rx="2.1" ry="1.7" fill="#744026" opacity="0.9" transform="rotate(2 178.1 146.6)"/>
<ellipse cx="182.3" cy="147.4" rx="1.8" ry="1.7" fill="#744026" opacity="0.9" transform="rotate(6 182.3 147.4)"/>
<ellipse cx="187.0" cy="145.0" rx="1.9" ry="1.6" fill="#864c2e" opacity="0.9" transform="rotate(84 187.0 145.0)"/>
<ellipse cx="189.5" cy="146.2" rx="2.1" ry="1.8" fill="#62361e" opacity="0.9" transform="rotate(141 189.5 146.2)"/>
<ellipse cx="195.3" cy="147.1" rx="1.9" ry="1.7" fill="#4a2a1c" opacity="0.9" transform="rotate(130 195.3 147.1)"/>
<ellipse cx="197.7" cy="146.1" rx="2.4" ry="2.2" fill="#744026" opacity="0.9" transform="rotate(174 197.7 146.1)"/>
<ellipse cx="210.9" cy="147.3" rx="2.2" ry="1.6" fill="#864c2e" opacity="0.9" transform="rotate(147 210.9 147.3)"/>
<ellipse cx="190.8" cy="149.2" rx="2.4" ry="2.2" fill="#744026" opacity="0.9" transform="rotate(68 190.8 149.2)"/>
<ellipse cx="194.1" cy="151.2" rx="2.1" ry="1.8" fill="#864c2e" opacity="0.9" transform="rotate(53 194.1 151.2)"/>
<ellipse cx="198.6" cy="149.1" rx="2.1" ry="1.9" fill="#744026" opacity="0.9" transform="rotate(21 198.6 149.1)"/>
<ellipse cx="207.9" cy="149.7" rx="2.5" ry="1.8" fill="#744026" opacity="0.9" transform="rotate(101 207.9 149.7)"/>
<ellipse cx="174.1" cy="154.6" rx="2.2" ry="2.0" fill="#62361e" opacity="0.9" transform="rotate(178 174.1 154.6)"/>
<ellipse cx="177.9" cy="153.1" rx="1.8" ry="1.6" fill="#62361e" opacity="0.9" transform="rotate(10 177.9 153.1)"/>
<ellipse cx="191.4" cy="153.5" rx="2.3" ry="2.2" fill="#744026" opacity="0.9" transform="rotate(151 191.4 153.5)"/>
<ellipse cx="194.6" cy="154.6" rx="2.1" ry="1.4" fill="#62361e" opacity="0.9" transform="rotate(98 194.6 154.6)"/>
<ellipse cx="199.4" cy="155.1" rx="2.1" ry="1.8" fill="#864c2e" opacity="0.9" transform="rotate(165 199.4 155.1)"/>
<ellipse cx="204.3" cy="153.8" rx="2.1" ry="1.4" fill="#744026" opacity="0.9" transform="rotate(43 204.3 153.8)"/>
<ellipse cx="207.8" cy="155.0" rx="2.1" ry="1.5" fill="#62361e" opacity="0.9" transform="rotate(37 207.8 155.0)"/>
<ellipse cx="210.9" cy="153.4" rx="2.4" ry="1.7" fill="#744026" opacity="0.9" transform="rotate(8 210.9 153.4)"/>
<ellipse cx="197" cy="128" rx="7" ry="3.0" fill="#e4dcd6" opacity="0.85" transform="rotate(-50 197 128)"/>
<ellipse cx="186" cy="142" rx="7" ry="2.6" fill="#e4dcd6" opacity="0.85" transform="rotate(-55 186 142)"/>
<ellipse cx="190" cy="135" rx="4" ry="3" fill="#e4dcd6" opacity="0.85" transform="rotate(0 190 135)"/>
</g></g>
<rect x="82.20" y="115.00" width="1.50" height="37.70" fill="#3a3a3a"/>
<clipPath id="c9"><rect x="86" y="156.8" width="41.3" height="37.2"/></clipPath>
<g clip-path="url(#c9)">
<rect x="86.00" y="156.80" width="41.30" height="37.20" fill="#e6e4ec"/>
<g filter="url(#blur)">
<circle cx="95.0" cy="156.7" r="2.4" fill="#b8a090" opacity="0.35"/>
<circle cx="95.0" cy="156.7" r="2.4" fill="none" stroke="#b8a090" stroke-width="0.59" opacity="0.45"/>
<circle cx="110.2" cy="158.9" r="2.7" fill="#b8a090" opacity="0.35"/>
<circle cx="110.2" cy="158.9" r="2.7" fill="none" stroke="#b8a090" stroke-width="0.59" opacity="0.45"/>
<circle cx="121.5" cy="159.8" r="2.4" fill="none" stroke="#b8a090" stroke-width="0.59" opacity="0.45"/>
<circle cx="93.4" cy="165.2" r="2.5" fill="none" stroke="#b8a090" stroke-width="0.59" opacity="0.45"/>
<circle cx="111.0" cy="163.1" r="2.4" fill="#b8a090" opacity="0.35"/>
<circle cx="111.0" cy="163.1" r="2.4" fill="none" stroke="#b8a090" stroke-width="0.59" opacity="0.45"/>
<circle cx="123.3" cy="166.5" r="2.6" fill="#b8a090" opacity="0.35"/>
<circle cx="123.3" cy="166.5" r="2.6" fill="none" stroke="#b8a090" stroke-width="0.59" opacity="0.45"/>
<circle cx="97.3" cy="176.2" r="2.7" fill="none" stroke="#b8a090" stroke-width="0.59" opacity="0.45"/>
<circle cx="84.2" cy="179.4" r="2.5" fill="#b8a090" opacity="0.35"/>
<circle cx="84.2" cy="179.4" r="2.5" fill="none" stroke="#b8a090" stroke-width="0.59" opacity="0.45"/>
<circle cx="96.0" cy="182.2" r="2.2" fill="#b8a090" opacity="0.35"/>
<circle cx="96.0" cy="182.2" r="2.2" fill="none" stroke="#b8a090" stroke-width="0.59" opacity="0.45"/>
<circle cx="105.5" cy="182.7" r="2.6" fill="none" stroke="#b8a090" stroke-width="0.59" opacity="0.45"/>
<circle cx="117.3" cy="190.2" r="2.3" fill="none" stroke="#b8a090" stroke-width="0.59" opacity="0.45"/>
<circle cx="90.0" cy="193.1" r="2.3" fill="#b8a090" opacity="0.35"/>
<circle cx="90.0" cy="193.1" r="2.3" fill="none" stroke="#b8a090" stroke-width="0.59" opacity="0.45"/>
<circle cx="93.1" cy="192.8" r="2.8" fill="none" stroke="#b8a090" stroke-width="0.59" opacity="0.45"/>
<ellipse cx="85.6" cy="156.9" rx="1.9" ry="1.7" fill="#a8b0d8" opacity="0.6" transform="rotate(75 85.6 156.9)"/>
<ellipse cx="99.3" cy="155.3" rx="1.7" ry="1.3" fill="#b0a4b4" opacity="0.6" transform="rotate(102 99.3 155.3)"/>
<ellipse cx="103.9" cy="155.7" rx="2.1" ry="2.0" fill="#9aa2cc" opacity="0.6" transform="rotate(88 103.9 155.7)"/>
<ellipse cx="119.0" cy="156.0" rx="2.0" ry="1.9" fill="#9aa2cc" opacity="0.6" transform="rotate(46 119.0 156.0)"/>
<ellipse cx="123.2" cy="156.3" rx="1.6" ry="1.4" fill="#a8b0d8" opacity="0.6" transform="rotate(43 123.2 156.3)"/>
<ellipse cx="87.7" cy="159.6" rx="2.2" ry="1.5" fill="#b0a4b4" opacity="0.6" transform="rotate(49 87.7 159.6)"/>
<ellipse cx="95.2" cy="159.5" rx="1.8" ry="1.5" fill="#a8b0d8" opacity="0.6" transform="rotate(119 95.2 159.5)"/>
<ellipse cx="100.7" cy="159.5" rx="1.7" ry="1.2" fill="#a8b0d8" opacity="0.6" transform="rotate(118 100.7 159.5)"/>
<ellipse cx="105.4" cy="159.6" rx="1.7" ry="1.5" fill="#a8b0d8" opacity="0.6" transform="rotate(42 105.4 159.6)"/>
<ellipse cx="110.2" cy="158.9" rx="1.8" ry="1.4" fill="#a8b0d8" opacity="0.6" transform="rotate(125 110.2 158.9)"/>
<ellipse cx="116.8" cy="159.5" rx="1.6" ry="1.3" fill="#a8b0d8" opacity="0.6" transform="rotate(148 116.8 159.5)"/>
<ellipse cx="121.5" cy="159.8" rx="2.1" ry="1.9" fill="#9aa2cc" opacity="0.6" transform="rotate(153 121.5 159.8)"/>
<ellipse cx="84.3" cy="163.1" rx="2.0" ry="1.9" fill="#9aa2cc" opacity="0.6" transform="rotate(171 84.3 163.1)"/>
<ellipse cx="89.1" cy="162.9" rx="1.6" ry="1.5" fill="#9aa2cc" opacity="0.6" transform="rotate(128 89.1 162.9)"/>
<ellipse cx="93.4" cy="165.2" rx="1.7" ry="1.4" fill="#9aa2cc" opacity="0.6" transform="rotate(149 93.4 165.2)"/>
<ellipse cx="98.0" cy="164.7" rx="1.8" ry="1.3" fill="#9aa2cc" opacity="0.6" transform="rotate(60 98.0 164.7)"/>
<ellipse cx="102.8" cy="163.6" rx="1.6" ry="1.2" fill="#a8b0d8" opacity="0.6" transform="rotate(17 102.8 163.6)"/>
<ellipse cx="106.7" cy="165.1" rx="1.7" ry="1.3" fill="#a8b0d8" opacity="0.6" transform="rotate(131 106.7 165.1)"/>
<ellipse cx="111.0" cy="163.1" rx="1.9" ry="1.5" fill="#a8b0d8" opacity="0.6" transform="rotate(55 111.0 163.1)"/>
<ellipse cx="116.5" cy="164.2" rx="1.6" ry="1.2" fill="#9aa2cc" opacity="0.6" transform="rotate(40 116.5 164.2)"/>
<ellipse cx="121.8" cy="162.5" rx="1.9" ry="1.4" fill="#9aa2cc" opacity="0.6" transform="rotate(14 121.8 162.5)"/>
<ellipse cx="124.9" cy="162.8" rx="2.0" ry="1.5" fill="#b0a4b4" opacity="0.6" transform="rotate(37 124.9 162.8)"/>
<ellipse cx="88.5" cy="166.3" rx="1.6" ry="1.4" fill="#9aa2cc" opacity="0.6" transform="rotate(2 88.5 166.3)"/>
<ellipse cx="98.2" cy="168.2" rx="1.7" ry="1.4" fill="#b0a4b4" opacity="0.6" transform="rotate(2 98.2 168.2)"/>
<ellipse cx="102.0" cy="167.1" rx="2.0" ry="1.9" fill="#a8b0d8" opacity="0.6" transform="rotate(84 102.0 167.1)"/>
<ellipse cx="107.3" cy="168.6" rx="1.9" ry="1.5" fill="#9aa2cc" opacity="0.6" transform="rotate(48 107.3 168.6)"/>
<ellipse cx="111.4" cy="167.3" rx="1.6" ry="1.1" fill="#a8b0d8" opacity="0.6" transform="rotate(120 111.4 167.3)"/>
<ellipse cx="123.3" cy="166.5" rx="2.2" ry="1.9" fill="#a8b0d8" opacity="0.6" transform="rotate(52 123.3 166.5)"/>
<ellipse cx="83.8" cy="170.4" rx="2.3" ry="2.1" fill="#a8b0d8" opacity="0.6" transform="rotate(59 83.8 170.4)"/>
<ellipse cx="90.9" cy="170.0" rx="2.0" ry="1.5" fill="#a8b0d8" opacity="0.6" transform="rotate(141 90.9 170.0)"/>
<ellipse cx="98.5" cy="171.4" rx="2.1" ry="1.7" fill="#a8b0d8" opacity="0.6" transform="rotate(139 98.5 171.4)"/>
<ellipse cx="103.7" cy="169.8" rx="1.6" ry="1.2" fill="#a8b0d8" opacity="0.6" transform="rotate(151 103.7 169.8)"/>
<ellipse cx="105.8" cy="171.1" rx="2.2" ry="1.8" fill="#9aa2cc" opacity="0.6" transform="rotate(31 105.8 171.1)"/>
<ellipse cx="113.3" cy="171.7" rx="2.3" ry="1.8" fill="#9aa2cc" opacity="0.6" transform="rotate(90 113.3 171.7)"/>
<ellipse cx="115.8" cy="171.4" rx="1.6" ry="1.4" fill="#a8b0d8" opacity="0.6" transform="rotate(32 115.8 171.4)"/>
<ellipse cx="124.5" cy="169.8" rx="2.0" ry="1.7" fill="#9aa2cc" opacity="0.6" transform="rotate(175 124.5 169.8)"/>
<ellipse cx="130.1" cy="171.6" rx="1.6" ry="1.4" fill="#a8b0d8" opacity="0.6" transform="rotate(76 130.1 171.6)"/>
<ellipse cx="92.3" cy="174.0" rx="1.6" ry="1.1" fill="#9aa2cc" opacity="0.6" transform="rotate(84 92.3 174.0)"/>
<ellipse cx="97.3" cy="176.2" rx="1.9" ry="1.4" fill="#a8b0d8" opacity="0.6" transform="rotate(13 97.3 176.2)"/>
<ellipse cx="99.7" cy="175.2" rx="1.9" ry="1.5" fill="#a8b0d8" opacity="0.6" transform="rotate(38 99.7 175.2)"/>
<ellipse cx="104.0" cy="175.7" rx="2.1" ry="1.6" fill="#9aa2cc" opacity="0.6" transform="rotate(81 104.0 175.7)"/>
<ellipse cx="119.4" cy="175.0" rx="1.7" ry="1.5" fill="#a8b0d8" opacity="0.6" transform="rotate(93 119.4 175.0)"/>
<ellipse cx="123.4" cy="174.3" rx="1.9" ry="1.6" fill="#b0a4b4" opacity="0.6" transform="rotate(17 123.4 174.3)"/>
<ellipse cx="84.2" cy="179.4" rx="1.8" ry="1.3" fill="#a8b0d8" opacity="0.6" transform="rotate(3 84.2 179.4)"/>
<ellipse cx="89.0" cy="179.9" rx="2.3" ry="2.0" fill="#9aa2cc" opacity="0.6" transform="rotate(136 89.0 179.9)"/>
<ellipse cx="92.4" cy="178.7" rx="1.6" ry="1.3" fill="#a8b0d8" opacity="0.6" transform="rotate(56 92.4 178.7)"/>
<ellipse cx="110.1" cy="178.9" rx="2.2" ry="1.6" fill="#b0a4b4" opacity="0.6" transform="rotate(119 110.1 178.9)"/>
<ellipse cx="115.4" cy="179.5" rx="1.8" ry="1.5" fill="#b0a4b4" opacity="0.6" transform="rotate(24 115.4 179.5)"/>
<ellipse cx="124.0" cy="178.3" rx="2.1" ry="1.7" fill="#b0a4b4" opacity="0.6" transform="rotate(177 124.0 178.3)"/>
<ellipse cx="88.4" cy="182.0" rx="1.6" ry="1.5" fill="#9aa2cc" opacity="0.6" transform="rotate(101 88.4 182.0)"/>
<ellipse cx="96.0" cy="182.2" rx="1.8" ry="1.5" fill="#9aa2cc" opacity="0.6" transform="rotate(136 96.0 182.2)"/>
<ellipse cx="99.7" cy="181.5" rx="1.9" ry="1.4" fill="#a8b0d8" opacity="0.6" transform="rotate(57 99.7 181.5)"/>
<ellipse cx="105.5" cy="182.7" rx="1.6" ry="1.2" fill="#b0a4b4" opacity="0.6" transform="rotate(63 105.5 182.7)"/>
<ellipse cx="113.4" cy="182.0" rx="2.1" ry="1.5" fill="#b0a4b4" opacity="0.6" transform="rotate(10 113.4 182.0)"/>
<ellipse cx="120.2" cy="181.4" rx="2.1" ry="2.0" fill="#9aa2cc" opacity="0.6" transform="rotate(41 120.2 181.4)"/>
<ellipse cx="124.5" cy="181.2" rx="1.6" ry="1.4" fill="#a8b0d8" opacity="0.6" transform="rotate(179 124.5 181.2)"/>
<ellipse cx="88.7" cy="186.8" rx="1.9" ry="1.5" fill="#a8b0d8" opacity="0.6" transform="rotate(21 88.7 186.8)"/>
<ellipse cx="94.1" cy="187.1" rx="2.1" ry="1.6" fill="#9aa2cc" opacity="0.6" transform="rotate(111 94.1 187.1)"/>
<ellipse cx="114.0" cy="185.2" rx="1.7" ry="1.3" fill="#a8b0d8" opacity="0.6" transform="rotate(63 114.0 185.2)"/>
<ellipse cx="116.1" cy="185.5" rx="1.9" ry="1.5" fill="#b0a4b4" opacity="0.6" transform="rotate(38 116.1 185.5)"/>
<ellipse cx="120.5" cy="187.2" rx="1.8" ry="1.5" fill="#9aa2cc" opacity="0.6" transform="rotate(146 120.5 187.2)"/>
<ellipse cx="125.7" cy="184.9" rx="2.1" ry="1.5" fill="#9aa2cc" opacity="0.6" transform="rotate(89 125.7 184.9)"/>
<ellipse cx="87.1" cy="190.2" rx="1.6" ry="1.3" fill="#9aa2cc" opacity="0.6" transform="rotate(145 87.1 190.2)"/>
<ellipse cx="91.0" cy="188.3" rx="1.9" ry="1.7" fill="#9aa2cc" opacity="0.6" transform="rotate(147 91.0 188.3)"/>
<ellipse cx="100.3" cy="188.3" rx="1.6" ry="1.3" fill="#a8b0d8" opacity="0.6" transform="rotate(26 100.3 188.3)"/>
<ellipse cx="104.2" cy="190.9" rx="1.9" ry="1.5" fill="#a8b0d8" opacity="0.6" transform="rotate(150 104.2 190.9)"/>
<ellipse cx="108.2" cy="188.6" rx="2.1" ry="1.7" fill="#a8b0d8" opacity="0.6" transform="rotate(73 108.2 188.6)"/>
<ellipse cx="113.8" cy="189.8" rx="2.3" ry="1.9" fill="#a8b0d8" opacity="0.6" transform="rotate(141 113.8 189.8)"/>
<ellipse cx="117.3" cy="190.2" rx="1.9" ry="1.5" fill="#9aa2cc" opacity="0.6" transform="rotate(24 117.3 190.2)"/>
<ellipse cx="123.0" cy="188.6" rx="1.7" ry="1.4" fill="#9aa2cc" opacity="0.6" transform="rotate(95 123.0 188.6)"/>
<ellipse cx="127.2" cy="190.4" rx="2.1" ry="1.6" fill="#a8b0d8" opacity="0.6" transform="rotate(80 127.2 190.4)"/>
<ellipse cx="84.3" cy="192.0" rx="1.8" ry="1.3" fill="#a8b0d8" opacity="0.6" transform="rotate(107 84.3 192.0)"/>
<ellipse cx="90.0" cy="193.1" rx="2.0" ry="1.8" fill="#a8b0d8" opacity="0.6" transform="rotate(115 90.0 193.1)"/>
<ellipse cx="93.1" cy="192.8" rx="2.3" ry="1.9" fill="#9aa2cc" opacity="0.6" transform="rotate(67 93.1 192.8)"/>
<ellipse cx="99.5" cy="192.8" rx="1.9" ry="1.3" fill="#a8b0d8" opacity="0.6" transform="rotate(45 99.5 192.8)"/>
<ellipse cx="103.8" cy="192.9" rx="2.2" ry="1.6" fill="#9aa2cc" opacity="0.6" transform="rotate(64 103.8 192.9)"/>
<ellipse cx="108.4" cy="192.5" rx="1.6" ry="1.1" fill="#a8b0d8" opacity="0.6" transform="rotate(162 108.4 192.5)"/>
<ellipse cx="113.3" cy="192.2" rx="2.2" ry="1.9" fill="#9aa2cc" opacity="0.6" transform="rotate(28 113.3 192.2)"/>
<ellipse cx="118.3" cy="192.1" rx="2.2" ry="2.0" fill="#a8b0d8" opacity="0.6" transform="rotate(157 118.3 192.1)"/>
</g></g>
<clipPath id="c10"><rect x="129.8" y="156.8" width="40" height="37.2"/></clipPath>
<g clip-path="url(#c10)">
<rect x="129.80" y="156.80" width="40.00" height="37.20" fill="#eae4dc"/>
<g filter="url(#blur)">
<circle cx="134.6" cy="154.9" r="2.5" fill="#a8783c" opacity="0.35"/>
<circle cx="134.6" cy="154.9" r="2.5" fill="none" stroke="#a8783c" stroke-width="0.85" opacity="0.45"/>
<circle cx="137.7" cy="155.6" r="2.3" fill="none" stroke="#8e5c2a" stroke-width="0.85" opacity="0.45"/>
<circle cx="148.7" cy="155.9" r="2.4" fill="#6a4020" opacity="0.35"/>
<circle cx="148.7" cy="155.9" r="2.4" fill="none" stroke="#6a4020" stroke-width="0.85" opacity="0.45"/>
<circle cx="158.1" cy="155.5" r="2.1" fill="#a8783c" opacity="0.35"/>
<circle cx="158.1" cy="155.5" r="2.1" fill="none" stroke="#a8783c" stroke-width="0.85" opacity="0.45"/>
<circle cx="171.7" cy="155.4" r="2.2" fill="#8e5c2a" opacity="0.35"/>
<circle cx="171.7" cy="155.4" r="2.2" fill="none" stroke="#8e5c2a" stroke-width="0.85" opacity="0.45"/>
<circle cx="152.8" cy="158.2" r="2.2" fill="none" stroke="#6a4020" stroke-width="0.85" opacity="0.45"/>
<circle cx="161.7" cy="158.1" r="2.4" fill="none" stroke="#a8783c" stroke-width="0.85" opacity="0.45"/>
<circle cx="167.5" cy="160.2" r="2.4" fill="#a8783c" opacity="0.35"/>
<circle cx="167.5" cy="160.2" r="2.4" fill="none" stroke="#a8783c" stroke-width="0.85" opacity="0.45"/>
<circle cx="129.8" cy="165.2" r="2.4" fill="none" stroke="#6a4020" stroke-width="0.85" opacity="0.45"/>
<circle cx="134.0" cy="162.9" r="2.1" fill="none" stroke="#8e5c2a" stroke-width="0.85" opacity="0.45"/>
<circle cx="142.0" cy="163.1" r="2.3" fill="#8e5c2a" opacity="0.35"/>
<circle cx="142.0" cy="163.1" r="2.3" fill="none" stroke="#8e5c2a" stroke-width="0.85" opacity="0.45"/>
<circle cx="155.6" cy="165.2" r="2.0" fill="none" stroke="#a8783c" stroke-width="0.85" opacity="0.45"/>
<circle cx="162.2" cy="163.8" r="2.2" fill="#8e5c2a" opacity="0.35"/>
<circle cx="162.2" cy="163.8" r="2.2" fill="none" stroke="#8e5c2a" stroke-width="0.85" opacity="0.45"/>
<circle cx="166.3" cy="163.7" r="2.5" fill="#8e5c2a" opacity="0.35"/>
<circle cx="166.3" cy="163.7" r="2.5" fill="none" stroke="#8e5c2a" stroke-width="0.85" opacity="0.45"/>
<circle cx="171.6" cy="163.4" r="1.9" fill="#a8783c" opacity="0.35"/>
<circle cx="171.6" cy="163.4" r="1.9" fill="none" stroke="#a8783c" stroke-width="0.85" opacity="0.45"/>
<circle cx="135.6" cy="168.4" r="2.3" fill="#8e5c2a" opacity="0.35"/>
<circle cx="135.6" cy="168.4" r="2.3" fill="none" stroke="#8e5c2a" stroke-width="0.85" opacity="0.45"/>
<circle cx="138.5" cy="166.2" r="2.2" fill="#a8783c" opacity="0.35"/>
<circle cx="138.5" cy="166.2" r="2.2" fill="none" stroke="#a8783c" stroke-width="0.85" opacity="0.45"/>
<circle cx="144.1" cy="168.5" r="2.1" fill="#8e5c2a" opacity="0.35"/>
<circle cx="144.1" cy="168.5" r="2.1" fill="none" stroke="#8e5c2a" stroke-width="0.85" opacity="0.45"/>
<circle cx="148.5" cy="167.1" r="2.2" fill="#a8783c" opacity="0.35"/>
<circle cx="148.5" cy="167.1" r="2.2" fill="none" stroke="#a8783c" stroke-width="0.85" opacity="0.45"/>
<circle cx="151.7" cy="168.5" r="2.0" fill="#a8783c" opacity="0.35"/>
<circle cx="151.7" cy="168.5" r="2.0" fill="none" stroke="#a8783c" stroke-width="0.85" opacity="0.45"/>
<circle cx="162.4" cy="166.4" r="2.3" fill="#6a4020" opacity="0.35"/>
<circle cx="162.4" cy="166.4" r="2.3" fill="none" stroke="#6a4020" stroke-width="0.85" opacity="0.45"/>
<circle cx="165.8" cy="167.2" r="2.2" fill="none" stroke="#8e5c2a" stroke-width="0.85" opacity="0.45"/>
<circle cx="172.4" cy="167.9" r="2.3" fill="#8e5c2a" opacity="0.35"/>
<circle cx="172.4" cy="167.9" r="2.3" fill="none" stroke="#8e5c2a" stroke-width="0.85" opacity="0.45"/>
<circle cx="139.7" cy="172.5" r="2.3" fill="#8e5c2a" opacity="0.35"/>
<circle cx="139.7" cy="172.5" r="2.3" fill="none" stroke="#8e5c2a" stroke-width="0.85" opacity="0.45"/>
<circle cx="147.2" cy="170.1" r="2.3" fill="#8e5c2a" opacity="0.35"/>
<circle cx="147.2" cy="170.1" r="2.3" fill="none" stroke="#8e5c2a" stroke-width="0.85" opacity="0.45"/>
<circle cx="152.9" cy="170.4" r="2.3" fill="#8e5c2a" opacity="0.35"/>
<circle cx="152.9" cy="170.4" r="2.3" fill="none" stroke="#8e5c2a" stroke-width="0.85" opacity="0.45"/>
<circle cx="165.7" cy="170.1" r="2.4" fill="none" stroke="#a8783c" stroke-width="0.85" opacity="0.45"/>
<circle cx="170.3" cy="170.8" r="2.5" fill="#8e5c2a" opacity="0.35"/>
<circle cx="170.3" cy="170.8" r="2.5" fill="none" stroke="#8e5c2a" stroke-width="0.85" opacity="0.45"/>
<circle cx="132.4" cy="174.5" r="2.4" fill="none" stroke="#a8783c" stroke-width="0.85" opacity="0.45"/>
<circle cx="135.2" cy="174.8" r="1.9" fill="#8e5c2a" opacity="0.35"/>
<circle cx="135.2" cy="174.8" r="1.9" fill="none" stroke="#8e5c2a" stroke-width="0.85" opacity="0.45"/>
<circle cx="140.5" cy="176.3" r="2.1" fill="#8e5c2a" opacity="0.35"/>
<circle cx="140.5" cy="176.3" r="2.1" fill="none" stroke="#8e5c2a" stroke-width="0.85" opacity="0.45"/>
<circle cx="154.0" cy="175.1" r="2.0" fill="none" stroke="#8e5c2a" stroke-width="0.85" opacity="0.45"/>
<circle cx="159.3" cy="175.2" r="2.5" fill="#8e5c2a" opacity="0.35"/>
<circle cx="159.3" cy="175.2" r="2.5" fill="none" stroke="#8e5c2a" stroke-width="0.85" opacity="0.45"/>
<circle cx="164.7" cy="175.6" r="2.3" fill="#6a4020" opacity="0.35"/>
<circle cx="164.7" cy="175.6" r="2.3" fill="none" stroke="#6a4020" stroke-width="0.85" opacity="0.45"/>
<circle cx="167.0" cy="177.0" r="2.1" fill="#8e5c2a" opacity="0.35"/>
<circle cx="167.0" cy="177.0" r="2.1" fill="none" stroke="#8e5c2a" stroke-width="0.85" opacity="0.45"/>
<circle cx="127.6" cy="180.5" r="2.1" fill="none" stroke="#8e5c2a" stroke-width="0.85" opacity="0.45"/>
<circle cx="131.4" cy="179.1" r="2.3" fill="none" stroke="#6a4020" stroke-width="0.85" opacity="0.45"/>
<circle cx="142.6" cy="178.8" r="2.0" fill="#8e5c2a" opacity="0.35"/>
<circle cx="142.6" cy="178.8" r="2.0" fill="none" stroke="#8e5c2a" stroke-width="0.85" opacity="0.45"/>
<circle cx="146.5" cy="178.7" r="2.3" fill="#a8783c" opacity="0.35"/>
<circle cx="146.5" cy="178.7" r="2.3" fill="none" stroke="#a8783c" stroke-width="0.85" opacity="0.45"/>
<circle cx="155.9" cy="180.2" r="2.5" fill="none" stroke="#8e5c2a" stroke-width="0.85" opacity="0.45"/>
<circle cx="159.3" cy="178.6" r="2.5" fill="#8e5c2a" opacity="0.35"/>
<circle cx="159.3" cy="178.6" r="2.5" fill="none" stroke="#8e5c2a" stroke-width="0.85" opacity="0.45"/>
<circle cx="134.8" cy="183.9" r="2.5" fill="none" stroke="#8e5c2a" stroke-width="0.85" opacity="0.45"/>
<circle cx="153.6" cy="183.1" r="2.2" fill="#6a4020" opacity="0.35"/>
<circle cx="153.6" cy="183.1" r="2.2" fill="none" stroke="#6a4020" stroke-width="0.85" opacity="0.45"/>
<circle cx="127.5" cy="189.1" r="2.0" fill="#8e5c2a" opacity="0.35"/>
<circle cx="127.5" cy="189.1" r="2.0" fill="none" stroke="#8e5c2a" stroke-width="0.85" opacity="0.45"/>
<circle cx="138.2" cy="188.9" r="2.4" fill="none" stroke="#a8783c" stroke-width="0.85" opacity="0.45"/>
<circle cx="141.9" cy="187.6" r="2.1" fill="#6a4020" opacity="0.35"/>
<circle cx="141.9" cy="187.6" r="2.1" fill="none" stroke="#6a4020" stroke-width="0.85" opacity="0.45"/>
<circle cx="149.2" cy="186.7" r="2.3" fill="none" stroke="#8e5c2a" stroke-width="0.85" opacity="0.45"/>
<circle cx="156.1" cy="188.3" r="2.5" fill="#a8783c" opacity="0.35"/>
<circle cx="156.1" cy="188.3" r="2.5" fill="none" stroke="#a8783c" stroke-width="0.85" opacity="0.45"/>
<circle cx="161.3" cy="189.0" r="2.0" fill="none" stroke="#a8783c" stroke-width="0.85" opacity="0.45"/>
<circle cx="168.3" cy="188.7" r="2.0" fill="#8e5c2a" opacity="0.35"/>
<circle cx="168.3" cy="188.7" r="2.0" fill="none" stroke="#8e5c2a" stroke-width="0.85" opacity="0.45"/>
<circle cx="131.1" cy="192.6" r="2.2" fill="#8e5c2a" opacity="0.35"/>
<circle cx="131.1" cy="192.6" r="2.2" fill="none" stroke="#8e5c2a" stroke-width="0.85" opacity="0.45"/>
<circle cx="134.9" cy="193.1" r="2.1" fill="none" stroke="#8e5c2a" stroke-width="0.85" opacity="0.45"/>
<circle cx="140.3" cy="193.1" r="2.5" fill="#a8783c" opacity="0.35"/>
<circle cx="140.3" cy="193.1" r="2.5" fill="none" stroke="#a8783c" stroke-width="0.85" opacity="0.45"/>
<circle cx="144.1" cy="191.8" r="2.4" fill="none" stroke="#a8783c" stroke-width="0.85" opacity="0.45"/>
<circle cx="148.1" cy="192.0" r="2.4" fill="#a8783c" opacity="0.35"/>
<circle cx="148.1" cy="192.0" r="2.4" fill="none" stroke="#a8783c" stroke-width="0.85" opacity="0.45"/>
<circle cx="152.3" cy="193.0" r="2.0" fill="#8e5c2a" opacity="0.35"/>
<circle cx="152.3" cy="193.0" r="2.0" fill="none" stroke="#8e5c2a" stroke-width="0.85" opacity="0.45"/>
<circle cx="157.4" cy="192.0" r="2.5" fill="none" stroke="#6a4020" stroke-width="0.85" opacity="0.45"/>
<circle cx="163.3" cy="192.3" r="2.0" fill="#8e5c2a" opacity="0.35"/>
<circle cx="163.3" cy="192.3" r="2.0" fill="none" stroke="#8e5c2a" stroke-width="0.85" opacity="0.45"/>
<circle cx="127.4" cy="195.8" r="2.4" fill="#8e5c2a" opacity="0.35"/>
<circle cx="127.4" cy="195.8" r="2.4" fill="none" stroke="#8e5c2a" stroke-width="0.85" opacity="0.45"/>
<circle cx="133.4" cy="195.3" r="2.1" fill="#8e5c2a" opacity="0.35"/>
<circle cx="133.4" cy="195.3" r="2.1" fill="none" stroke="#8e5c2a" stroke-width="0.85" opacity="0.45"/>
<circle cx="138.4" cy="195.0" r="2.4" fill="none" stroke="#6a4020" stroke-width="0.85" opacity="0.45"/>
<circle cx="147.8" cy="196.2" r="2.1" fill="#a8783c" opacity="0.35"/>
<circle cx="147.8" cy="196.2" r="2.1" fill="none" stroke="#a8783c" stroke-width="0.85" opacity="0.45"/>
<circle cx="151.9" cy="194.5" r="1.9" fill="#a8783c" opacity="0.35"/>
<circle cx="151.9" cy="194.5" r="1.9" fill="none" stroke="#a8783c" stroke-width="0.85" opacity="0.45"/>
<circle cx="155.6" cy="196.3" r="2.5" fill="#8e5c2a" opacity="0.35"/>
<circle cx="155.6" cy="196.3" r="2.5" fill="none" stroke="#8e5c2a" stroke-width="0.85" opacity="0.45"/>
<circle cx="159.4" cy="194.8" r="2.1" fill="#8e5c2a" opacity="0.35"/>
<circle cx="159.4" cy="194.8" r="2.1" fill="none" stroke="#8e5c2a" stroke-width="0.85" opacity="0.45"/>
<circle cx="169.3" cy="197.1" r="1.9" fill="none" stroke="#a8783c" stroke-width="0.85" opacity="0.45"/>
<ellipse cx="127.7" cy="155.6" rx="1.5" ry="1.1" fill="#8090c0" opacity="0.68" transform="rotate(127 127.7 155.6)"/>
<ellipse cx="134.6" cy="154.9" rx="2.0" ry="1.6" fill="#8090c0" opacity="0.68" transform="rotate(125 134.6 154.9)"/>
<ellipse cx="137.7" cy="155.6" rx="1.8" ry="1.4" fill="#8090c0" opacity="0.68" transform="rotate(147 137.7 155.6)"/>
<ellipse cx="143.4" cy="155.8" rx="1.7" ry="1.6" fill="#6a7ab0" opacity="0.68" transform="rotate(86 143.4 155.8)"/>
<ellipse cx="148.7" cy="155.9" rx="2.1" ry="1.9" fill="#6a7ab0" opacity="0.68" transform="rotate(137 148.7 155.9)"/>
<ellipse cx="158.1" cy="155.5" rx="1.5" ry="1.0" fill="#8090c0" opacity="0.68" transform="rotate(45 158.1 155.5)"/>
<ellipse cx="163.6" cy="154.6" rx="2.1" ry="1.4" fill="#6a7ab0" opacity="0.68" transform="rotate(26 163.6 154.6)"/>
<ellipse cx="166.9" cy="156.2" rx="2.0" ry="1.7" fill="#8090c0" opacity="0.68" transform="rotate(142 166.9 156.2)"/>
<ellipse cx="130.6" cy="160.5" rx="1.6" ry="1.3" fill="#6a7ab0" opacity="0.68" transform="rotate(23 130.6 160.5)"/>
<ellipse cx="134.4" cy="159.9" rx="1.6" ry="1.2" fill="#6a7ab0" opacity="0.68" transform="rotate(64 134.4 159.9)"/>
<ellipse cx="140.2" cy="158.9" rx="2.1" ry="1.5" fill="#6a7ab0" opacity="0.68" transform="rotate(161 140.2 158.9)"/>
<ellipse cx="145.6" cy="160.4" rx="1.7" ry="1.2" fill="#8090c0" opacity="0.68" transform="rotate(122 145.6 160.4)"/>
<ellipse cx="152.8" cy="158.2" rx="1.5" ry="1.2" fill="#6a7ab0" opacity="0.68" transform="rotate(47 152.8 158.2)"/>
<ellipse cx="157.8" cy="160.4" rx="2.0" ry="1.8" fill="#6a7ab0" opacity="0.68" transform="rotate(84 157.8 160.4)"/>
<ellipse cx="167.5" cy="160.2" rx="1.8" ry="1.5" fill="#5a6aa0" opacity="0.68" transform="rotate(139 167.5 160.2)"/>
<ellipse cx="170.0" cy="159.5" rx="2.0" ry="1.7" fill="#8090c0" opacity="0.68" transform="rotate(170 170.0 159.5)"/>
<ellipse cx="129.8" cy="165.2" rx="1.8" ry="1.6" fill="#6a7ab0" opacity="0.68" transform="rotate(11 129.8 165.2)"/>
<ellipse cx="134.0" cy="162.9" rx="1.9" ry="1.3" fill="#8090c0" opacity="0.68" transform="rotate(175 134.0 162.9)"/>
<ellipse cx="137.2" cy="164.4" rx="2.1" ry="1.9" fill="#6a7ab0" opacity="0.68" transform="rotate(30 137.2 164.4)"/>
<ellipse cx="142.0" cy="163.1" rx="2.1" ry="1.4" fill="#8090c0" opacity="0.68" transform="rotate(140 142.0 163.1)"/>
<ellipse cx="147.2" cy="164.2" rx="1.9" ry="1.4" fill="#6a7ab0" opacity="0.68" transform="rotate(169 147.2 164.2)"/>
<ellipse cx="150.3" cy="162.6" rx="1.7" ry="1.6" fill="#6a7ab0" opacity="0.68" transform="rotate(93 150.3 162.6)"/>
<ellipse cx="155.6" cy="165.2" rx="1.9" ry="1.4" fill="#5a6aa0" opacity="0.68" transform="rotate(44 155.6 165.2)"/>
<ellipse cx="166.3" cy="163.7" rx="1.7" ry="1.2" fill="#8090c0" opacity="0.68" transform="rotate(51 166.3 163.7)"/>
<ellipse cx="171.6" cy="163.4" rx="2.0" ry="1.8" fill="#6a7ab0" opacity="0.68" transform="rotate(92 171.6 163.4)"/>
<ellipse cx="135.6" cy="168.4" rx="1.5" ry="1.2" fill="#6a7ab0" opacity="0.68" transform="rotate(59 135.6 168.4)"/>
<ellipse cx="138.5" cy="166.2" rx="2.0" ry="1.7" fill="#5a6aa0" opacity="0.68" transform="rotate(105 138.5 166.2)"/>
<ellipse cx="144.1" cy="168.5" rx="1.4" ry="1.1" fill="#6a7ab0" opacity="0.68" transform="rotate(165 144.1 168.5)"/>
<ellipse cx="148.5" cy="167.1" rx="1.5" ry="1.1" fill="#5a6aa0" opacity="0.68" transform="rotate(59 148.5 167.1)"/>
<ellipse cx="151.7" cy="168.5" rx="1.8" ry="1.6" fill="#6a7ab0" opacity="0.68" transform="rotate(24 151.7 168.5)"/>
<ellipse cx="158.2" cy="166.2" rx="1.4" ry="1.1" fill="#6a7ab0" opacity="0.68" transform="rotate(163 158.2 166.2)"/>
<ellipse cx="162.4" cy="166.4" rx="2.0" ry="1.8" fill="#8090c0" opacity="0.68" transform="rotate(175 162.4 166.4)"/>
<ellipse cx="165.8" cy="167.2" rx="2.1" ry="1.5" fill="#6a7ab0" opacity="0.68" transform="rotate(129 165.8 167.2)"/>
<ellipse cx="172.4" cy="167.9" rx="2.1" ry="1.4" fill="#6a7ab0" opacity="0.68" transform="rotate(114 172.4 167.9)"/>
<ellipse cx="129.8" cy="172.0" rx="1.8" ry="1.4" fill="#8090c0" opacity="0.68" transform="rotate(102 129.8 172.0)"/>
<ellipse cx="133.3" cy="172.5" rx="2.0" ry="1.9" fill="#6a7ab0" opacity="0.68" transform="rotate(46 133.3 172.5)"/>
<ellipse cx="139.7" cy="172.5" rx="1.5" ry="1.4" fill="#8090c0" opacity="0.68" transform="rotate(101 139.7 172.5)"/>
<ellipse cx="147.2" cy="170.1" rx="1.4" ry="1.1" fill="#6a7ab0" opacity="0.68" transform="rotate(179 147.2 170.1)"/>
<ellipse cx="152.9" cy="170.4" rx="2.0" ry="1.5" fill="#6a7ab0" opacity="0.68" transform="rotate(119 152.9 170.4)"/>
<ellipse cx="156.6" cy="172.2" rx="1.5" ry="1.3" fill="#5a6aa0" opacity="0.68" transform="rotate(56 156.6 172.2)"/>
<ellipse cx="165.7" cy="170.1" rx="2.1" ry="1.7" fill="#5a6aa0" opacity="0.68" transform="rotate(116 165.7 170.1)"/>
<ellipse cx="170.3" cy="170.8" rx="1.8" ry="1.7" fill="#6a7ab0" opacity="0.68" transform="rotate(58 170.3 170.8)"/>
<ellipse cx="132.4" cy="174.5" rx="1.5" ry="1.1" fill="#5a6aa0" opacity="0.68" transform="rotate(93 132.4 174.5)"/>
<ellipse cx="135.2" cy="174.8" rx="1.7" ry="1.6" fill="#8090c0" opacity="0.68" transform="rotate(160 135.2 174.8)"/>
<ellipse cx="140.5" cy="176.3" rx="1.8" ry="1.3" fill="#5a6aa0" opacity="0.68" transform="rotate(108 140.5 176.3)"/>
<ellipse cx="151.4" cy="176.8" rx="1.4" ry="1.0" fill="#5a6aa0" opacity="0.68" transform="rotate(36 151.4 176.8)"/>
<ellipse cx="154.0" cy="175.1" rx="1.6" ry="1.2" fill="#8090c0" opacity="0.68" transform="rotate(121 154.0 175.1)"/>
<ellipse cx="159.3" cy="175.2" rx="2.1" ry="1.7" fill="#5a6aa0" opacity="0.68" transform="rotate(32 159.3 175.2)"/>
<ellipse cx="164.7" cy="175.6" rx="1.7" ry="1.6" fill="#6a7ab0" opacity="0.68" transform="rotate(36 164.7 175.6)"/>
<ellipse cx="167.0" cy="177.0" rx="1.9" ry="1.3" fill="#6a7ab0" opacity="0.68" transform="rotate(174 167.0 177.0)"/>
<ellipse cx="131.4" cy="179.1" rx="1.8" ry="1.6" fill="#8090c0" opacity="0.68" transform="rotate(42 131.4 179.1)"/>
<ellipse cx="137.6" cy="181.2" rx="2.0" ry="1.5" fill="#8090c0" opacity="0.68" transform="rotate(91 137.6 181.2)"/>
<ellipse cx="142.6" cy="178.8" rx="1.8" ry="1.4" fill="#8090c0" opacity="0.68" transform="rotate(11 142.6 178.8)"/>
<ellipse cx="146.5" cy="178.7" rx="1.9" ry="1.8" fill="#8090c0" opacity="0.68" transform="rotate(108 146.5 178.7)"/>
<ellipse cx="155.9" cy="180.2" rx="1.9" ry="1.5" fill="#6a7ab0" opacity="0.68" transform="rotate(91 155.9 180.2)"/>
<ellipse cx="159.3" cy="178.6" rx="2.1" ry="1.6" fill="#5a6aa0" opacity="0.68" transform="rotate(162 159.3 178.6)"/>
<ellipse cx="168.4" cy="178.8" rx="1.5" ry="1.3" fill="#5a6aa0" opacity="0.68" transform="rotate(173 168.4 178.8)"/>
<ellipse cx="134.8" cy="183.9" rx="1.9" ry="1.7" fill="#5a6aa0" opacity="0.68" transform="rotate(21 134.8 183.9)"/>
<ellipse cx="150.8" cy="183.4" rx="1.9" ry="1.5" fill="#8090c0" opacity="0.68" transform="rotate(8 150.8 183.4)"/>
<ellipse cx="153.6" cy="183.1" rx="1.6" ry="1.4" fill="#8090c0" opacity="0.68" transform="rotate(103 153.6 183.1)"/>
<ellipse cx="135.2" cy="188.0" rx="1.9" ry="1.7" fill="#6a7ab0" opacity="0.68" transform="rotate(99 135.2 188.0)"/>
<ellipse cx="138.2" cy="188.9" rx="1.9" ry="1.3" fill="#8090c0" opacity="0.68" transform="rotate(169 138.2 188.9)"/>
<ellipse cx="141.9" cy="187.6" rx="1.7" ry="1.5" fill="#6a7ab0" opacity="0.68" transform="rotate(12 141.9 187.6)"/>
<ellipse cx="149.2" cy="186.7" rx="1.6" ry="1.4" fill="#5a6aa0" opacity="0.68" transform="rotate(90 149.2 186.7)"/>
<ellipse cx="156.1" cy="188.3" rx="1.5" ry="1.4" fill="#8090c0" opacity="0.68" transform="rotate(21 156.1 188.3)"/>
<ellipse cx="161.3" cy="189.0" rx="2.0" ry="1.7" fill="#8090c0" opacity="0.68" transform="rotate(88 161.3 189.0)"/>
<ellipse cx="168.3" cy="188.7" rx="1.8" ry="1.3" fill="#5a6aa0" opacity="0.68" transform="rotate(114 168.3 188.7)"/>
<ellipse cx="131.1" cy="192.6" rx="1.8" ry="1.3" fill="#5a6aa0" opacity="0.68" transform="rotate(61 131.1 192.6)"/>
<ellipse cx="134.9" cy="193.1" rx="1.7" ry="1.5" fill="#6a7ab0" opacity="0.68" transform="rotate(163 134.9 193.1)"/>
<ellipse cx="140.3" cy="193.1" rx="2.0" ry="1.7" fill="#6a7ab0" opacity="0.68" transform="rotate(65 140.3 193.1)"/>
<ellipse cx="144.1" cy="191.8" rx="1.7" ry="1.2" fill="#8090c0" opacity="0.68" transform="rotate(44 144.1 191.8)"/>
<ellipse cx="148.1" cy="192.0" rx="1.8" ry="1.5" fill="#8090c0" opacity="0.68" transform="rotate(122 148.1 192.0)"/>
<ellipse cx="152.3" cy="193.0" rx="1.7" ry="1.3" fill="#8090c0" opacity="0.68" transform="rotate(174 152.3 193.0)"/>
<ellipse cx="157.4" cy="192.0" rx="2.0" ry="1.4" fill="#6a7ab0" opacity="0.68" transform="rotate(104 157.4 192.0)"/>
<ellipse cx="163.3" cy="192.3" rx="1.8" ry="1.6" fill="#6a7ab0" opacity="0.68" transform="rotate(19 163.3 192.3)"/>
<ellipse cx="167.0" cy="190.7" rx="1.6" ry="1.2" fill="#6a7ab0" opacity="0.68" transform="rotate(45 167.0 190.7)"/>
<ellipse cx="127.4" cy="195.8" rx="1.6" ry="1.4" fill="#6a7ab0" opacity="0.68" transform="rotate(146 127.4 195.8)"/>
<ellipse cx="133.4" cy="195.3" rx="1.6" ry="1.1" fill="#6a7ab0" opacity="0.68" transform="rotate(53 133.4 195.3)"/>
<ellipse cx="138.4" cy="195.0" rx="2.1" ry="1.5" fill="#6a7ab0" opacity="0.68" transform="rotate(165 138.4 195.0)"/>
<ellipse cx="141.8" cy="197.0" rx="2.0" ry="1.8" fill="#5a6aa0" opacity="0.68" transform="rotate(177 141.8 197.0)"/>
<ellipse cx="147.8" cy="196.2" rx="2.1" ry="1.8" fill="#6a7ab0" opacity="0.68" transform="rotate(64 147.8 196.2)"/>
<ellipse cx="151.9" cy="194.5" rx="1.7" ry="1.5" fill="#6a7ab0" opacity="0.68" transform="rotate(172 151.9 194.5)"/>
<ellipse cx="155.6" cy="196.3" rx="1.9" ry="1.7" fill="#6a7ab0" opacity="0.68" transform="rotate(143 155.6 196.3)"/>
<ellipse cx="159.4" cy="194.8" rx="2.0" ry="1.4" fill="#6a7ab0" opacity="0.68" transform="rotate(87 159.4 194.8)"/>
<ellipse cx="163.5" cy="196.4" rx="2.0" ry="1.8" fill="#8090c0" opacity="0.68" transform="rotate(134 163.5 196.4)"/>
<ellipse cx="169.3" cy="197.1" rx="1.6" ry="1.3" fill="#5a6aa0" opacity="0.68" transform="rotate(116 169.3 197.1)"/>
</g></g>
<clipPath id="c11"><rect x="172" y="156.8" width="41" height="37.2"/></clipPath>
<g clip-path="url(#c11)">
<rect x="172.00" y="156.80" width="41.00" height="37.20" fill="#e8ebf2"/>
<g filter="url(#blur)">
<circle cx="200.4" cy="156.1" r="2.7" fill="none" stroke="#c8b8a8" stroke-width="0.51" opacity="0.45"/>
<circle cx="203.9" cy="171.8" r="2.6" fill="none" stroke="#c8b8a8" stroke-width="0.51" opacity="0.45"/>
<circle cx="186.7" cy="188.0" r="2.9" fill="none" stroke="#c8b8a8" stroke-width="0.51" opacity="0.45"/>
<ellipse cx="171.8" cy="154.9" rx="2.3" ry="1.8" fill="#84a0d6" opacity="0.75" transform="rotate(98 171.8 154.9)"/>
<ellipse cx="175.5" cy="157.1" rx="2.5" ry="2.0" fill="#5e74ac" opacity="0.75" transform="rotate(153 175.5 157.1)"/>
<ellipse cx="180.8" cy="155.7" rx="2.1" ry="1.7" fill="#9cb2de" opacity="0.75" transform="rotate(19 180.8 155.7)"/>
<ellipse cx="186.1" cy="155.3" rx="2.0" ry="1.8" fill="#84a0d6" opacity="0.75" transform="rotate(90 186.1 155.3)"/>
<ellipse cx="191.7" cy="154.8" rx="1.8" ry="1.6" fill="#9cb2de" opacity="0.75" transform="rotate(153 191.7 154.8)"/>
<ellipse cx="195.1" cy="156.7" rx="1.9" ry="1.4" fill="#84a0d6" opacity="0.75" transform="rotate(161 195.1 156.7)"/>
<ellipse cx="200.4" cy="156.1" rx="2.0" ry="1.4" fill="#5e74ac" opacity="0.75" transform="rotate(125 200.4 156.1)"/>
<ellipse cx="203.9" cy="156.0" rx="2.5" ry="1.8" fill="#84a0d6" opacity="0.75" transform="rotate(131 203.9 156.0)"/>
<ellipse cx="209.6" cy="156.0" rx="2.4" ry="2.0" fill="#9cb2de" opacity="0.75" transform="rotate(48 209.6 156.0)"/>
<ellipse cx="212.5" cy="155.0" rx="2.3" ry="1.9" fill="#9cb2de" opacity="0.75" transform="rotate(3 212.5 155.0)"/>
<ellipse cx="171.9" cy="160.5" rx="2.0" ry="1.9" fill="#9cb2de" opacity="0.75" transform="rotate(120 171.9 160.5)"/>
<ellipse cx="176.6" cy="159.3" rx="2.4" ry="1.8" fill="#84a0d6" opacity="0.75" transform="rotate(52 176.6 159.3)"/>
<ellipse cx="188.7" cy="160.8" rx="2.5" ry="2.3" fill="#84a0d6" opacity="0.75" transform="rotate(159 188.7 160.8)"/>
<ellipse cx="192.9" cy="159.1" rx="2.2" ry="1.6" fill="#84a0d6" opacity="0.75" transform="rotate(61 192.9 159.1)"/>
<ellipse cx="196.7" cy="160.8" rx="1.9" ry="1.7" fill="#84a0d6" opacity="0.75" transform="rotate(100 196.7 160.8)"/>
<ellipse cx="202.2" cy="158.1" rx="2.0" ry="1.8" fill="#5e74ac" opacity="0.75" transform="rotate(90 202.2 158.1)"/>
<ellipse cx="206.7" cy="158.3" rx="1.8" ry="1.5" fill="#9cb2de" opacity="0.75" transform="rotate(126 206.7 158.3)"/>
<ellipse cx="213.6" cy="158.3" rx="2.5" ry="1.8" fill="#84a0d6" opacity="0.75" transform="rotate(101 213.6 158.3)"/>
<ellipse cx="176.1" cy="163.6" rx="2.2" ry="1.7" fill="#9cb2de" opacity="0.75" transform="rotate(168 176.1 163.6)"/>
<ellipse cx="179.5" cy="163.8" rx="2.5" ry="2.2" fill="#84a0d6" opacity="0.75" transform="rotate(93 179.5 163.8)"/>
<ellipse cx="184.6" cy="162.5" rx="1.8" ry="1.2" fill="#84a0d6" opacity="0.75" transform="rotate(96 184.6 162.5)"/>
<ellipse cx="189.7" cy="163.2" rx="2.4" ry="1.7" fill="#9cb2de" opacity="0.75" transform="rotate(138 189.7 163.2)"/>
<ellipse cx="194.5" cy="164.1" rx="2.6" ry="2.1" fill="#9cb2de" opacity="0.75" transform="rotate(49 194.5 164.1)"/>
<ellipse cx="200.4" cy="162.1" rx="2.4" ry="2.2" fill="#84a0d6" opacity="0.75" transform="rotate(19 200.4 162.1)"/>
<ellipse cx="204.3" cy="162.5" rx="1.9" ry="1.4" fill="#84a0d6" opacity="0.75" transform="rotate(83 204.3 162.5)"/>
<ellipse cx="209.5" cy="163.1" rx="2.2" ry="2.1" fill="#9cb2de" opacity="0.75" transform="rotate(36 209.5 163.1)"/>
<ellipse cx="214.1" cy="162.4" rx="2.2" ry="1.7" fill="#5e74ac" opacity="0.75" transform="rotate(170 214.1 162.4)"/>
<ellipse cx="172.9" cy="167.7" rx="1.8" ry="1.8" fill="#84a0d6" opacity="0.75" transform="rotate(82 172.9 167.7)"/>
<ellipse cx="189.9" cy="168.0" rx="2.6" ry="1.9" fill="#9cb2de" opacity="0.75" transform="rotate(90 189.9 168.0)"/>
<ellipse cx="193.2" cy="167.8" rx="2.1" ry="1.8" fill="#9cb2de" opacity="0.75" transform="rotate(159 193.2 167.8)"/>
<ellipse cx="197.5" cy="168.0" rx="1.9" ry="1.6" fill="#9cb2de" opacity="0.75" transform="rotate(169 197.5 168.0)"/>
<ellipse cx="203.1" cy="165.9" rx="2.3" ry="2.0" fill="#9cb2de" opacity="0.75" transform="rotate(37 203.1 165.9)"/>
<ellipse cx="210.4" cy="166.7" rx="1.9" ry="1.7" fill="#84a0d6" opacity="0.75" transform="rotate(105 210.4 166.7)"/>
<ellipse cx="175.7" cy="170.2" rx="2.6" ry="2.4" fill="#9cb2de" opacity="0.75" transform="rotate(166 175.7 170.2)"/>
<ellipse cx="181.5" cy="171.5" rx="2.0" ry="1.8" fill="#84a0d6" opacity="0.75" transform="rotate(177 181.5 171.5)"/>
<ellipse cx="184.0" cy="170.6" rx="2.5" ry="1.9" fill="#9cb2de" opacity="0.75" transform="rotate(93 184.0 170.6)"/>
<ellipse cx="189.3" cy="170.6" rx="2.5" ry="1.9" fill="#9cb2de" opacity="0.75" transform="rotate(21 189.3 170.6)"/>
<ellipse cx="196.3" cy="171.3" rx="2.2" ry="1.7" fill="#84a0d6" opacity="0.75" transform="rotate(138 196.3 171.3)"/>
<ellipse cx="203.9" cy="171.8" rx="2.2" ry="2.0" fill="#5e74ac" opacity="0.75" transform="rotate(53 203.9 171.8)"/>
<ellipse cx="210.8" cy="170.5" rx="2.5" ry="1.8" fill="#84a0d6" opacity="0.75" transform="rotate(80 210.8 170.5)"/>
<ellipse cx="179.7" cy="176.1" rx="2.4" ry="2.0" fill="#84a0d6" opacity="0.75" transform="rotate(39 179.7 176.1)"/>
<ellipse cx="185.3" cy="174.7" rx="2.5" ry="1.8" fill="#9cb2de" opacity="0.75" transform="rotate(162 185.3 174.7)"/>
<ellipse cx="195.4" cy="176.0" rx="1.8" ry="1.3" fill="#84a0d6" opacity="0.75" transform="rotate(14 195.4 176.0)"/>
<ellipse cx="199.0" cy="174.7" rx="2.0" ry="1.8" fill="#84a0d6" opacity="0.75" transform="rotate(99 199.0 174.7)"/>
<ellipse cx="202.6" cy="176.5" rx="2.2" ry="1.6" fill="#9cb2de" opacity="0.75" transform="rotate(47 202.6 176.5)"/>
<ellipse cx="207.7" cy="175.3" rx="2.4" ry="2.2" fill="#9cb2de" opacity="0.75" transform="rotate(17 207.7 175.3)"/>
<ellipse cx="212.2" cy="174.8" rx="1.9" ry="1.4" fill="#84a0d6" opacity="0.75" transform="rotate(37 212.2 174.8)"/>
<ellipse cx="169.7" cy="179.7" rx="1.9" ry="1.6" fill="#9cb2de" opacity="0.75" transform="rotate(42 169.7 179.7)"/>
<ellipse cx="176.3" cy="180.6" rx="2.4" ry="1.8" fill="#84a0d6" opacity="0.75" transform="rotate(59 176.3 180.6)"/>
<ellipse cx="190.0" cy="178.7" rx="2.1" ry="1.9" fill="#9cb2de" opacity="0.75" transform="rotate(104 190.0 178.7)"/>
<ellipse cx="195.1" cy="179.1" rx="1.9" ry="1.7" fill="#9cb2de" opacity="0.75" transform="rotate(3 195.1 179.1)"/>
<ellipse cx="198.0" cy="179.6" rx="2.5" ry="1.9" fill="#9cb2de" opacity="0.75" transform="rotate(152 198.0 179.6)"/>
<ellipse cx="205.6" cy="180.4" rx="2.3" ry="1.7" fill="#84a0d6" opacity="0.75" transform="rotate(25 205.6 180.4)"/>
<ellipse cx="208.5" cy="179.5" rx="1.8" ry="1.4" fill="#9cb2de" opacity="0.75" transform="rotate(64 208.5 179.5)"/>
<ellipse cx="215.9" cy="180.1" rx="2.6" ry="1.9" fill="#9cb2de" opacity="0.75" transform="rotate(162 215.9 180.1)"/>
<ellipse cx="172.2" cy="185.5" rx="2.5" ry="1.8" fill="#84a0d6" opacity="0.75" transform="rotate(157 172.2 185.5)"/>
<ellipse cx="177.4" cy="183.4" rx="2.3" ry="1.9" fill="#9cb2de" opacity="0.75" transform="rotate(59 177.4 183.4)"/>
<ellipse cx="187.5" cy="183.9" rx="2.0" ry="1.4" fill="#9cb2de" opacity="0.75" transform="rotate(105 187.5 183.9)"/>
<ellipse cx="191.4" cy="185.1" rx="2.2" ry="1.6" fill="#9cb2de" opacity="0.75" transform="rotate(54 191.4 185.1)"/>
<ellipse cx="198.3" cy="184.9" rx="2.1" ry="1.8" fill="#9cb2de" opacity="0.75" transform="rotate(163 198.3 184.9)"/>
<ellipse cx="205.2" cy="184.3" rx="1.9" ry="1.7" fill="#9cb2de" opacity="0.75" transform="rotate(135 205.2 184.3)"/>
<ellipse cx="212.7" cy="183.2" rx="2.2" ry="1.9" fill="#5e74ac" opacity="0.75" transform="rotate(150 212.7 183.2)"/>
<ellipse cx="170.7" cy="189.4" rx="1.9" ry="1.5" fill="#9cb2de" opacity="0.75" transform="rotate(9 170.7 189.4)"/>
<ellipse cx="182.3" cy="187.4" rx="2.1" ry="1.8" fill="#84a0d6" opacity="0.75" transform="rotate(68 182.3 187.4)"/>
<ellipse cx="186.7" cy="188.0" rx="2.0" ry="1.6" fill="#84a0d6" opacity="0.75" transform="rotate(88 186.7 188.0)"/>
<ellipse cx="192.2" cy="189.0" rx="1.8" ry="1.6" fill="#84a0d6" opacity="0.75" transform="rotate(106 192.2 189.0)"/>
<ellipse cx="195.0" cy="186.8" rx="1.8" ry="1.5" fill="#84a0d6" opacity="0.75" transform="rotate(43 195.0 186.8)"/>
<ellipse cx="199.3" cy="187.9" rx="2.2" ry="1.9" fill="#5e74ac" opacity="0.75" transform="rotate(34 199.3 187.9)"/>
<ellipse cx="204.6" cy="189.4" rx="2.3" ry="1.7" fill="#84a0d6" opacity="0.75" transform="rotate(48 204.6 189.4)"/>
<ellipse cx="209.9" cy="187.0" rx="2.4" ry="1.9" fill="#84a0d6" opacity="0.75" transform="rotate(31 209.9 187.0)"/>
<ellipse cx="214.6" cy="186.8" rx="1.9" ry="1.5" fill="#5e74ac" opacity="0.75" transform="rotate(58 214.6 186.8)"/>
<ellipse cx="173.6" cy="191.9" rx="2.0" ry="1.6" fill="#9cb2de" opacity="0.75" transform="rotate(95 173.6 191.9)"/>
<ellipse cx="178.5" cy="193.1" rx="2.4" ry="2.1" fill="#9cb2de" opacity="0.75" transform="rotate(93 178.5 193.1)"/>
<ellipse cx="182.0" cy="192.6" rx="2.6" ry="2.4" fill="#84a0d6" opacity="0.75" transform="rotate(72 182.0 192.6)"/>
<ellipse cx="190.1" cy="191.3" rx="1.8" ry="1.7" fill="#9cb2de" opacity="0.75" transform="rotate(175 190.1 191.3)"/>
<ellipse cx="196.7" cy="191.6" rx="2.4" ry="2.2" fill="#9cb2de" opacity="0.75" transform="rotate(51 196.7 191.6)"/>
<ellipse cx="200.4" cy="193.0" rx="2.6" ry="1.8" fill="#84a0d6" opacity="0.75" transform="rotate(155 200.4 193.0)"/>
<ellipse cx="205.9" cy="193.3" rx="2.2" ry="2.0" fill="#84a0d6" opacity="0.75" transform="rotate(88 205.9 193.3)"/>
<ellipse cx="209.6" cy="191.8" rx="2.6" ry="2.1" fill="#84a0d6" opacity="0.75" transform="rotate(76 209.6 191.8)"/>
</g></g>
<rect x="82.20" y="157.60" width="1.50" height="35.60" fill="#3a3a3a"/>
<rect x="200.50" y="186.50" width="12.50" height="7.50" fill="#ffffff"/>
<rect x="204.40" y="190.00" width="5.60" height="1.40" fill="#111"/>
<text x="61.60" y="46.15" font-size="6.4" text-anchor="middle" stroke="#231f20" stroke-width="0.160" textLength="16.10" lengthAdjust="spacingAndGlyphs">Case 1</text>
<text x="61.60" y="52.90" font-size="6.4" text-anchor="middle" stroke="#231f20" stroke-width="0.160" textLength="21.60" lengthAdjust="spacingAndGlyphs">A20 Low</text>
<text x="61.60" y="59.65" font-size="6.4" text-anchor="middle" stroke="#231f20" stroke-width="0.160" textLength="32.90" lengthAdjust="spacingAndGlyphs">RNF138 High</text>
<text x="61.60" y="88.15" font-size="6.4" text-anchor="middle" stroke="#231f20" stroke-width="0.160" textLength="16.80" lengthAdjust="spacingAndGlyphs">Case 2</text>
<text x="61.60" y="94.90" font-size="6.4" text-anchor="middle" stroke="#231f20" stroke-width="0.160" textLength="22.90" lengthAdjust="spacingAndGlyphs">A20 High</text>
<text x="61.60" y="101.65" font-size="6.4" text-anchor="middle" stroke="#231f20" stroke-width="0.160" textLength="31.70" lengthAdjust="spacingAndGlyphs">RNF138 Low</text>
<text x="61.60" y="129.25" font-size="6.4" text-anchor="middle" stroke="#231f20" stroke-width="0.160" textLength="16.10" lengthAdjust="spacingAndGlyphs">Case 1</text>
<text x="61.60" y="136.00" font-size="6.4" text-anchor="middle" stroke="#231f20" stroke-width="0.160" textLength="21.60" lengthAdjust="spacingAndGlyphs">A20 Low</text>
<text x="61.60" y="142.75" font-size="6.4" text-anchor="middle" stroke="#231f20" stroke-width="0.160" textLength="32.90" lengthAdjust="spacingAndGlyphs">RNF138 High</text>
<text x="61.60" y="170.95" font-size="6.4" text-anchor="middle" stroke="#231f20" stroke-width="0.160" textLength="16.80" lengthAdjust="spacingAndGlyphs">Case 2</text>
<text x="61.60" y="177.70" font-size="6.4" text-anchor="middle" stroke="#231f20" stroke-width="0.160" textLength="22.90" lengthAdjust="spacingAndGlyphs">A20 High</text>
<text x="61.60" y="184.45" font-size="6.4" text-anchor="middle" stroke="#231f20" stroke-width="0.160" textLength="31.70" lengthAdjust="spacingAndGlyphs">RNF138 Low</text>
<rect x="33.80" y="39.00" width="1.40" height="55.20" fill="#3a3a3a"/>
<rect x="33.80" y="122.80" width="1.40" height="54.80" fill="#3a3a3a"/>
<text x="19.20" y="68.90" font-size="6.8" stroke="#231f20" stroke-width="0.170" textLength="12.40" lengthAdjust="spacingAndGlyphs">W/O</text>
<text x="23.40" y="152.90" font-size="6.8" stroke="#231f20" stroke-width="0.170" textLength="8.30" lengthAdjust="spacingAndGlyphs">W/</text>
<line x1="298.20" y1="51.70" x2="298.20" y2="133.30" stroke="#231f20" stroke-width="1.1"/>
<line x1="295.20" y1="122.90" x2="298.20" y2="122.90" stroke="#231f20" stroke-width="0.9"/>
<text x="291.60" y="124.70" font-size="5.2" text-anchor="end" stroke="#231f20" stroke-width="0.130" textLength="2.40" lengthAdjust="spacingAndGlyphs">0</text>
<line x1="295.20" y1="111.22" x2="298.20" y2="111.22" stroke="#231f20" stroke-width="0.9"/>
<text x="291.60" y="113.02" font-size="5.2" text-anchor="end" stroke="#231f20" stroke-width="0.130" textLength="2.40" lengthAdjust="spacingAndGlyphs">1</text>
<line x1="295.20" y1="99.54" x2="298.20" y2="99.54" stroke="#231f20" stroke-width="0.9"/>
<text x="291.60" y="101.34" font-size="5.2" text-anchor="end" stroke="#231f20" stroke-width="0.130" textLength="2.40" lengthAdjust="spacingAndGlyphs">2</text>
<line x1="295.20" y1="87.86" x2="298.20" y2="87.86" stroke="#231f20" stroke-width="0.9"/>
<text x="291.60" y="89.66" font-size="5.2" text-anchor="end" stroke="#231f20" stroke-width="0.130" textLength="2.40" lengthAdjust="spacingAndGlyphs">3</text>
<line x1="295.20" y1="76.18" x2="298.20" y2="76.18" stroke="#231f20" stroke-width="0.9"/>
<text x="291.60" y="77.98" font-size="5.2" text-anchor="end" stroke="#231f20" stroke-width="0.130" textLength="2.40" lengthAdjust="spacingAndGlyphs">4</text>
<line x1="295.20" y1="64.50" x2="298.20" y2="64.50" stroke="#231f20" stroke-width="0.9"/>
<text x="291.60" y="66.30" font-size="5.2" text-anchor="end" stroke="#231f20" stroke-width="0.130" textLength="2.40" lengthAdjust="spacingAndGlyphs">5</text>
<line x1="297.70" y1="133.30" x2="342.10" y2="133.30" stroke="#231f20" stroke-width="1.1"/>
<line x1="309.40" y1="133.30" x2="309.40" y2="136.30" stroke="#231f20" stroke-width="0.9"/>
<line x1="328.70" y1="133.30" x2="328.70" y2="136.30" stroke="#231f20" stroke-width="0.9"/>
<text x="304.40" y="151.90" font-size="6.0" stroke="#231f20" stroke-width="0.150" textLength="12.20" lengthAdjust="spacingAndGlyphs" transform="rotate(-45 304.40 151.90)">W/O</text>
<text x="326.60" y="149.50" font-size="6.0" stroke="#231f20" stroke-width="0.150" textLength="8.00" lengthAdjust="spacingAndGlyphs" transform="rotate(-45 326.60 149.50)">W/</text>
<line x1="305.60" y1="152.50" x2="332.50" y2="152.50" stroke="#231f20" stroke-width="0.9"/>
<text x="305.20" y="160.60" font-size="6" stroke="#231f20" stroke-width="0.150" textLength="18.10" lengthAdjust="spacingAndGlyphs">MYD88</text>
<text x="323.60" y="157.60" font-size="3.2" stroke="#231f20" stroke-width="0.080" textLength="9.20" lengthAdjust="spacingAndGlyphs">L265P</text>
<text x="319.20" y="48.00" font-size="5.6" text-anchor="middle" stroke="#231f20" stroke-width="0.140" textLength="21.10" lengthAdjust="spacingAndGlyphs">p=0.116</text>
<text x="283.60" y="93.05" font-size="7.3" text-anchor="middle" stroke="#231f20" stroke-width="0.182" textLength="38.10" lengthAdjust="spacingAndGlyphs" transform="rotate(-90 283.60 93.05)">A20 IHC score</text>
<line x1="309.40" y1="77.90" x2="309.40" y2="127.30" stroke="#8a8a8a" stroke-width="0.7"/>
<path d="M309.40,83.30 C309.57,83.83 310.15,85.62 310.45,86.50 C310.75,87.38 310.94,87.73 311.21,88.60 C311.48,89.47 311.83,90.65 312.05,91.70 C312.27,92.75 312.28,93.83 312.55,94.90 C312.82,95.97 313.20,97.22 313.65,98.10 C314.10,98.98 314.80,99.50 315.25,100.20 C315.70,100.90 316.00,101.60 316.35,102.30 C316.70,103.00 317.12,103.70 317.35,104.40 C317.58,105.10 317.72,105.62 317.75,106.50 C317.78,107.38 317.80,108.63 317.55,109.70 C317.30,110.77 316.73,111.85 316.25,112.90 C315.77,113.95 315.27,115.03 314.65,116.00 C314.03,116.97 313.17,117.90 312.55,118.70 C311.93,119.50 311.47,120.10 310.95,120.80 C310.43,121.50 309.66,122.55 309.40,122.90 C309.14,123.25 309.66,123.25 309.40,122.90 C309.14,122.55 308.37,121.50 307.85,120.80 C307.32,120.10 306.87,119.50 306.25,118.70 C305.63,117.90 304.77,116.97 304.15,116.00 C303.53,115.03 303.03,113.95 302.55,112.90 C302.07,111.85 301.50,110.77 301.25,109.70 C301.00,108.63 301.02,107.38 301.05,106.50 C301.08,105.62 301.22,105.10 301.45,104.40 C301.68,103.70 302.10,103.00 302.45,102.30 C302.80,101.60 303.10,100.90 303.55,100.20 C304.00,99.50 304.70,98.98 305.15,98.10 C305.60,97.22 305.98,95.97 306.25,94.90 C306.52,93.83 306.53,92.75 306.75,91.70 C306.97,90.65 307.32,89.47 307.59,88.60 C307.86,87.73 308.05,87.38 308.35,86.50 C308.65,85.62 309.22,83.83 309.40,83.30 C309.57,82.77 309.22,82.77 309.40,83.30Z" fill="#2c4d8e" stroke="#1a3470" stroke-width="0.4"/>
<line x1="309.40" y1="83.30" x2="309.40" y2="122.90" stroke="#1a1a1a" stroke-width="0.5" opacity="0.5"/>
<rect x="308.20" y="101.50" width="2.40" height="11.40" fill="#ffffff"/>
<line x1="308.20" y1="106.30" x2="310.60" y2="106.30" stroke="#555" stroke-width="0.7"/>
<line x1="329.00" y1="62.20" x2="329.00" y2="129.50" stroke="#8a8a8a" stroke-width="0.7"/>
<path d="M329.00,68.00 C329.06,68.33 329.27,68.87 329.35,70.00 C329.43,71.13 329.42,73.02 329.49,74.80 C329.56,76.58 329.61,78.98 329.75,80.70 C329.89,82.42 330.18,83.87 330.35,85.10 C330.52,86.33 330.72,87.10 330.75,88.10 C330.78,89.10 330.42,89.98 330.55,91.10 C330.68,92.22 331.08,93.57 331.55,94.80 C332.02,96.03 332.77,97.15 333.35,98.50 C333.93,99.85 334.52,101.43 335.05,102.90 C335.58,104.37 336.28,105.82 336.55,107.30 C336.82,108.78 336.83,110.32 336.65,111.80 C336.47,113.28 336.15,114.72 335.45,116.20 C334.75,117.68 333.30,119.47 332.45,120.70 C331.60,121.93 330.93,122.75 330.35,123.60 C329.78,124.45 329.23,125.43 329.00,125.80 C328.77,126.17 329.23,126.17 329.00,125.80 C328.77,125.43 328.22,124.45 327.65,123.60 C327.07,122.75 326.40,121.93 325.55,120.70 C324.70,119.47 323.25,117.68 322.55,116.20 C321.85,114.72 321.53,113.28 321.35,111.80 C321.17,110.32 321.18,108.78 321.45,107.30 C321.72,105.82 322.42,104.37 322.95,102.90 C323.48,101.43 324.07,99.85 324.65,98.50 C325.23,97.15 325.98,96.03 326.45,94.80 C326.92,93.57 327.32,92.22 327.45,91.10 C327.58,89.98 327.22,89.10 327.25,88.10 C327.28,87.10 327.48,86.33 327.65,85.10 C327.82,83.87 328.11,82.42 328.25,80.70 C328.39,78.98 328.44,76.58 328.51,74.80 C328.58,73.02 328.57,71.13 328.65,70.00 C328.73,68.87 328.94,68.33 329.00,68.00 C329.06,67.67 328.94,67.67 329.00,68.00Z" fill="#b2102e" stroke="#8a0620" stroke-width="0.4"/>
<line x1="329.00" y1="68.00" x2="329.00" y2="125.80" stroke="#1a1a1a" stroke-width="0.5" opacity="0.5"/>
<rect x="327.80" y="102.90" width="2.40" height="11.80" fill="#ffffff"/>
<line x1="327.80" y1="108.80" x2="330.20" y2="108.80" stroke="#555" stroke-width="0.7"/>
<line x1="372.40" y1="51.70" x2="372.40" y2="133.30" stroke="#231f20" stroke-width="1.1"/>
<line x1="369.40" y1="119.30" x2="372.40" y2="119.30" stroke="#231f20" stroke-width="0.9"/>
<text x="365.80" y="121.10" font-size="5.2" text-anchor="end" stroke="#231f20" stroke-width="0.130" textLength="2.40" lengthAdjust="spacingAndGlyphs">0</text>
<line x1="369.40" y1="97.94" x2="372.40" y2="97.94" stroke="#231f20" stroke-width="0.9"/>
<text x="365.80" y="99.74" font-size="5.2" text-anchor="end" stroke="#231f20" stroke-width="0.130" textLength="2.40" lengthAdjust="spacingAndGlyphs">2</text>
<line x1="369.40" y1="76.58" x2="372.40" y2="76.58" stroke="#231f20" stroke-width="0.9"/>
<text x="365.80" y="78.38" font-size="5.2" text-anchor="end" stroke="#231f20" stroke-width="0.130" textLength="2.40" lengthAdjust="spacingAndGlyphs">4</text>
<line x1="369.40" y1="55.22" x2="372.40" y2="55.22" stroke="#231f20" stroke-width="0.9"/>
<text x="365.80" y="57.02" font-size="5.2" text-anchor="end" stroke="#231f20" stroke-width="0.130" textLength="2.40" lengthAdjust="spacingAndGlyphs">6</text>
<line x1="371.90" y1="133.30" x2="416.30" y2="133.30" stroke="#231f20" stroke-width="1.1"/>
<line x1="383.60" y1="133.30" x2="383.60" y2="136.30" stroke="#231f20" stroke-width="0.9"/>
<line x1="402.90" y1="133.30" x2="402.90" y2="136.30" stroke="#231f20" stroke-width="0.9"/>
<text x="378.60" y="151.90" font-size="6.0" stroke="#231f20" stroke-width="0.150" textLength="12.20" lengthAdjust="spacingAndGlyphs" transform="rotate(-45 378.60 151.90)">W/O</text>
<text x="400.80" y="149.50" font-size="6.0" stroke="#231f20" stroke-width="0.150" textLength="8.00" lengthAdjust="spacingAndGlyphs" transform="rotate(-45 400.80 149.50)">W/</text>
<line x1="379.80" y1="152.50" x2="406.70" y2="152.50" stroke="#231f20" stroke-width="0.9"/>
<text x="379.40" y="160.60" font-size="6" stroke="#231f20" stroke-width="0.150" textLength="18.10" lengthAdjust="spacingAndGlyphs">MYD88</text>
<text x="397.80" y="157.60" font-size="3.2" stroke="#231f20" stroke-width="0.080" textLength="9.20" lengthAdjust="spacingAndGlyphs">L265P</text>
<text x="393.40" y="48.00" font-size="5.6" text-anchor="middle" stroke="#231f20" stroke-width="0.140" textLength="23.60" lengthAdjust="spacingAndGlyphs">p&lt;0.0001</text>
<text x="357.90" y="89.40" font-size="7.3" text-anchor="middle" stroke="#231f20" stroke-width="0.182" textLength="43.70" lengthAdjust="spacingAndGlyphs" transform="rotate(-90 357.90 89.40)">RNF138 IHC score</text>
<line x1="383.00" y1="68.90" x2="383.00" y2="125.40" stroke="#8a8a8a" stroke-width="0.7"/>
<path d="M383.00,73.10 C383.12,73.68 383.51,75.33 383.75,76.60 C383.99,77.87 384.27,79.32 384.45,80.70 C384.63,82.08 384.67,83.50 384.85,84.90 C385.03,86.30 385.20,87.93 385.55,89.10 C385.90,90.27 386.37,90.85 386.95,91.90 C387.53,92.95 388.40,94.23 389.05,95.40 C389.70,96.57 390.35,97.85 390.85,98.90 C391.35,99.95 392.03,100.78 392.05,101.70 C392.07,102.62 391.38,103.48 390.95,104.40 C390.52,105.32 389.87,106.15 389.45,107.20 C389.03,108.25 388.78,109.53 388.45,110.70 C388.12,111.87 387.88,113.15 387.45,114.20 C387.02,115.25 386.38,116.07 385.85,117.00 C385.32,117.93 384.73,119.05 384.25,119.80 C383.77,120.55 383.21,121.22 383.00,121.50 C382.79,121.78 383.21,121.78 383.00,121.50 C382.79,121.22 382.23,120.55 381.75,119.80 C381.27,119.05 380.68,117.93 380.15,117.00 C379.62,116.07 378.98,115.25 378.55,114.20 C378.12,113.15 377.88,111.87 377.55,110.70 C377.22,109.53 376.97,108.25 376.55,107.20 C376.13,106.15 375.48,105.32 375.05,104.40 C374.62,103.48 373.93,102.62 373.95,101.70 C373.97,100.78 374.65,99.95 375.15,98.90 C375.65,97.85 376.30,96.57 376.95,95.40 C377.60,94.23 378.47,92.95 379.05,91.90 C379.63,90.85 380.10,90.27 380.45,89.10 C380.80,87.93 380.97,86.30 381.15,84.90 C381.33,83.50 381.37,82.08 381.55,80.70 C381.73,79.32 382.01,77.87 382.25,76.60 C382.49,75.33 382.88,73.68 383.00,73.10 C383.12,72.52 382.88,72.52 383.00,73.10Z" fill="#2c4d8e" stroke="#1a3470" stroke-width="0.4"/>
<line x1="383.00" y1="73.10" x2="383.00" y2="121.50" stroke="#1a1a1a" stroke-width="0.5" opacity="0.5"/>
<rect x="381.80" y="97.50" width="2.40" height="12.50" fill="#ffffff"/>
<line x1="381.80" y1="101.70" x2="384.20" y2="101.70" stroke="#555" stroke-width="0.7"/>
<line x1="402.60" y1="57.20" x2="402.60" y2="128.80" stroke="#8a8a8a" stroke-width="0.7"/>
<path d="M402.60,64.50 C402.87,65.17 403.79,67.03 404.20,68.50 C404.61,69.97 404.78,71.70 405.05,73.30 C405.32,74.90 405.60,76.23 405.85,78.10 C406.10,79.97 406.38,82.35 406.55,84.50 C406.72,86.65 406.85,88.85 406.85,91.00 C406.85,93.15 406.72,95.27 406.55,97.40 C406.38,99.53 406.12,101.65 405.85,103.80 C405.58,105.95 405.27,108.42 404.95,110.30 C404.63,112.18 404.34,113.37 403.95,115.10 C403.56,116.83 402.83,119.77 402.60,120.70 C402.38,121.63 402.83,121.63 402.60,120.70 C402.38,119.77 401.64,116.83 401.25,115.10 C400.86,113.37 400.57,112.18 400.25,110.30 C399.93,108.42 399.62,105.95 399.35,103.80 C399.08,101.65 398.82,99.53 398.65,97.40 C398.48,95.27 398.35,93.15 398.35,91.00 C398.35,88.85 398.48,86.65 398.65,84.50 C398.82,82.35 399.10,79.97 399.35,78.10 C399.60,76.23 399.88,74.90 400.15,73.30 C400.43,71.70 400.59,69.97 401.00,68.50 C401.41,67.03 402.33,65.17 402.60,64.50 C402.87,63.83 402.33,63.83 402.60,64.50Z" fill="#b2102e" stroke="#8a0620" stroke-width="0.4"/>
<line x1="402.60" y1="64.50" x2="402.60" y2="120.70" stroke="#1a1a1a" stroke-width="0.5" opacity="0.5"/>
<rect x="401.40" y="86.20" width="2.40" height="16.00" fill="#ffffff"/>
<line x1="401.40" y1="94.50" x2="403.80" y2="94.50" stroke="#555" stroke-width="0.7"/>
<line x1="446.20" y1="51.70" x2="446.20" y2="133.30" stroke="#231f20" stroke-width="1.1"/>
<line x1="443.20" y1="117.20" x2="446.20" y2="117.20" stroke="#231f20" stroke-width="0.9"/>
<text x="439.60" y="119.00" font-size="5.2" text-anchor="end" stroke="#231f20" stroke-width="0.130" textLength="2.40" lengthAdjust="spacingAndGlyphs">0</text>
<line x1="443.20" y1="92.90" x2="446.20" y2="92.90" stroke="#231f20" stroke-width="0.9"/>
<text x="439.60" y="94.70" font-size="5.2" text-anchor="end" stroke="#231f20" stroke-width="0.130" textLength="2.40" lengthAdjust="spacingAndGlyphs">2</text>
<line x1="443.20" y1="68.60" x2="446.20" y2="68.60" stroke="#231f20" stroke-width="0.9"/>
<text x="439.60" y="70.40" font-size="5.2" text-anchor="end" stroke="#231f20" stroke-width="0.130" textLength="2.40" lengthAdjust="spacingAndGlyphs">4</text>
<line x1="445.70" y1="133.30" x2="490.10" y2="133.30" stroke="#231f20" stroke-width="1.1"/>
<line x1="457.40" y1="133.30" x2="457.40" y2="136.30" stroke="#231f20" stroke-width="0.9"/>
<line x1="476.70" y1="133.30" x2="476.70" y2="136.30" stroke="#231f20" stroke-width="0.9"/>
<text x="452.40" y="151.90" font-size="6.0" stroke="#231f20" stroke-width="0.150" textLength="12.20" lengthAdjust="spacingAndGlyphs" transform="rotate(-45 452.40 151.90)">W/O</text>
<text x="474.60" y="149.50" font-size="6.0" stroke="#231f20" stroke-width="0.150" textLength="8.00" lengthAdjust="spacingAndGlyphs" transform="rotate(-45 474.60 149.50)">W/</text>
<line x1="453.60" y1="152.50" x2="480.50" y2="152.50" stroke="#231f20" stroke-width="0.9"/>
<text x="453.20" y="160.60" font-size="6" stroke="#231f20" stroke-width="0.150" textLength="18.10" lengthAdjust="spacingAndGlyphs">MYD88</text>
<text x="471.60" y="157.60" font-size="3.2" stroke="#231f20" stroke-width="0.080" textLength="9.20" lengthAdjust="spacingAndGlyphs">L265P</text>
<text x="467.20" y="48.00" font-size="5.6" text-anchor="middle" stroke="#231f20" stroke-width="0.140" textLength="23.30" lengthAdjust="spacingAndGlyphs">p=0.0011</text>
<text x="432.70" y="92.20" font-size="7.3" text-anchor="middle" stroke="#231f20" stroke-width="0.182" textLength="58.60" lengthAdjust="spacingAndGlyphs" transform="rotate(-90 432.70 92.20)">p-p65 S536 IHC score</text>
<line x1="457.00" y1="65.90" x2="457.00" y2="119.70" stroke="#8a8a8a" stroke-width="0.7"/>
<path d="M457.00,80.50 C457.18,80.92 457.69,82.15 458.05,83.00 C458.41,83.85 458.65,84.73 459.15,85.60 C459.65,86.47 460.42,87.33 461.05,88.20 C461.68,89.07 462.30,89.82 462.95,90.80 C463.60,91.78 464.45,93.12 464.95,94.10 C465.45,95.08 465.90,95.82 465.95,96.70 C466.00,97.58 465.63,98.52 465.25,99.40 C464.87,100.28 464.08,101.23 463.65,102.00 C463.22,102.77 462.80,103.23 462.65,104.00 C462.50,104.77 462.92,105.73 462.75,106.60 C462.58,107.47 462.13,108.33 461.65,109.20 C461.17,110.07 460.42,110.93 459.85,111.80 C459.28,112.67 458.73,113.63 458.25,114.40 C457.77,115.17 457.21,116.07 457.00,116.40 C456.79,116.73 457.21,116.73 457.00,116.40 C456.79,116.07 456.23,115.17 455.75,114.40 C455.27,113.63 454.72,112.67 454.15,111.80 C453.58,110.93 452.83,110.07 452.35,109.20 C451.87,108.33 451.42,107.47 451.25,106.60 C451.08,105.73 451.50,104.77 451.35,104.00 C451.20,103.23 450.78,102.77 450.35,102.00 C449.92,101.23 449.13,100.28 448.75,99.40 C448.37,98.52 448.00,97.58 448.05,96.70 C448.10,95.82 448.55,95.08 449.05,94.10 C449.55,93.12 450.40,91.78 451.05,90.80 C451.70,89.82 452.32,89.07 452.95,88.20 C453.58,87.33 454.35,86.47 454.85,85.60 C455.35,84.73 455.59,83.85 455.95,83.00 C456.31,82.15 456.82,80.92 457.00,80.50 C457.18,80.08 456.82,80.08 457.00,80.50Z" fill="#2c4d8e" stroke="#1a3470" stroke-width="0.4"/>
<line x1="457.00" y1="80.50" x2="457.00" y2="116.40" stroke="#1a1a1a" stroke-width="0.5" opacity="0.5"/>
<rect x="455.80" y="94.80" width="2.40" height="11.10" fill="#ffffff"/>
<line x1="455.80" y1="100.40" x2="458.20" y2="100.40" stroke="#555" stroke-width="0.7"/>
<line x1="476.60" y1="55.20" x2="476.60" y2="126.00" stroke="#8a8a8a" stroke-width="0.7"/>
<path d="M476.60,61.60 C476.87,62.42 477.73,64.88 478.20,66.50 C478.67,68.12 479.01,69.70 479.40,71.30 C479.79,72.90 480.23,74.37 480.55,76.10 C480.88,77.83 481.18,79.82 481.35,81.70 C481.52,83.58 481.60,85.52 481.55,87.40 C481.50,89.28 481.30,91.13 481.05,93.00 C480.80,94.87 480.38,96.58 480.05,98.60 C479.72,100.62 479.36,102.95 479.05,105.10 C478.74,107.25 478.48,109.63 478.20,111.50 C477.93,113.37 477.67,114.97 477.40,116.30 C477.13,117.63 476.73,118.97 476.60,119.50 C476.47,120.03 476.73,120.03 476.60,119.50 C476.47,118.97 476.07,117.63 475.80,116.30 C475.53,114.97 475.27,113.37 475.00,111.50 C474.73,109.63 474.46,107.25 474.15,105.10 C473.84,102.95 473.48,100.62 473.15,98.60 C472.82,96.58 472.40,94.87 472.15,93.00 C471.90,91.13 471.70,89.28 471.65,87.40 C471.60,85.52 471.68,83.58 471.85,81.70 C472.02,79.82 472.33,77.83 472.65,76.10 C472.98,74.37 473.41,72.90 473.80,71.30 C474.19,69.70 474.53,68.12 475.00,66.50 C475.47,64.88 476.33,62.42 476.60,61.60 C476.87,60.78 476.33,60.78 476.60,61.60Z" fill="#b2102e" stroke="#8a0620" stroke-width="0.4"/>
<line x1="476.60" y1="61.60" x2="476.60" y2="119.50" stroke="#1a1a1a" stroke-width="0.5" opacity="0.5"/>
<rect x="475.40" y="83.40" width="2.40" height="14.40" fill="#ffffff"/>
<line x1="475.40" y1="89.30" x2="477.80" y2="89.30" stroke="#555" stroke-width="0.7"/>
<line x1="45.10" y1="241.80" x2="45.10" y2="307.00" stroke="#000000" stroke-width="1.25"/>
<line x1="44.50" y1="306.40" x2="130.80" y2="306.40" stroke="#000000" stroke-width="1.25"/>
<line x1="45.10" y1="306.40" x2="45.10" y2="309.00" stroke="#000000" stroke-width="0.8"/>
<text x="45.10" y="317.30" font-size="5.2" text-anchor="middle" fill="#3a3a3a" stroke="#3a3a3a" stroke-width="0.130" textLength="2.60" lengthAdjust="spacingAndGlyphs">0</text>
<line x1="66.00" y1="306.40" x2="66.00" y2="309.00" stroke="#000000" stroke-width="0.8"/>
<text x="66.00" y="317.30" font-size="5.2" text-anchor="middle" fill="#3a3a3a" stroke="#3a3a3a" stroke-width="0.130" textLength="2.60" lengthAdjust="spacingAndGlyphs">1</text>
<line x1="86.90" y1="306.40" x2="86.90" y2="309.00" stroke="#000000" stroke-width="0.8"/>
<text x="86.90" y="317.30" font-size="5.2" text-anchor="middle" fill="#3a3a3a" stroke="#3a3a3a" stroke-width="0.130" textLength="2.60" lengthAdjust="spacingAndGlyphs">2</text>
<line x1="107.80" y1="306.40" x2="107.80" y2="309.00" stroke="#000000" stroke-width="0.8"/>
<text x="107.80" y="317.30" font-size="5.2" text-anchor="middle" fill="#3a3a3a" stroke="#3a3a3a" stroke-width="0.130" textLength="2.60" lengthAdjust="spacingAndGlyphs">3</text>
<line x1="128.70" y1="306.40" x2="128.70" y2="309.00" stroke="#000000" stroke-width="0.8"/>
<text x="128.70" y="317.30" font-size="5.2" text-anchor="middle" fill="#3a3a3a" stroke="#3a3a3a" stroke-width="0.130" textLength="2.60" lengthAdjust="spacingAndGlyphs">4</text>
<line x1="41.70" y1="306.00" x2="45.10" y2="306.00" stroke="#000000" stroke-width="0.8"/>
<text x="39.10" y="307.80" font-size="5.0" text-anchor="end" fill="#3a3a3a" stroke="#3a3a3a" stroke-width="0.125" textLength="7.40" lengthAdjust="spacingAndGlyphs">0.0</text>
<line x1="41.70" y1="285.60" x2="45.10" y2="285.60" stroke="#000000" stroke-width="0.8"/>
<text x="39.10" y="287.40" font-size="5.0" text-anchor="end" fill="#3a3a3a" stroke="#3a3a3a" stroke-width="0.125" textLength="7.40" lengthAdjust="spacingAndGlyphs">1.2</text>
<line x1="41.70" y1="265.20" x2="45.10" y2="265.20" stroke="#000000" stroke-width="0.8"/>
<text x="39.10" y="267.00" font-size="5.0" text-anchor="end" fill="#3a3a3a" stroke="#3a3a3a" stroke-width="0.125" textLength="7.40" lengthAdjust="spacingAndGlyphs">2.4</text>
<line x1="41.70" y1="244.80" x2="45.10" y2="244.80" stroke="#000000" stroke-width="0.8"/>
<text x="39.10" y="246.60" font-size="5.0" text-anchor="end" fill="#3a3a3a" stroke="#3a3a3a" stroke-width="0.125" textLength="7.40" lengthAdjust="spacingAndGlyphs">3.6</text>
<circle cx="64.0" cy="253.1" r="1.12" fill="#15306e"/>
<circle cx="58.3" cy="258.1" r="1.12" fill="#15306e"/>
<circle cx="62.1" cy="260.0" r="1.12" fill="#15306e"/>
<circle cx="64.6" cy="260.7" r="1.12" fill="#15306e"/>
<circle cx="68.5" cy="256.6" r="1.12" fill="#15306e"/>
<circle cx="72.3" cy="257.9" r="1.12" fill="#15306e"/>
<circle cx="70.4" cy="260.0" r="1.12" fill="#15306e"/>
<circle cx="69.7" cy="263.0" r="1.12" fill="#15306e"/>
<circle cx="72.9" cy="262.0" r="1.12" fill="#15306e"/>
<circle cx="75.4" cy="261.3" r="1.12" fill="#15306e"/>
<circle cx="76.1" cy="263.8" r="1.12" fill="#15306e"/>
<circle cx="79.9" cy="259.4" r="1.12" fill="#15306e"/>
<circle cx="81.1" cy="258.1" r="1.12" fill="#15306e"/>
<circle cx="80.7" cy="264.2" r="1.12" fill="#15306e"/>
<circle cx="72.3" cy="265.1" r="1.12" fill="#15306e"/>
<circle cx="57.7" cy="264.5" r="1.12" fill="#15306e"/>
<circle cx="57.7" cy="266.8" r="1.12" fill="#15306e"/>
<circle cx="54.1" cy="267.0" r="1.12" fill="#15306e"/>
<circle cx="53.6" cy="268.5" r="1.12" fill="#15306e"/>
<circle cx="60.2" cy="270.2" r="1.12" fill="#15306e"/>
<circle cx="60.8" cy="271.1" r="1.12" fill="#15306e"/>
<circle cx="72.9" cy="270.6" r="1.12" fill="#15306e"/>
<circle cx="73.5" cy="274.0" r="1.12" fill="#15306e"/>
<circle cx="70.4" cy="274.6" r="1.12" fill="#15306e"/>
<circle cx="78.6" cy="275.3" r="1.12" fill="#15306e"/>
<circle cx="60.8" cy="274.0" r="1.12" fill="#15306e"/>
<circle cx="53.2" cy="276.5" r="1.12" fill="#15306e"/>
<circle cx="53.9" cy="278.2" r="1.12" fill="#15306e"/>
<circle cx="57.7" cy="277.2" r="1.12" fill="#15306e"/>
<circle cx="58.9" cy="276.5" r="1.12" fill="#15306e"/>
<circle cx="60.2" cy="277.8" r="1.12" fill="#15306e"/>
<circle cx="62.1" cy="276.9" r="1.12" fill="#15306e"/>
<circle cx="56.7" cy="279.1" r="1.12" fill="#15306e"/>
<circle cx="58.3" cy="280.3" r="1.12" fill="#15306e"/>
<circle cx="62.7" cy="279.7" r="1.12" fill="#15306e"/>
<circle cx="67.8" cy="277.2" r="1.12" fill="#15306e"/>
<circle cx="71.0" cy="278.4" r="1.12" fill="#15306e"/>
<circle cx="54.9" cy="282.0" r="1.12" fill="#15306e"/>
<circle cx="59.6" cy="281.2" r="1.12" fill="#15306e"/>
<circle cx="60.2" cy="282.9" r="1.12" fill="#15306e"/>
<circle cx="72.3" cy="282.0" r="1.12" fill="#15306e"/>
<circle cx="70.4" cy="284.1" r="1.12" fill="#15306e"/>
<circle cx="71.0" cy="285.4" r="1.12" fill="#15306e"/>
<circle cx="62.1" cy="285.4" r="1.12" fill="#15306e"/>
<circle cx="60.8" cy="287.0" r="1.12" fill="#15306e"/>
<circle cx="79.2" cy="281.0" r="1.12" fill="#15306e"/>
<circle cx="81.1" cy="282.2" r="1.12" fill="#15306e"/>
<circle cx="83.0" cy="282.2" r="1.12" fill="#15306e"/>
<circle cx="79.9" cy="284.8" r="1.12" fill="#15306e"/>
<circle cx="81.8" cy="284.8" r="1.12" fill="#15306e"/>
<circle cx="84.3" cy="284.1" r="1.12" fill="#15306e"/>
<circle cx="85.6" cy="285.4" r="1.12" fill="#15306e"/>
<circle cx="83.7" cy="287.3" r="1.12" fill="#15306e"/>
<circle cx="89.4" cy="279.0" r="1.12" fill="#15306e"/>
<circle cx="88.7" cy="282.2" r="1.12" fill="#15306e"/>
<circle cx="72.3" cy="291.1" r="1.12" fill="#15306e"/>
<circle cx="71.6" cy="292.6" r="1.12" fill="#15306e"/>
<circle cx="76.7" cy="291.1" r="1.12" fill="#15306e"/>
<circle cx="80.5" cy="291.1" r="1.12" fill="#15306e"/>
<circle cx="81.8" cy="292.4" r="1.12" fill="#15306e"/>
<circle cx="83.0" cy="291.7" r="1.12" fill="#15306e"/>
<circle cx="82.4" cy="289.2" r="1.12" fill="#15306e"/>
<circle cx="52.0" cy="293.4" r="1.12" fill="#15306e"/>
<circle cx="54.5" cy="293.0" r="1.12" fill="#15306e"/>
<circle cx="57.0" cy="293.0" r="1.12" fill="#15306e"/>
<circle cx="80.5" cy="293.6" r="1.12" fill="#15306e"/>
<circle cx="85.0" cy="295.5" r="1.12" fill="#15306e"/>
<circle cx="88.7" cy="293.0" r="1.12" fill="#15306e"/>
<circle cx="78.0" cy="294.9" r="1.12" fill="#15306e"/>
<circle cx="76.7" cy="296.8" r="1.12" fill="#15306e"/>
<circle cx="78.6" cy="296.8" r="1.12" fill="#15306e"/>
<circle cx="69.1" cy="296.8" r="1.12" fill="#15306e"/>
<circle cx="70.4" cy="298.1" r="1.12" fill="#15306e"/>
<circle cx="72.3" cy="298.7" r="1.12" fill="#15306e"/>
<circle cx="73.5" cy="298.7" r="1.12" fill="#15306e"/>
<circle cx="52.6" cy="299.0" r="1.12" fill="#15306e"/>
<circle cx="79.9" cy="300.2" r="1.12" fill="#15306e"/>
<circle cx="99.7" cy="268.3" r="1.12" fill="#15306e"/>
<circle cx="89.1" cy="278.7" r="1.12" fill="#15306e"/>
<circle cx="89.1" cy="282.3" r="1.12" fill="#15306e"/>
<circle cx="106.6" cy="280.6" r="1.12" fill="#15306e"/>
<circle cx="97.8" cy="283.9" r="1.12" fill="#15306e"/>
<circle cx="93.3" cy="285.4" r="1.12" fill="#15306e"/>
<circle cx="89.5" cy="286.1" r="1.12" fill="#15306e"/>
<circle cx="92.1" cy="288.6" r="1.12" fill="#15306e"/>
<circle cx="97.8" cy="289.9" r="1.12" fill="#15306e"/>
<circle cx="93.3" cy="292.2" r="1.12" fill="#15306e"/>
<circle cx="89.1" cy="293.0" r="1.12" fill="#15306e"/>
<circle cx="95.5" cy="295.6" r="1.12" fill="#15306e"/>
<circle cx="85.1" cy="295.6" r="1.12" fill="#15306e"/>
<circle cx="101.8" cy="297.5" r="1.12" fill="#15306e"/>
<circle cx="118.5" cy="287.3" r="1.12" fill="#15306e"/>
<line x1="48.30" y1="273.60" x2="124.00" y2="285.80" stroke="#111" stroke-width="1.1"/>
<text x="100.80" y="254.50" font-size="5.3" stroke="#231f20" stroke-width="0.133" textLength="23.80" lengthAdjust="spacingAndGlyphs">r=-0.2974</text>
<text x="100.80" y="260.80" font-size="5.3" stroke="#231f20" stroke-width="0.133" textLength="23.60" lengthAdjust="spacingAndGlyphs">p=0.0024</text>
<text x="58.00" y="236.00" font-size="7.6" stroke="#231f20" stroke-width="0.190" textLength="45.20" lengthAdjust="spacingAndGlyphs">W/O MYD88</text>
<text x="103.70" y="232.90" font-size="4.5" stroke="#231f20" stroke-width="0.113" textLength="14.60" lengthAdjust="spacingAndGlyphs">L265P</text>
<text x="88.30" y="328.30" font-size="7.8" text-anchor="middle" fill="#3a3a3a" stroke="#3a3a3a" stroke-width="0.195" textLength="49.00" lengthAdjust="spacingAndGlyphs">RNF138 IHC score</text>
<text x="26.90" y="273.40" font-size="7.6" text-anchor="middle" fill="#3a3a3a" stroke="#3a3a3a" stroke-width="0.190" textLength="38.30" lengthAdjust="spacingAndGlyphs" transform="rotate(-90 26.90 273.40)">A20 IHC score</text>
<line x1="167.90" y1="241.80" x2="167.90" y2="307.00" stroke="#000000" stroke-width="1.25"/>
<line x1="167.30" y1="306.40" x2="245.80" y2="306.40" stroke="#000000" stroke-width="1.25"/>
<line x1="167.90" y1="306.40" x2="167.90" y2="309.00" stroke="#000000" stroke-width="0.8"/>
<text x="167.90" y="317.30" font-size="5.2" text-anchor="middle" fill="#3a3a3a" stroke="#3a3a3a" stroke-width="0.130" textLength="7.00" lengthAdjust="spacingAndGlyphs">0.0</text>
<line x1="193.70" y1="306.40" x2="193.70" y2="309.00" stroke="#000000" stroke-width="0.8"/>
<text x="193.70" y="317.30" font-size="5.2" text-anchor="middle" fill="#3a3a3a" stroke="#3a3a3a" stroke-width="0.130" textLength="7.00" lengthAdjust="spacingAndGlyphs">1.5</text>
<line x1="219.50" y1="306.40" x2="219.50" y2="309.00" stroke="#000000" stroke-width="0.8"/>
<text x="219.50" y="317.30" font-size="5.2" text-anchor="middle" fill="#3a3a3a" stroke="#3a3a3a" stroke-width="0.130" textLength="7.00" lengthAdjust="spacingAndGlyphs">3.0</text>
<line x1="245.30" y1="306.40" x2="245.30" y2="309.00" stroke="#000000" stroke-width="0.8"/>
<text x="245.30" y="317.30" font-size="5.2" text-anchor="middle" fill="#3a3a3a" stroke="#3a3a3a" stroke-width="0.130" textLength="7.00" lengthAdjust="spacingAndGlyphs">4.5</text>
<line x1="164.50" y1="306.00" x2="167.90" y2="306.00" stroke="#000000" stroke-width="0.8"/>
<text x="161.90" y="307.80" font-size="5.0" text-anchor="end" fill="#3a3a3a" stroke="#3a3a3a" stroke-width="0.125" textLength="7.40" lengthAdjust="spacingAndGlyphs">0.0</text>
<line x1="164.50" y1="285.90" x2="167.90" y2="285.90" stroke="#000000" stroke-width="0.8"/>
<text x="161.90" y="287.70" font-size="5.0" text-anchor="end" fill="#3a3a3a" stroke="#3a3a3a" stroke-width="0.125" textLength="7.40" lengthAdjust="spacingAndGlyphs">1.6</text>
<line x1="164.50" y1="265.80" x2="167.90" y2="265.80" stroke="#000000" stroke-width="0.8"/>
<text x="161.90" y="267.60" font-size="5.0" text-anchor="end" fill="#3a3a3a" stroke="#3a3a3a" stroke-width="0.125" textLength="7.40" lengthAdjust="spacingAndGlyphs">3.2</text>
<line x1="164.50" y1="245.70" x2="167.90" y2="245.70" stroke="#000000" stroke-width="0.8"/>
<text x="161.90" y="247.50" font-size="5.0" text-anchor="end" fill="#3a3a3a" stroke="#3a3a3a" stroke-width="0.125" textLength="7.40" lengthAdjust="spacingAndGlyphs">4.8</text>
<circle cx="170.8" cy="251.9" r="1.12" fill="#b80826"/>
<circle cx="179.6" cy="269.6" r="1.12" fill="#b80826"/>
<circle cx="177.6" cy="275.8" r="1.12" fill="#b80826"/>
<circle cx="174.2" cy="284.7" r="1.12" fill="#b80826"/>
<circle cx="177.8" cy="284.7" r="1.12" fill="#b80826"/>
<circle cx="178.1" cy="297.0" r="1.12" fill="#b80826"/>
<circle cx="179.6" cy="297.0" r="1.12" fill="#b80826"/>
<circle cx="186.5" cy="289.6" r="1.12" fill="#b80826"/>
<circle cx="189.9" cy="281.9" r="1.12" fill="#b80826"/>
<circle cx="191.5" cy="270.7" r="1.12" fill="#b80826"/>
<circle cx="193.5" cy="284.7" r="1.12" fill="#b80826"/>
<circle cx="195.0" cy="295.0" r="1.12" fill="#b80826"/>
<circle cx="195.0" cy="296.1" r="1.12" fill="#b80826"/>
<circle cx="197.0" cy="289.6" r="1.12" fill="#b80826"/>
<circle cx="198.5" cy="295.0" r="1.12" fill="#b80826"/>
<circle cx="198.5" cy="296.1" r="1.12" fill="#b80826"/>
<circle cx="200.1" cy="291.9" r="1.12" fill="#b80826"/>
<circle cx="198.5" cy="301.9" r="1.12" fill="#b80826"/>
<circle cx="200.4" cy="301.9" r="1.12" fill="#b80826"/>
<circle cx="204.2" cy="291.9" r="1.12" fill="#b80826"/>
<circle cx="205.8" cy="288.8" r="1.12" fill="#b80826"/>
<circle cx="207.3" cy="289.9" r="1.12" fill="#b80826"/>
<circle cx="207.3" cy="290.8" r="1.12" fill="#b80826"/>
<circle cx="207.3" cy="270.7" r="1.12" fill="#b80826"/>
<circle cx="209.2" cy="263.2" r="1.12" fill="#b80826"/>
<circle cx="210.8" cy="273.2" r="1.12" fill="#b80826"/>
<circle cx="209.2" cy="283.2" r="1.12" fill="#b80826"/>
<circle cx="212.4" cy="291.9" r="1.12" fill="#b80826"/>
<circle cx="212.4" cy="300.7" r="1.12" fill="#b80826"/>
<circle cx="214.2" cy="297.3" r="1.12" fill="#b80826"/>
<circle cx="215.8" cy="299.2" r="1.12" fill="#b80826"/>
<circle cx="215.8" cy="300.7" r="1.12" fill="#b80826"/>
<circle cx="217.6" cy="291.9" r="1.12" fill="#b80826"/>
<circle cx="217.6" cy="293.5" r="1.12" fill="#b80826"/>
<circle cx="221.2" cy="289.6" r="1.12" fill="#b80826"/>
<circle cx="221.2" cy="299.6" r="1.12" fill="#b80826"/>
<circle cx="224.7" cy="290.7" r="1.12" fill="#b80826"/>
<circle cx="224.7" cy="302.2" r="1.12" fill="#b80826"/>
<circle cx="226.2" cy="281.9" r="1.12" fill="#b80826"/>
<circle cx="231.2" cy="302.2" r="1.12" fill="#b80826"/>
<circle cx="232.7" cy="302.2" r="1.12" fill="#b80826"/>
<circle cx="235.0" cy="302.2" r="1.12" fill="#b80826"/>
<line x1="171.20" y1="269.70" x2="242.70" y2="281.80" stroke="#111" stroke-width="1.1"/>
<text x="217.90" y="254.10" font-size="5.3" stroke="#231f20" stroke-width="0.133" textLength="24.40" lengthAdjust="spacingAndGlyphs">r=-0.4514</text>
<text x="217.90" y="260.60" font-size="5.3" stroke="#231f20" stroke-width="0.133" textLength="23.90" lengthAdjust="spacingAndGlyphs">p=0.0027</text>
<text x="181.00" y="236.00" font-size="7.6" stroke="#231f20" stroke-width="0.190" textLength="38.40" lengthAdjust="spacingAndGlyphs">W/ MYD88</text>
<text x="219.90" y="232.90" font-size="4.5" stroke="#231f20" stroke-width="0.113" textLength="14.00" lengthAdjust="spacingAndGlyphs">L265P</text>
<text x="206.90" y="328.30" font-size="7.8" text-anchor="middle" fill="#3a3a3a" stroke="#3a3a3a" stroke-width="0.195" textLength="49.00" lengthAdjust="spacingAndGlyphs">RNF138 IHC score</text>
<text x="148.70" y="273.20" font-size="7.6" text-anchor="middle" fill="#3a3a3a" stroke="#3a3a3a" stroke-width="0.190" textLength="38.50" lengthAdjust="spacingAndGlyphs" transform="rotate(-90 148.70 273.20)">A20 IHC score</text>
<line x1="303.30" y1="241.80" x2="303.30" y2="307.00" stroke="#000000" stroke-width="1.25"/>
<line x1="302.70" y1="306.40" x2="392.80" y2="306.40" stroke="#000000" stroke-width="1.25"/>
<line x1="303.30" y1="306.40" x2="303.30" y2="309.00" stroke="#000000" stroke-width="0.8"/>
<text x="303.30" y="317.30" font-size="5.2" text-anchor="middle" fill="#3a3a3a" stroke="#3a3a3a" stroke-width="0.130" textLength="7.00" lengthAdjust="spacingAndGlyphs">0.0</text>
<line x1="332.20" y1="306.40" x2="332.20" y2="309.00" stroke="#000000" stroke-width="0.8"/>
<text x="332.20" y="317.30" font-size="5.2" text-anchor="middle" fill="#3a3a3a" stroke="#3a3a3a" stroke-width="0.130" textLength="7.00" lengthAdjust="spacingAndGlyphs">1.5</text>
<line x1="361.10" y1="306.40" x2="361.10" y2="309.00" stroke="#000000" stroke-width="0.8"/>
<text x="361.10" y="317.30" font-size="5.2" text-anchor="middle" fill="#3a3a3a" stroke="#3a3a3a" stroke-width="0.130" textLength="7.00" lengthAdjust="spacingAndGlyphs">3.0</text>
<line x1="390.00" y1="306.40" x2="390.00" y2="309.00" stroke="#000000" stroke-width="0.8"/>
<text x="390.00" y="317.30" font-size="5.2" text-anchor="middle" fill="#3a3a3a" stroke="#3a3a3a" stroke-width="0.130" textLength="7.00" lengthAdjust="spacingAndGlyphs">4.5</text>
<line x1="299.90" y1="306.00" x2="303.30" y2="306.00" stroke="#000000" stroke-width="0.8"/>
<text x="297.30" y="307.80" font-size="5.0" text-anchor="end" fill="#3a3a3a" stroke="#3a3a3a" stroke-width="0.125" textLength="7.40" lengthAdjust="spacingAndGlyphs">0.0</text>
<line x1="299.90" y1="285.60" x2="303.30" y2="285.60" stroke="#000000" stroke-width="0.8"/>
<text x="297.30" y="287.40" font-size="5.0" text-anchor="end" fill="#3a3a3a" stroke="#3a3a3a" stroke-width="0.125" textLength="7.40" lengthAdjust="spacingAndGlyphs">1.2</text>
<line x1="299.90" y1="265.20" x2="303.30" y2="265.20" stroke="#000000" stroke-width="0.8"/>
<text x="297.30" y="267.00" font-size="5.0" text-anchor="end" fill="#3a3a3a" stroke="#3a3a3a" stroke-width="0.125" textLength="7.40" lengthAdjust="spacingAndGlyphs">2.4</text>
<line x1="299.90" y1="244.80" x2="303.30" y2="244.80" stroke="#000000" stroke-width="0.8"/>
<text x="297.30" y="246.60" font-size="5.0" text-anchor="end" fill="#3a3a3a" stroke="#3a3a3a" stroke-width="0.125" textLength="7.40" lengthAdjust="spacingAndGlyphs">3.6</text>
<circle cx="317.4" cy="252.7" r="1.12" fill="#15306e"/>
<circle cx="312.3" cy="257.7" r="1.12" fill="#15306e"/>
<circle cx="311.0" cy="259.7" r="1.12" fill="#15306e"/>
<circle cx="312.1" cy="261.0" r="1.12" fill="#15306e"/>
<circle cx="308.6" cy="268.3" r="1.12" fill="#15306e"/>
<circle cx="333.0" cy="256.3" r="1.12" fill="#15306e"/>
<circle cx="334.3" cy="257.9" r="1.12" fill="#15306e"/>
<circle cx="336.1" cy="260.1" r="1.12" fill="#15306e"/>
<circle cx="336.6" cy="262.3" r="1.12" fill="#15306e"/>
<circle cx="340.3" cy="258.7" r="1.12" fill="#15306e"/>
<circle cx="347.4" cy="259.7" r="1.12" fill="#15306e"/>
<circle cx="343.7" cy="265.0" r="1.12" fill="#15306e"/>
<circle cx="326.3" cy="263.0" r="1.12" fill="#15306e"/>
<circle cx="325.9" cy="264.7" r="1.12" fill="#15306e"/>
<circle cx="323.7" cy="266.3" r="1.12" fill="#15306e"/>
<circle cx="329.7" cy="264.7" r="1.12" fill="#15306e"/>
<circle cx="332.3" cy="266.3" r="1.12" fill="#15306e"/>
<circle cx="330.3" cy="268.3" r="1.12" fill="#15306e"/>
<circle cx="332.6" cy="270.1" r="1.12" fill="#15306e"/>
<circle cx="339.7" cy="269.7" r="1.12" fill="#15306e"/>
<circle cx="351.3" cy="269.9" r="1.12" fill="#15306e"/>
<circle cx="333.9" cy="274.1" r="1.12" fill="#15306e"/>
<circle cx="311.0" cy="276.3" r="1.12" fill="#15306e"/>
<circle cx="308.3" cy="278.6" r="1.12" fill="#15306e"/>
<circle cx="315.0" cy="276.3" r="1.12" fill="#15306e"/>
<circle cx="316.3" cy="277.7" r="1.12" fill="#15306e"/>
<circle cx="317.4" cy="278.1" r="1.12" fill="#15306e"/>
<circle cx="319.7" cy="274.6" r="1.12" fill="#15306e"/>
<circle cx="319.7" cy="277.7" r="1.12" fill="#15306e"/>
<circle cx="325.7" cy="276.3" r="1.12" fill="#15306e"/>
<circle cx="329.0" cy="277.0" r="1.12" fill="#15306e"/>
<circle cx="330.3" cy="277.7" r="1.12" fill="#15306e"/>
<circle cx="333.7" cy="277.0" r="1.12" fill="#15306e"/>
<circle cx="313.7" cy="280.7" r="1.12" fill="#15306e"/>
<circle cx="315.3" cy="280.3" r="1.12" fill="#15306e"/>
<circle cx="321.0" cy="281.7" r="1.12" fill="#15306e"/>
<circle cx="321.7" cy="283.7" r="1.12" fill="#15306e"/>
<circle cx="321.0" cy="285.0" r="1.12" fill="#15306e"/>
<circle cx="323.7" cy="284.7" r="1.12" fill="#15306e"/>
<circle cx="326.3" cy="280.7" r="1.12" fill="#15306e"/>
<circle cx="329.0" cy="283.4" r="1.12" fill="#15306e"/>
<circle cx="335.0" cy="280.0" r="1.12" fill="#15306e"/>
<circle cx="335.7" cy="281.3" r="1.12" fill="#15306e"/>
<circle cx="336.3" cy="283.0" r="1.12" fill="#15306e"/>
<circle cx="339.7" cy="282.1" r="1.12" fill="#15306e"/>
<circle cx="338.3" cy="283.7" r="1.12" fill="#15306e"/>
<circle cx="334.3" cy="285.0" r="1.12" fill="#15306e"/>
<circle cx="335.7" cy="286.3" r="1.12" fill="#15306e"/>
<circle cx="339.7" cy="285.3" r="1.12" fill="#15306e"/>
<circle cx="337.9" cy="287.7" r="1.12" fill="#15306e"/>
<circle cx="347.4" cy="281.7" r="1.12" fill="#15306e"/>
<circle cx="351.0" cy="284.7" r="1.12" fill="#15306e"/>
<circle cx="352.3" cy="287.0" r="1.12" fill="#15306e"/>
<circle cx="319.0" cy="287.4" r="1.12" fill="#15306e"/>
<circle cx="317.7" cy="288.7" r="1.12" fill="#15306e"/>
<circle cx="318.7" cy="290.6" r="1.12" fill="#15306e"/>
<circle cx="313.4" cy="292.0" r="1.12" fill="#15306e"/>
<circle cx="333.7" cy="292.0" r="1.12" fill="#15306e"/>
<circle cx="335.0" cy="291.4" r="1.12" fill="#15306e"/>
<circle cx="337.0" cy="293.3" r="1.12" fill="#15306e"/>
<circle cx="337.9" cy="294.6" r="1.12" fill="#15306e"/>
<circle cx="339.7" cy="292.0" r="1.12" fill="#15306e"/>
<circle cx="343.7" cy="290.6" r="1.12" fill="#15306e"/>
<circle cx="343.7" cy="292.7" r="1.12" fill="#15306e"/>
<circle cx="343.7" cy="294.6" r="1.12" fill="#15306e"/>
<circle cx="347.4" cy="290.3" r="1.12" fill="#15306e"/>
<circle cx="347.4" cy="292.7" r="1.12" fill="#15306e"/>
<circle cx="333.7" cy="296.7" r="1.12" fill="#15306e"/>
<circle cx="337.0" cy="296.7" r="1.12" fill="#15306e"/>
<circle cx="337.7" cy="298.3" r="1.12" fill="#15306e"/>
<circle cx="339.0" cy="298.7" r="1.12" fill="#15306e"/>
<circle cx="347.4" cy="297.0" r="1.12" fill="#15306e"/>
<circle cx="351.3" cy="299.0" r="1.12" fill="#15306e"/>
<circle cx="316.3" cy="297.7" r="1.12" fill="#15306e"/>
<circle cx="311.3" cy="300.3" r="1.12" fill="#15306e"/>
<circle cx="365.0" cy="273.4" r="1.12" fill="#15306e"/>
<circle cx="372.7" cy="276.6" r="1.12" fill="#15306e"/>
<circle cx="369.0" cy="279.9" r="1.12" fill="#15306e"/>
<circle cx="370.7" cy="283.7" r="1.12" fill="#15306e"/>
<circle cx="363.0" cy="283.7" r="1.12" fill="#15306e"/>
<circle cx="365.0" cy="287.4" r="1.12" fill="#15306e"/>
<circle cx="353.3" cy="287.0" r="1.12" fill="#15306e"/>
<circle cx="347.4" cy="290.0" r="1.12" fill="#15306e"/>
<circle cx="347.4" cy="293.0" r="1.12" fill="#15306e"/>
<circle cx="353.3" cy="293.0" r="1.12" fill="#15306e"/>
<circle cx="359.7" cy="292.3" r="1.12" fill="#15306e"/>
<circle cx="363.0" cy="294.0" r="1.12" fill="#15306e"/>
<circle cx="366.7" cy="292.0" r="1.12" fill="#15306e"/>
<circle cx="377.0" cy="290.3" r="1.12" fill="#15306e"/>
<circle cx="347.4" cy="297.0" r="1.12" fill="#15306e"/>
<circle cx="351.4" cy="299.3" r="1.12" fill="#15306e"/>
<circle cx="372.7" cy="296.0" r="1.12" fill="#15306e"/>
<circle cx="374.6" cy="298.7" r="1.12" fill="#15306e"/>
<circle cx="376.3" cy="298.7" r="1.12" fill="#15306e"/>
<line x1="309.10" y1="272.20" x2="380.00" y2="283.00" stroke="#111" stroke-width="1.1"/>
<text x="361.90" y="250.80" font-size="5.3" stroke="#231f20" stroke-width="0.133" textLength="24.60" lengthAdjust="spacingAndGlyphs">r=-0.3173</text>
<text x="361.90" y="257.30" font-size="5.3" stroke="#231f20" stroke-width="0.133" textLength="24.30" lengthAdjust="spacingAndGlyphs">p=0.0012</text>
<text x="317.90" y="236.20" font-size="7.6" stroke="#231f20" stroke-width="0.190" textLength="44.80" lengthAdjust="spacingAndGlyphs">W/O MYD88</text>
<text x="363.20" y="233.10" font-size="4.5" stroke="#231f20" stroke-width="0.113" textLength="14.70" lengthAdjust="spacingAndGlyphs">L265P</text>
<text x="348.00" y="328.30" font-size="7.8" text-anchor="middle" fill="#3a3a3a" stroke="#3a3a3a" stroke-width="0.195" textLength="59.30" lengthAdjust="spacingAndGlyphs">p-p65 S536 IHC score</text>
<text x="284.20" y="273.50" font-size="7.6" text-anchor="middle" fill="#3a3a3a" stroke="#3a3a3a" stroke-width="0.190" textLength="38.30" lengthAdjust="spacingAndGlyphs" transform="rotate(-90 284.20 273.50)">A20 IHC score</text>
<line x1="429.80" y1="241.80" x2="429.80" y2="307.00" stroke="#000000" stroke-width="1.25"/>
<line x1="429.20" y1="306.40" x2="509.00" y2="306.40" stroke="#000000" stroke-width="1.25"/>
<line x1="429.80" y1="306.40" x2="429.80" y2="309.00" stroke="#000000" stroke-width="0.8"/>
<text x="429.80" y="317.30" font-size="5.2" text-anchor="middle" fill="#3a3a3a" stroke="#3a3a3a" stroke-width="0.130" textLength="7.00" lengthAdjust="spacingAndGlyphs">0.0</text>
<line x1="455.67" y1="306.40" x2="455.67" y2="309.00" stroke="#000000" stroke-width="0.8"/>
<text x="455.67" y="317.30" font-size="5.2" text-anchor="middle" fill="#3a3a3a" stroke="#3a3a3a" stroke-width="0.130" textLength="7.00" lengthAdjust="spacingAndGlyphs">1.5</text>
<line x1="481.54" y1="306.40" x2="481.54" y2="309.00" stroke="#000000" stroke-width="0.8"/>
<text x="481.54" y="317.30" font-size="5.2" text-anchor="middle" fill="#3a3a3a" stroke="#3a3a3a" stroke-width="0.130" textLength="7.00" lengthAdjust="spacingAndGlyphs">3.0</text>
<line x1="507.41" y1="306.40" x2="507.41" y2="309.00" stroke="#000000" stroke-width="0.8"/>
<text x="507.41" y="317.30" font-size="5.2" text-anchor="middle" fill="#3a3a3a" stroke="#3a3a3a" stroke-width="0.130" textLength="7.00" lengthAdjust="spacingAndGlyphs">4.5</text>
<line x1="426.40" y1="306.00" x2="429.80" y2="306.00" stroke="#000000" stroke-width="0.8"/>
<text x="423.80" y="307.80" font-size="5.0" text-anchor="end" fill="#3a3a3a" stroke="#3a3a3a" stroke-width="0.125" textLength="7.40" lengthAdjust="spacingAndGlyphs">0.0</text>
<line x1="426.40" y1="285.83" x2="429.80" y2="285.83" stroke="#000000" stroke-width="0.8"/>
<text x="423.80" y="287.63" font-size="5.0" text-anchor="end" fill="#3a3a3a" stroke="#3a3a3a" stroke-width="0.125" textLength="7.40" lengthAdjust="spacingAndGlyphs">1.6</text>
<line x1="426.40" y1="265.66" x2="429.80" y2="265.66" stroke="#000000" stroke-width="0.8"/>
<text x="423.80" y="267.46" font-size="5.0" text-anchor="end" fill="#3a3a3a" stroke="#3a3a3a" stroke-width="0.125" textLength="7.40" lengthAdjust="spacingAndGlyphs">3.2</text>
<line x1="426.40" y1="245.49" x2="429.80" y2="245.49" stroke="#000000" stroke-width="0.8"/>
<text x="423.80" y="247.29" font-size="5.0" text-anchor="end" fill="#3a3a3a" stroke="#3a3a3a" stroke-width="0.125" textLength="7.40" lengthAdjust="spacingAndGlyphs">4.8</text>
<circle cx="450.1" cy="251.3" r="1.12" fill="#b80826"/>
<circle cx="472.9" cy="262.9" r="1.12" fill="#b80826"/>
<circle cx="443.0" cy="269.1" r="1.12" fill="#b80826"/>
<circle cx="471.3" cy="270.2" r="1.12" fill="#b80826"/>
<circle cx="471.3" cy="272.8" r="1.12" fill="#b80826"/>
<circle cx="501.0" cy="270.2" r="1.12" fill="#b80826"/>
<circle cx="445.0" cy="275.2" r="1.12" fill="#b80826"/>
<circle cx="437.7" cy="284.4" r="1.12" fill="#b80826"/>
<circle cx="443.0" cy="281.7" r="1.12" fill="#b80826"/>
<circle cx="446.6" cy="284.4" r="1.12" fill="#b80826"/>
<circle cx="451.9" cy="284.1" r="1.12" fill="#b80826"/>
<circle cx="462.4" cy="282.0" r="1.12" fill="#b80826"/>
<circle cx="463.9" cy="283.1" r="1.12" fill="#b80826"/>
<circle cx="441.2" cy="292.0" r="1.12" fill="#b80826"/>
<circle cx="443.3" cy="293.3" r="1.12" fill="#b80826"/>
<circle cx="445.0" cy="299.8" r="1.12" fill="#b80826"/>
<circle cx="457.1" cy="289.3" r="1.12" fill="#b80826"/>
<circle cx="457.1" cy="291.7" r="1.12" fill="#b80826"/>
<circle cx="457.1" cy="296.9" r="1.12" fill="#b80826"/>
<circle cx="459.0" cy="294.6" r="1.12" fill="#b80826"/>
<circle cx="461.1" cy="295.7" r="1.12" fill="#b80826"/>
<circle cx="462.2" cy="292.0" r="1.12" fill="#b80826"/>
<circle cx="467.6" cy="301.1" r="1.12" fill="#b80826"/>
<circle cx="471.3" cy="294.6" r="1.12" fill="#b80826"/>
<circle cx="474.8" cy="289.3" r="1.12" fill="#b80826"/>
<circle cx="474.8" cy="296.9" r="1.12" fill="#b80826"/>
<circle cx="476.5" cy="295.7" r="1.12" fill="#b80826"/>
<circle cx="478.4" cy="301.4" r="1.12" fill="#b80826"/>
<circle cx="480.0" cy="302.2" r="1.12" fill="#b80826"/>
<circle cx="483.3" cy="288.1" r="1.12" fill="#b80826"/>
<circle cx="484.9" cy="289.3" r="1.12" fill="#b80826"/>
<circle cx="483.3" cy="302.2" r="1.12" fill="#b80826"/>
<circle cx="484.9" cy="302.2" r="1.12" fill="#b80826"/>
<circle cx="488.6" cy="302.2" r="1.12" fill="#b80826"/>
<circle cx="492.3" cy="296.9" r="1.12" fill="#b80826"/>
<circle cx="495.9" cy="299.5" r="1.12" fill="#b80826"/>
<circle cx="497.5" cy="289.3" r="1.12" fill="#b80826"/>
<circle cx="497.5" cy="290.9" r="1.12" fill="#b80826"/>
<circle cx="501.0" cy="302.2" r="1.12" fill="#b80826"/>
<circle cx="504.7" cy="290.9" r="1.12" fill="#b80826"/>
<circle cx="506.4" cy="302.2" r="1.12" fill="#b80826"/>
<line x1="431.00" y1="269.90" x2="508.30" y2="280.40" stroke="#111" stroke-width="1.1"/>
<text x="488.10" y="250.80" font-size="5.3" stroke="#231f20" stroke-width="0.133" textLength="24.10" lengthAdjust="spacingAndGlyphs">r=-0.3251</text>
<text x="488.10" y="256.90" font-size="5.3" stroke="#231f20" stroke-width="0.133" textLength="23.80" lengthAdjust="spacingAndGlyphs">p=0.0357</text>
<text x="443.30" y="236.00" font-size="7.6" stroke="#231f20" stroke-width="0.190" textLength="38.50" lengthAdjust="spacingAndGlyphs">W/ MYD88</text>
<text x="482.30" y="232.90" font-size="4.5" stroke="#231f20" stroke-width="0.113" textLength="14.70" lengthAdjust="spacingAndGlyphs">L265P</text>
<text x="470.70" y="328.30" font-size="7.8" text-anchor="middle" fill="#3a3a3a" stroke="#3a3a3a" stroke-width="0.195" textLength="58.60" lengthAdjust="spacingAndGlyphs">p-p65 S536 IHC score</text>
<text x="410.80" y="273.50" font-size="7.6" text-anchor="middle" fill="#3a3a3a" stroke="#3a3a3a" stroke-width="0.190" textLength="38.30" lengthAdjust="spacingAndGlyphs" transform="rotate(-90 410.80 273.50)">A20 IHC score</text>
<line x1="45.10" y1="376.50" x2="45.10" y2="442.50" stroke="#000000" stroke-width="1.25"/>
<line x1="44.50" y1="441.90" x2="129.70" y2="441.90" stroke="#000000" stroke-width="1.25"/>
<line x1="45.10" y1="441.90" x2="45.10" y2="444.50" stroke="#000000" stroke-width="0.8"/>
<text x="45.10" y="452.80" font-size="5.2" text-anchor="middle" fill="#3a3a3a" stroke="#3a3a3a" stroke-width="0.130" textLength="2.60" lengthAdjust="spacingAndGlyphs">0</text>
<line x1="65.45" y1="441.90" x2="65.45" y2="444.50" stroke="#000000" stroke-width="0.8"/>
<text x="65.45" y="452.80" font-size="5.2" text-anchor="middle" fill="#3a3a3a" stroke="#3a3a3a" stroke-width="0.130" textLength="2.60" lengthAdjust="spacingAndGlyphs">1</text>
<line x1="85.80" y1="441.90" x2="85.80" y2="444.50" stroke="#000000" stroke-width="0.8"/>
<text x="85.80" y="452.80" font-size="5.2" text-anchor="middle" fill="#3a3a3a" stroke="#3a3a3a" stroke-width="0.130" textLength="2.60" lengthAdjust="spacingAndGlyphs">2</text>
<line x1="106.15" y1="441.90" x2="106.15" y2="444.50" stroke="#000000" stroke-width="0.8"/>
<text x="106.15" y="452.80" font-size="5.2" text-anchor="middle" fill="#3a3a3a" stroke="#3a3a3a" stroke-width="0.130" textLength="2.60" lengthAdjust="spacingAndGlyphs">3</text>
<line x1="126.50" y1="441.90" x2="126.50" y2="444.50" stroke="#000000" stroke-width="0.8"/>
<text x="126.50" y="452.80" font-size="5.2" text-anchor="middle" fill="#3a3a3a" stroke="#3a3a3a" stroke-width="0.130" textLength="2.60" lengthAdjust="spacingAndGlyphs">4</text>
<line x1="41.70" y1="441.90" x2="45.10" y2="441.90" stroke="#000000" stroke-width="0.8"/>
<text x="39.10" y="443.70" font-size="5.0" text-anchor="end" fill="#3a3a3a" stroke="#3a3a3a" stroke-width="0.125" textLength="7.40" lengthAdjust="spacingAndGlyphs">0.0</text>
<line x1="41.70" y1="420.90" x2="45.10" y2="420.90" stroke="#000000" stroke-width="0.8"/>
<text x="39.10" y="422.70" font-size="5.0" text-anchor="end" fill="#3a3a3a" stroke="#3a3a3a" stroke-width="0.125" textLength="7.40" lengthAdjust="spacingAndGlyphs">1.5</text>
<line x1="41.70" y1="399.90" x2="45.10" y2="399.90" stroke="#000000" stroke-width="0.8"/>
<text x="39.10" y="401.70" font-size="5.0" text-anchor="end" fill="#3a3a3a" stroke="#3a3a3a" stroke-width="0.125" textLength="7.40" lengthAdjust="spacingAndGlyphs">3.0</text>
<line x1="41.70" y1="378.90" x2="45.10" y2="378.90" stroke="#000000" stroke-width="0.8"/>
<text x="39.10" y="380.70" font-size="5.0" text-anchor="end" fill="#3a3a3a" stroke="#3a3a3a" stroke-width="0.125" textLength="7.40" lengthAdjust="spacingAndGlyphs">4.5</text>
<circle cx="57.3" cy="400.6" r="1.12" fill="#15306e"/>
<circle cx="59.6" cy="404.0" r="1.12" fill="#15306e"/>
<circle cx="73.5" cy="405.0" r="1.12" fill="#15306e"/>
<circle cx="56.2" cy="409.5" r="1.12" fill="#15306e"/>
<circle cx="50.7" cy="412.0" r="1.12" fill="#15306e"/>
<circle cx="61.5" cy="411.9" r="1.12" fill="#15306e"/>
<circle cx="64.6" cy="412.0" r="1.12" fill="#15306e"/>
<circle cx="81.8" cy="408.2" r="1.12" fill="#15306e"/>
<circle cx="83.0" cy="409.5" r="1.12" fill="#15306e"/>
<circle cx="82.4" cy="411.0" r="1.12" fill="#15306e"/>
<circle cx="83.3" cy="412.3" r="1.12" fill="#15306e"/>
<circle cx="60.2" cy="416.1" r="1.12" fill="#15306e"/>
<circle cx="64.0" cy="416.1" r="1.12" fill="#15306e"/>
<circle cx="72.6" cy="415.8" r="1.12" fill="#15306e"/>
<circle cx="53.9" cy="418.6" r="1.12" fill="#15306e"/>
<circle cx="55.8" cy="418.2" r="1.12" fill="#15306e"/>
<circle cx="61.5" cy="418.6" r="1.12" fill="#15306e"/>
<circle cx="67.2" cy="418.0" r="1.12" fill="#15306e"/>
<circle cx="69.7" cy="418.0" r="1.12" fill="#15306e"/>
<circle cx="77.3" cy="417.3" r="1.12" fill="#15306e"/>
<circle cx="78.6" cy="416.1" r="1.12" fill="#15306e"/>
<circle cx="79.9" cy="415.4" r="1.12" fill="#15306e"/>
<circle cx="77.7" cy="418.6" r="1.12" fill="#15306e"/>
<circle cx="79.9" cy="418.2" r="1.12" fill="#15306e"/>
<circle cx="82.4" cy="418.0" r="1.12" fill="#15306e"/>
<circle cx="84.3" cy="418.6" r="1.12" fill="#15306e"/>
<circle cx="88.1" cy="420.7" r="1.12" fill="#15306e"/>
<circle cx="53.2" cy="422.8" r="1.12" fill="#15306e"/>
<circle cx="54.5" cy="423.7" r="1.12" fill="#15306e"/>
<circle cx="61.2" cy="422.8" r="1.12" fill="#15306e"/>
<circle cx="63.4" cy="424.5" r="1.12" fill="#15306e"/>
<circle cx="69.3" cy="421.5" r="1.12" fill="#15306e"/>
<circle cx="73.5" cy="423.4" r="1.12" fill="#15306e"/>
<circle cx="77.3" cy="422.8" r="1.12" fill="#15306e"/>
<circle cx="83.0" cy="422.4" r="1.12" fill="#15306e"/>
<circle cx="88.1" cy="423.7" r="1.12" fill="#15306e"/>
<circle cx="53.2" cy="425.3" r="1.12" fill="#15306e"/>
<circle cx="71.9" cy="426.2" r="1.12" fill="#15306e"/>
<circle cx="76.4" cy="425.9" r="1.12" fill="#15306e"/>
<circle cx="80.5" cy="425.3" r="1.12" fill="#15306e"/>
<circle cx="83.7" cy="426.2" r="1.12" fill="#15306e"/>
<circle cx="60.2" cy="429.1" r="1.12" fill="#15306e"/>
<circle cx="68.5" cy="429.6" r="1.12" fill="#15306e"/>
<circle cx="79.2" cy="428.7" r="1.12" fill="#15306e"/>
<circle cx="78.6" cy="430.4" r="1.12" fill="#15306e"/>
<circle cx="76.7" cy="430.9" r="1.12" fill="#15306e"/>
<circle cx="58.3" cy="431.9" r="1.12" fill="#15306e"/>
<circle cx="59.6" cy="432.9" r="1.12" fill="#15306e"/>
<circle cx="54.9" cy="432.9" r="1.12" fill="#15306e"/>
<circle cx="66.5" cy="432.9" r="1.12" fill="#15306e"/>
<circle cx="68.5" cy="432.9" r="1.12" fill="#15306e"/>
<circle cx="79.2" cy="431.9" r="1.12" fill="#15306e"/>
<circle cx="83.7" cy="432.2" r="1.12" fill="#15306e"/>
<circle cx="60.2" cy="434.2" r="1.12" fill="#15306e"/>
<circle cx="51.1" cy="436.0" r="1.12" fill="#15306e"/>
<circle cx="52.9" cy="435.7" r="1.12" fill="#15306e"/>
<circle cx="73.5" cy="436.0" r="1.12" fill="#15306e"/>
<circle cx="76.1" cy="435.7" r="1.12" fill="#15306e"/>
<circle cx="76.7" cy="436.7" r="1.12" fill="#15306e"/>
<circle cx="81.1" cy="436.7" r="1.12" fill="#15306e"/>
<circle cx="82.4" cy="436.3" r="1.12" fill="#15306e"/>
<circle cx="88.1" cy="435.5" r="1.12" fill="#15306e"/>
<circle cx="110.0" cy="392.9" r="1.12" fill="#15306e"/>
<circle cx="92.0" cy="406.8" r="1.12" fill="#15306e"/>
<circle cx="108.1" cy="406.8" r="1.12" fill="#15306e"/>
<circle cx="104.6" cy="409.5" r="1.12" fill="#15306e"/>
<circle cx="92.0" cy="412.3" r="1.12" fill="#15306e"/>
<circle cx="108.1" cy="417.7" r="1.12" fill="#15306e"/>
<circle cx="112.0" cy="416.4" r="1.12" fill="#15306e"/>
<circle cx="116.1" cy="415.0" r="1.12" fill="#15306e"/>
<circle cx="118.2" cy="415.2" r="1.12" fill="#15306e"/>
<circle cx="122.8" cy="417.7" r="1.12" fill="#15306e"/>
<circle cx="87.8" cy="420.7" r="1.12" fill="#15306e"/>
<circle cx="87.8" cy="423.7" r="1.12" fill="#15306e"/>
<circle cx="92.0" cy="425.3" r="1.12" fill="#15306e"/>
<circle cx="96.2" cy="422.8" r="1.12" fill="#15306e"/>
<circle cx="96.2" cy="424.3" r="1.12" fill="#15306e"/>
<circle cx="116.1" cy="423.7" r="1.12" fill="#15306e"/>
<circle cx="118.2" cy="426.6" r="1.12" fill="#15306e"/>
<circle cx="120.2" cy="424.9" r="1.12" fill="#15306e"/>
<circle cx="122.1" cy="423.0" r="1.12" fill="#15306e"/>
<circle cx="92.0" cy="430.4" r="1.12" fill="#15306e"/>
<circle cx="92.0" cy="431.9" r="1.12" fill="#15306e"/>
<circle cx="97.9" cy="431.3" r="1.12" fill="#15306e"/>
<circle cx="97.9" cy="433.8" r="1.12" fill="#15306e"/>
<circle cx="110.1" cy="431.3" r="1.12" fill="#15306e"/>
<circle cx="114.4" cy="433.2" r="1.12" fill="#15306e"/>
<circle cx="87.8" cy="435.4" r="1.12" fill="#15306e"/>
<circle cx="92.0" cy="435.4" r="1.12" fill="#15306e"/>
<line x1="48.70" y1="421.20" x2="129.70" y2="417.80" stroke="#111" stroke-width="1.1"/>
<text x="50.30" y="386.80" font-size="5.3" stroke="#231f20" stroke-width="0.133" textLength="22.50" lengthAdjust="spacingAndGlyphs">r=0.0685</text>
<text x="50.30" y="393.40" font-size="5.3" stroke="#231f20" stroke-width="0.133" textLength="24.50" lengthAdjust="spacingAndGlyphs">p=0.4940</text>
<text x="57.20" y="371.80" font-size="7.6" stroke="#231f20" stroke-width="0.190" textLength="45.00" lengthAdjust="spacingAndGlyphs">W/O MYD88</text>
<text x="102.70" y="368.70" font-size="4.5" stroke="#231f20" stroke-width="0.113" textLength="15.10" lengthAdjust="spacingAndGlyphs">L265P</text>
<text x="87.70" y="463.60" font-size="7.8" text-anchor="middle" fill="#3a3a3a" stroke="#3a3a3a" stroke-width="0.195" textLength="58.60" lengthAdjust="spacingAndGlyphs">p-p65 S536 IHC score</text>
<text x="26.40" y="408.80" font-size="7.6" text-anchor="middle" fill="#3a3a3a" stroke="#3a3a3a" stroke-width="0.190" textLength="49.20" lengthAdjust="spacingAndGlyphs" transform="rotate(-90 26.40 408.80)">RNF138 IHC score</text>
<line x1="167.90" y1="376.50" x2="167.90" y2="442.00" stroke="#000000" stroke-width="1.25"/>
<line x1="167.30" y1="441.40" x2="243.50" y2="441.40" stroke="#000000" stroke-width="1.25"/>
<line x1="167.90" y1="441.40" x2="167.90" y2="444.00" stroke="#000000" stroke-width="0.8"/>
<text x="167.90" y="452.30" font-size="5.2" text-anchor="middle" fill="#3a3a3a" stroke="#3a3a3a" stroke-width="0.130" textLength="7.00" lengthAdjust="spacingAndGlyphs">0.0</text>
<line x1="192.95" y1="441.40" x2="192.95" y2="444.00" stroke="#000000" stroke-width="0.8"/>
<text x="192.95" y="452.30" font-size="5.2" text-anchor="middle" fill="#3a3a3a" stroke="#3a3a3a" stroke-width="0.130" textLength="7.00" lengthAdjust="spacingAndGlyphs">1.6</text>
<line x1="218.00" y1="441.40" x2="218.00" y2="444.00" stroke="#000000" stroke-width="0.8"/>
<text x="218.00" y="452.30" font-size="5.2" text-anchor="middle" fill="#3a3a3a" stroke="#3a3a3a" stroke-width="0.130" textLength="7.00" lengthAdjust="spacingAndGlyphs">3.2</text>
<line x1="243.05" y1="441.40" x2="243.05" y2="444.00" stroke="#000000" stroke-width="0.8"/>
<text x="243.05" y="452.30" font-size="5.2" text-anchor="middle" fill="#3a3a3a" stroke="#3a3a3a" stroke-width="0.130" textLength="7.00" lengthAdjust="spacingAndGlyphs">4.8</text>
<line x1="164.50" y1="441.40" x2="167.90" y2="441.40" stroke="#000000" stroke-width="0.8"/>
<text x="161.90" y="443.20" font-size="5.0" text-anchor="end" fill="#3a3a3a" stroke="#3a3a3a" stroke-width="0.125" textLength="7.40" lengthAdjust="spacingAndGlyphs">0.0</text>
<line x1="164.50" y1="421.10" x2="167.90" y2="421.10" stroke="#000000" stroke-width="0.8"/>
<text x="161.90" y="422.90" font-size="5.0" text-anchor="end" fill="#3a3a3a" stroke="#3a3a3a" stroke-width="0.125" textLength="7.40" lengthAdjust="spacingAndGlyphs">1.6</text>
<line x1="164.50" y1="400.80" x2="167.90" y2="400.80" stroke="#000000" stroke-width="0.8"/>
<text x="161.90" y="402.60" font-size="5.0" text-anchor="end" fill="#3a3a3a" stroke="#3a3a3a" stroke-width="0.125" textLength="7.40" lengthAdjust="spacingAndGlyphs">3.2</text>
<line x1="164.50" y1="380.50" x2="167.90" y2="380.50" stroke="#000000" stroke-width="0.8"/>
<text x="161.90" y="382.30" font-size="5.0" text-anchor="end" fill="#3a3a3a" stroke="#3a3a3a" stroke-width="0.125" textLength="7.40" lengthAdjust="spacingAndGlyphs">4.8</text>
<circle cx="218.1" cy="391.5" r="1.12" fill="#b80826"/>
<circle cx="231.9" cy="394.2" r="1.12" fill="#b80826"/>
<circle cx="236.5" cy="392.8" r="1.12" fill="#b80826"/>
<circle cx="197.3" cy="398.0" r="1.12" fill="#b80826"/>
<circle cx="216.2" cy="399.2" r="1.12" fill="#b80826"/>
<circle cx="235.0" cy="398.9" r="1.12" fill="#b80826"/>
<circle cx="179.6" cy="404.2" r="1.12" fill="#b80826"/>
<circle cx="181.2" cy="405.4" r="1.12" fill="#b80826"/>
<circle cx="197.3" cy="404.3" r="1.12" fill="#b80826"/>
<circle cx="201.9" cy="405.7" r="1.12" fill="#b80826"/>
<circle cx="178.4" cy="408.2" r="1.12" fill="#b80826"/>
<circle cx="227.3" cy="401.8" r="1.12" fill="#b80826"/>
<circle cx="224.2" cy="406.9" r="1.12" fill="#b80826"/>
<circle cx="211.6" cy="408.5" r="1.12" fill="#b80826"/>
<circle cx="206.5" cy="410.5" r="1.12" fill="#b80826"/>
<circle cx="199.2" cy="410.5" r="1.12" fill="#b80826"/>
<circle cx="192.7" cy="412.3" r="1.12" fill="#b80826"/>
<circle cx="192.7" cy="414.2" r="1.12" fill="#b80826"/>
<circle cx="216.2" cy="413.1" r="1.12" fill="#b80826"/>
<circle cx="228.8" cy="412.0" r="1.12" fill="#b80826"/>
<circle cx="231.9" cy="412.0" r="1.12" fill="#b80826"/>
<circle cx="197.3" cy="416.9" r="1.12" fill="#b80826"/>
<circle cx="205.3" cy="418.5" r="1.12" fill="#b80826"/>
<circle cx="209.9" cy="418.5" r="1.12" fill="#b80826"/>
<circle cx="213.0" cy="418.5" r="1.12" fill="#b80826"/>
<circle cx="221.2" cy="417.2" r="1.12" fill="#b80826"/>
<circle cx="218.1" cy="419.7" r="1.12" fill="#b80826"/>
<circle cx="193.5" cy="421.1" r="1.12" fill="#b80826"/>
<circle cx="195.8" cy="421.1" r="1.12" fill="#b80826"/>
<circle cx="187.8" cy="422.0" r="1.12" fill="#b80826"/>
<circle cx="179.9" cy="424.9" r="1.12" fill="#b80826"/>
<circle cx="205.3" cy="423.5" r="1.12" fill="#b80826"/>
<circle cx="208.5" cy="427.4" r="1.12" fill="#b80826"/>
<circle cx="179.9" cy="432.6" r="1.12" fill="#b80826"/>
<circle cx="181.6" cy="433.8" r="1.12" fill="#b80826"/>
<circle cx="183.2" cy="433.8" r="1.12" fill="#b80826"/>
<circle cx="192.7" cy="432.6" r="1.12" fill="#b80826"/>
<circle cx="208.5" cy="433.8" r="1.12" fill="#b80826"/>
<circle cx="175.0" cy="436.6" r="1.12" fill="#b80826"/>
<circle cx="186.2" cy="438.8" r="1.12" fill="#b80826"/>
<line x1="169.60" y1="420.80" x2="240.80" y2="398.00" stroke="#111" stroke-width="1.1"/>
<text x="172.90" y="386.80" font-size="5.3" stroke="#231f20" stroke-width="0.133" textLength="21.90" lengthAdjust="spacingAndGlyphs">r=0.5572</text>
<text x="172.90" y="393.60" font-size="5.3" stroke="#231f20" stroke-width="0.133" textLength="22.90" lengthAdjust="spacingAndGlyphs">p=0.0001</text>
<text x="180.00" y="371.70" font-size="7.6" stroke="#231f20" stroke-width="0.190" textLength="38.10" lengthAdjust="spacingAndGlyphs">W/ MYD88</text>
<text x="218.60" y="368.60" font-size="4.5" stroke="#231f20" stroke-width="0.113" textLength="15.00" lengthAdjust="spacingAndGlyphs">L265P</text>
<text x="207.50" y="464.10" font-size="7.8" text-anchor="middle" fill="#3a3a3a" stroke="#3a3a3a" stroke-width="0.195" textLength="58.10" lengthAdjust="spacingAndGlyphs">p-p65 S536 IHC score</text>
<text x="147.20" y="408.80" font-size="7.6" text-anchor="middle" fill="#3a3a3a" stroke="#3a3a3a" stroke-width="0.190" textLength="49.20" lengthAdjust="spacingAndGlyphs" transform="rotate(-90 147.20 408.80)">RNF138 IHC score</text>
<rect x="293.1" y="384.7" width="218" height="2.9" rx="1.45" fill="#cfcfe2" stroke="#5a5a6a" stroke-width="0.75"/>
<ellipse cx="342.60" cy="374.4" rx="1.75" ry="5.2" fill="#f2cbbb" stroke="#777" stroke-width="0.7"/>
<rect x="340.95" y="379.6" width="3.3" height="11.0" fill="#aca4e2" stroke="#26263a" stroke-width="0.8"/>
<ellipse cx="346.10" cy="374.4" rx="1.75" ry="5.2" fill="#f2cbbb" stroke="#777" stroke-width="0.7"/>
<rect x="344.45" y="379.6" width="3.3" height="11.0" fill="#aca4e2" stroke="#26263a" stroke-width="0.8"/>
<ellipse cx="374.50" cy="374.4" rx="1.75" ry="5.2" fill="#f2cbbb" stroke="#777" stroke-width="0.7"/>
<rect x="372.85" y="379.6" width="3.3" height="11.0" fill="#aca4e2" stroke="#26263a" stroke-width="0.8"/>
<ellipse cx="378.00" cy="374.4" rx="1.75" ry="5.2" fill="#f2cbbb" stroke="#777" stroke-width="0.7"/>
<rect x="376.35" y="379.6" width="3.3" height="11.0" fill="#aca4e2" stroke="#26263a" stroke-width="0.8"/>
<path d="M341.9,362.0 L346.0,362.0 L343.9,365.0 Z" fill="#1f3a7a" stroke="#1f3a7a" stroke-width="0.4" stroke-linejoin="round"/>
<path d="M339.5,367.9 L342.9,367.9 L342.3,364.9 Z" fill="#1f3a7a" stroke="#1f3a7a" stroke-width="0.4" stroke-linejoin="round"/>
<path d="M346.0,365.0 L350.0,365.0 L347.9,368.0 Z" fill="#1f3a7a" stroke="#1f3a7a" stroke-width="0.4" stroke-linejoin="round"/>
<circle cx="372.6" cy="363.7" r="1.75" fill="#2c4a8a"/>
<circle cx="376.2" cy="366.5" r="1.75" fill="#2c4a8a"/>
<circle cx="380.2" cy="363.3" r="1.75" fill="#2c4a8a"/>
<ellipse cx="412.80" cy="374.4" rx="1.9" ry="5.2" fill="#f2cbbb" stroke="#777" stroke-width="0.7"/>
<rect x="411.25" y="379.6" width="3.1" height="11.0" fill="#aca4e2" stroke="#26263a" stroke-width="0.8"/>
<ellipse cx="419.60" cy="374.4" rx="1.9" ry="5.2" fill="#f2cbbb" stroke="#777" stroke-width="0.7"/>
<rect x="418.05" y="379.6" width="3.1" height="11.0" fill="#aca4e2" stroke="#26263a" stroke-width="0.8"/>
<ellipse cx="442.30" cy="374.4" rx="1.9" ry="5.2" fill="#f2cbbb" stroke="#777" stroke-width="0.7"/>
<rect x="440.75" y="379.6" width="3.1" height="11.0" fill="#aca4e2" stroke="#26263a" stroke-width="0.8"/>
<ellipse cx="449.30" cy="374.4" rx="1.9" ry="5.2" fill="#f2cbbb" stroke="#777" stroke-width="0.7"/>
<rect x="447.75" y="379.6" width="3.1" height="11.0" fill="#aca4e2" stroke="#26263a" stroke-width="0.8"/>
<text x="317.90" y="376.80" font-size="4.6" fill="#505050" stroke="#505050" stroke-width="0.115" textLength="13.20" lengthAdjust="spacingAndGlyphs">Ligand</text>
<text x="352.20" y="383.10" font-size="4.3" fill="#505050" stroke="#505050" stroke-width="0.107" textLength="7.00" lengthAdjust="spacingAndGlyphs">TLR</text>
<text x="455.00" y="376.80" font-size="4.6" fill="#505050" stroke="#505050" stroke-width="0.115" textLength="30.00" lengthAdjust="spacingAndGlyphs">No stimulation</text>
<text x="320.20" y="397.00" font-size="4.6" fill="#505050" stroke="#505050" stroke-width="0.115" textLength="14.50" lengthAdjust="spacingAndGlyphs">K48 Ub</text>
<text x="410.20" y="396.60" font-size="4.6" fill="#505050" stroke="#505050" stroke-width="0.115" textLength="14.60" lengthAdjust="spacingAndGlyphs">K63 Ub</text>
<line x1="399.4" y1="361.9" x2="399.4" y2="466" stroke="#4a6aa8" stroke-width="1" stroke-dasharray="5,6"/>
<rect x="325.40" y="403.40" width="18.60" height="9.00" rx="1.2" fill="#e48cc6" stroke="#6a70b8" stroke-width="1.05"/>
<text x="334.70" y="409.70" font-size="5.0" text-anchor="middle" fill="#3a3a3a" stroke="#3a3a3a" stroke-width="0.125" textLength="15.70" lengthAdjust="spacingAndGlyphs">RNF138</text>
<rect x="327.30" y="417.70" width="16.40" height="6.70" rx="1.2" fill="#d0d2e6" stroke="#3a3a3a" stroke-width="1.05"/>
<text x="335.50" y="422.63" font-size="4.4" text-anchor="middle" fill="#3a3a3a" stroke="#3a3a3a" stroke-width="0.110" textLength="8.80" lengthAdjust="spacingAndGlyphs">RIP1</text>
<rect x="327.30" y="426.20" width="16.40" height="6.20" rx="1.2" fill="#f2c6e2" stroke="#3a3a3a" stroke-width="1.05"/>
<text x="335.50" y="430.88" font-size="4.4" text-anchor="middle" fill="#3a3a3a" stroke="#3a3a3a" stroke-width="0.110" textLength="13.00" lengthAdjust="spacingAndGlyphs">TRAF6</text>
<rect x="327.30" y="434.20" width="16.40" height="6.30" rx="1.2" fill="#e4f0cc" stroke="#3a3a3a" stroke-width="1.05"/>
<text x="335.50" y="438.93" font-size="4.4" text-anchor="middle" fill="#3a3a3a" stroke="#3a3a3a" stroke-width="0.110" textLength="9.60" lengthAdjust="spacingAndGlyphs">RIP2</text>
<ellipse cx="303.7" cy="419.2" rx="7.6" ry="4.6" fill="#d8e0b0" stroke="#333" stroke-width="0.7"/>
<text x="303.70" y="421.00" font-size="4.6" text-anchor="middle" fill="#333" stroke="#333" stroke-width="0.115" textLength="9.50" lengthAdjust="spacingAndGlyphs">ZNFs</text>
<rect x="297.8" y="423.6" width="13" height="8.3" rx="1.5" fill="#e08e78" stroke="#333" stroke-width="0.7"/>
<text x="304.30" y="429.60" font-size="4.6" text-anchor="middle" fill="#333" stroke="#333" stroke-width="0.115" textLength="8.50" lengthAdjust="spacingAndGlyphs">OTU</text>
<text x="277.00" y="420.90" font-size="4.6" fill="#505050" stroke="#505050" stroke-width="0.115" textLength="17.60" lengthAdjust="spacingAndGlyphs">E3 ligase</text>
<text x="286.20" y="428.80" font-size="4.6" fill="#505050" stroke="#505050" stroke-width="0.115" textLength="9.20" lengthAdjust="spacingAndGlyphs">DUB</text>
<text x="303.80" y="436.80" font-size="4.6" text-anchor="middle" fill="#505050" stroke="#505050" stroke-width="0.115" textLength="8.10" lengthAdjust="spacingAndGlyphs">A20</text>
<line x1="311.90" y1="414.10" x2="323.20" y2="411.40" stroke="#cc3352" stroke-width="0.9"/>
<line x1="322.40" y1="408.60" x2="323.90" y2="413.90" stroke="#cc3352" stroke-width="0.9"/>
<line x1="311.90" y1="419.10" x2="323.40" y2="419.10" stroke="#cc3352" stroke-width="0.9"/>
<line x1="323.40" y1="416.90" x2="323.40" y2="421.30" stroke="#cc3352" stroke-width="0.9"/>
<line x1="311.90" y1="427.90" x2="325.30" y2="427.90" stroke="#cc3352" stroke-width="0.9"/>
<line x1="325.30" y1="419.40" x2="325.30" y2="439.40" stroke="#cc3352" stroke-width="0.9"/>
<polyline points="328.7,402.6 330.2,401.2 331.6,402.0 333.0,399.8 334.6,400.4 336.0,398.0 337.6,398.4 338.8,396.4 340.8,395.9" fill="none" stroke="#a8002a" stroke-width="1.45" stroke-linejoin="round" stroke-linecap="round"/>
<line x1="346.4" y1="407.8" x2="357.2" y2="407.8" stroke="#222" stroke-width="1.0" stroke-dasharray="1.1,1.1"/>
<path d="M356.6,406.3 L359.6,407.8 L356.6,409.3 Z" fill="#222"/>
<line x1="347.8" y1="429.2" x2="356.6" y2="423.8" stroke="#222" stroke-width="0.9" stroke-dasharray="1.1,1.1"/>
<path d="M355.6,422.6 L358.8,422.3 L357.2,425.0 Z" fill="#222"/>
<rect x="366.60" y="393.50" width="19.90" height="8.40" rx="1.2" fill="#c9cbe0" stroke="#6a7ab4" stroke-width="1.05"/>
<text x="376.55" y="399.39" font-size="4.7" text-anchor="middle" fill="#3a3a3a" stroke="#3a3a3a" stroke-width="0.118" textLength="15.00" lengthAdjust="spacingAndGlyphs">MYD88</text>
<rect x="366.60" y="402.80" width="19.90" height="8.40" rx="1.2" fill="#c9cbe0" stroke="#6a7ab4" stroke-width="1.05"/>
<text x="376.55" y="408.69" font-size="4.7" text-anchor="middle" fill="#3a3a3a" stroke="#3a3a3a" stroke-width="0.118" textLength="15.00" lengthAdjust="spacingAndGlyphs">MYD88</text>
<rect x="360.10" y="412.30" width="16.50" height="8.50" rx="1.2" fill="#86bbea" stroke="#4a7cc4" stroke-width="1.05"/>
<text x="368.35" y="418.21" font-size="4.6" text-anchor="middle" fill="#3a3a3a" stroke="#3a3a3a" stroke-width="0.115" textLength="13.00" lengthAdjust="spacingAndGlyphs">IRAK1</text>
<rect x="376.60" y="412.30" width="16.20" height="8.50" rx="1.2" fill="#fbe8a4" stroke="#4a7cc4" stroke-width="1.05"/>
<text x="384.70" y="418.21" font-size="4.6" text-anchor="middle" fill="#3a3a3a" stroke="#3a3a3a" stroke-width="0.115" textLength="12.50" lengthAdjust="spacingAndGlyphs">IRAK4</text>
<line x1="372.30" y1="430.30" x2="372.30" y2="442.80" stroke="#222" stroke-width="0.9"/>
<path d="M370.8,442.2 L373.8,442.2 L372.3,445.5 Z" fill="#222"/>
<line x1="427.80" y1="430.30" x2="427.80" y2="442.80" stroke="#222" stroke-width="0.9"/>
<path d="M426.3,442.2 L429.3,442.2 L427.8,445.5 Z" fill="#222"/>
<text x="358.50" y="454.40" font-size="4.4" font-weight="bold" fill="#111" stroke="#111" stroke-width="0.308" textLength="27.00" lengthAdjust="spacingAndGlyphs">Physiological</text>
<text x="355.10" y="459.60" font-size="4.4" font-weight="bold" fill="#111" stroke="#111" stroke-width="0.308" textLength="33.80" lengthAdjust="spacingAndGlyphs">NF-κB activation</text>
<text x="416.60" y="454.40" font-size="4.4" font-weight="bold" fill="#111" stroke="#111" stroke-width="0.308" textLength="17.00" lengthAdjust="spacingAndGlyphs">Oncogenic</text>
<text x="410.40" y="459.60" font-size="4.4" font-weight="bold" fill="#111" stroke="#111" stroke-width="0.308" textLength="34.40" lengthAdjust="spacingAndGlyphs">NF-κB activation</text>
<polyline points="428.40,391.40 428.74,392.90 430.88,392.00 430.62,394.30 432.76,393.40 432.50,395.70 434.64,394.80 434.38,397.10 436.52,396.20 436.26,398.50 437.80,398.40" fill="none" stroke="#92b448" stroke-width="1.0" stroke-linejoin="round"/>
<polyline points="402.90,404.30 403.29,406.02 405.72,405.55 405.43,408.00 407.86,407.53 407.57,409.98 410.00,409.51 409.71,411.96 412.14,411.49 411.85,413.94 413.60,414.20" fill="none" stroke="#92b448" stroke-width="1.0" stroke-linejoin="round"/>
<rect x="414.20" y="399.40" width="25.20" height="8.30" rx="1.2" fill="#c9cbe0" stroke="#6a7ab4" stroke-width="1.05"/>
<text x="423.80" y="405.35" font-size="5.0" text-anchor="middle" fill="#3a3a3a" stroke="#3a3a3a" stroke-width="0.125" textLength="15.80" lengthAdjust="spacingAndGlyphs">MYD88</text>
<rect x="414.20" y="408.70" width="25.20" height="8.20" rx="1.2" fill="#c9cbe0" stroke="#6a7ab4" stroke-width="1.05"/>
<text x="423.80" y="414.60" font-size="5.0" text-anchor="middle" fill="#3a3a3a" stroke="#3a3a3a" stroke-width="0.125" textLength="15.80" lengthAdjust="spacingAndGlyphs">MYD88</text>
<text x="431.70" y="403.40" font-size="2.6" fill="#666" stroke="#666" stroke-width="0.065" textLength="5.40" lengthAdjust="spacingAndGlyphs">L265P</text>
<text x="431.70" y="412.80" font-size="2.6" fill="#666" stroke="#666" stroke-width="0.065" textLength="5.40" lengthAdjust="spacingAndGlyphs">L265P</text>
<rect x="410.30" y="418.20" width="16.50" height="8.70" rx="1.2" fill="#86bbea" stroke="#4a7cc4" stroke-width="1.05"/>
<text x="418.55" y="424.24" font-size="4.7" text-anchor="middle" fill="#3a3a3a" stroke="#3a3a3a" stroke-width="0.118" textLength="12.30" lengthAdjust="spacingAndGlyphs">IRAK1</text>
<rect x="426.80" y="418.20" width="16.60" height="8.70" rx="1.2" fill="#fbe8a4" stroke="#4a7cc4" stroke-width="1.05"/>
<text x="435.10" y="424.24" font-size="4.7" text-anchor="middle" fill="#3a3a3a" stroke="#3a3a3a" stroke-width="0.118" textLength="12.30" lengthAdjust="spacingAndGlyphs">IRAK4</text>
<line x1="456.20" y1="408.60" x2="445.50" y2="408.60" stroke="#222" stroke-width="0.9"/>
<path d="M446.2,407.0 L443.0,408.6 L446.2,410.2 Z" fill="#222"/>
<line x1="458.50" y1="426.40" x2="449.80" y2="423.70" stroke="#222" stroke-width="0.9"/>
<path d="M450.6,422.0 L447.3,423.0 L449.7,425.2 Z" fill="#222"/>
<rect x="459.30" y="403.50" width="18.40" height="8.60" rx="1.2" fill="#dc7cb6" stroke="#6a70b8" stroke-width="1.05"/>
<text x="468.50" y="409.60" font-size="5.0" text-anchor="middle" fill="#3a3a3a" stroke="#3a3a3a" stroke-width="0.125" textLength="15.40" lengthAdjust="spacingAndGlyphs">RNF138</text>
<rect x="461.50" y="417.70" width="16.20" height="6.90" rx="1.2" fill="#c8c8cc" stroke="#3a3a3a" stroke-width="1.05"/>
<text x="469.60" y="422.73" font-size="4.4" text-anchor="middle" fill="#3a3a3a" stroke="#3a3a3a" stroke-width="0.110" textLength="8.80" lengthAdjust="spacingAndGlyphs">RIP1</text>
<rect x="461.50" y="426.20" width="16.20" height="6.20" rx="1.2" fill="#f2c4da" stroke="#3a3a3a" stroke-width="1.05"/>
<text x="469.60" y="430.88" font-size="4.4" text-anchor="middle" fill="#3a3a3a" stroke="#3a3a3a" stroke-width="0.110" textLength="13.00" lengthAdjust="spacingAndGlyphs">TRAF6</text>
<rect x="461.50" y="434.20" width="16.20" height="6.50" rx="1.2" fill="#e2f0cc" stroke="#3a3a3a" stroke-width="1.05"/>
<text x="469.60" y="439.03" font-size="4.4" text-anchor="middle" fill="#3a3a3a" stroke="#3a3a3a" stroke-width="0.110" textLength="9.60" lengthAdjust="spacingAndGlyphs">RIP2</text>
<line x1="478.30" y1="419.20" x2="478.30" y2="440.80" stroke="#cc3352" stroke-width="0.9"/>
<line x1="493.8" y1="416.6" x2="481.4" y2="409.6" stroke="#cc3352" stroke-width="0.9" stroke-dasharray="2.6,1.9"/>
<line x1="479.60" y1="411.60" x2="482.60" y2="406.80" stroke="#cc3352" stroke-width="0.9"/>
<line x1="494.0" y1="421.5" x2="479.8" y2="421.5" stroke="#cc3352" stroke-width="0.9" stroke-dasharray="2.6,1.9"/>
<line x1="479.60" y1="419.30" x2="479.60" y2="423.70" stroke="#cc3352" stroke-width="0.9"/>
<line x1="494.6" y1="428.9" x2="478.5" y2="428.9" stroke="#cc3352" stroke-width="0.9" stroke-dasharray="2.6,1.9"/>
<ellipse cx="503.2" cy="420.9" rx="7.3" ry="4.9" fill="#f2f2f2" stroke="#333" stroke-width="0.9" stroke-dasharray="1.3,1.0"/>
<text x="503.20" y="422.60" font-size="4.6" text-anchor="middle" fill="#333" stroke="#333" stroke-width="0.115" textLength="9.50" lengthAdjust="spacingAndGlyphs">ZNFs</text>
<rect x="496.9" y="425.4" width="13.1" height="9.1" rx="3" fill="#f2f2f2" stroke="#333" stroke-width="0.9" stroke-dasharray="1.3,1.0"/>
<text x="503.40" y="431.60" font-size="4.6" text-anchor="middle" fill="#333" stroke="#333" stroke-width="0.115" textLength="8.50" lengthAdjust="spacingAndGlyphs">OTU</text>
<text x="503.60" y="441.30" font-size="4.6" text-anchor="middle" fill="#505050" stroke="#505050" stroke-width="0.115" textLength="8.70" lengthAdjust="spacingAndGlyphs">A20</text>
<rect x="0.5" y="0.5" width="519" height="472" fill="none" stroke="#000" stroke-width="1.2"/>
</svg></body></html>
